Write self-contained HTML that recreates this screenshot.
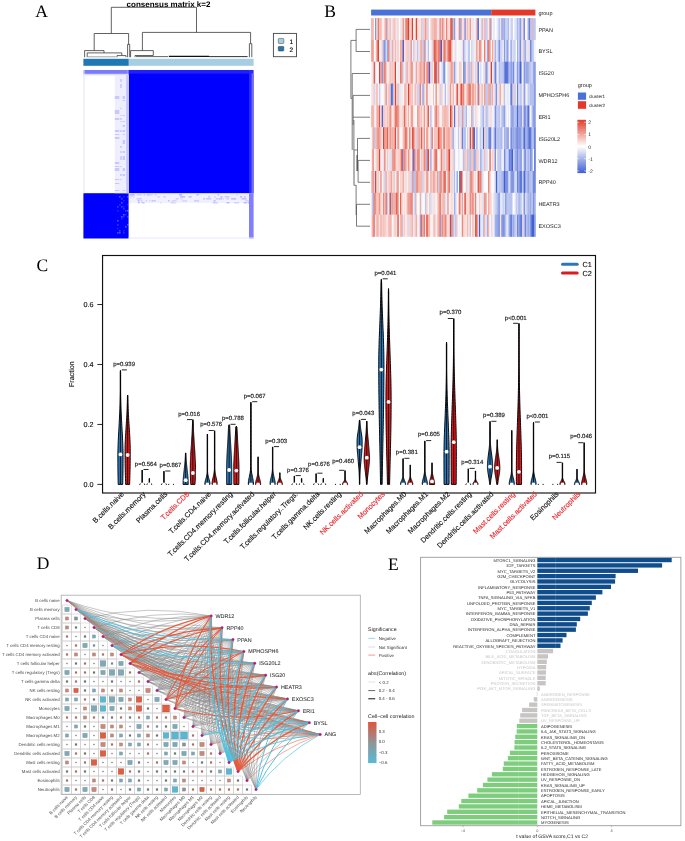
<!DOCTYPE html>
<html><head><meta charset="utf-8"><style>
html,body{margin:0;padding:0;background:#fff;}
svg{display:block;filter:blur(0.3px);}

</style></head><body>
<svg width="685" height="841" viewBox="0 0 685 841" text-rendering="geometricPrecision">
<rect width="685" height="841" fill="#fff"/>
<text x="35.20" y="16.80" font-size="17.5" text-anchor="start" fill="#000" font-family='"Liberation Serif", serif' font-weight="normal" >A</text>
<text x="324.30" y="16.80" font-size="17.5" text-anchor="start" fill="#000" font-family='"Liberation Serif", serif' font-weight="normal" >B</text>
<text x="36.50" y="270.80" font-size="17.5" text-anchor="start" fill="#000" font-family='"Liberation Serif", serif' font-weight="normal" >C</text>
<text x="36.80" y="568.80" font-size="17.5" text-anchor="start" fill="#000" font-family='"Liberation Serif", serif' font-weight="normal" >D</text>
<text x="388.00" y="570.20" font-size="17.5" text-anchor="start" fill="#000" font-family='"Liberation Serif", serif' font-weight="normal" >E</text>
<text x="168.50" y="6.80" font-size="8.0" text-anchor="middle" fill="#000" font-family='"Liberation Sans", sans-serif' font-weight="bold" >consensus matrix k=2</text>
<line x1="111.30" y1="7.30" x2="196.50" y2="7.30" stroke="#3a3a3a" stroke-width="0.8" />
<line x1="111.30" y1="7.30" x2="111.30" y2="33.50" stroke="#3a3a3a" stroke-width="0.8" />
<line x1="196.50" y1="7.30" x2="196.50" y2="32.40" stroke="#3a3a3a" stroke-width="0.8" />
<line x1="94.20" y1="33.50" x2="128.60" y2="33.50" stroke="#3a3a3a" stroke-width="0.8" />
<line x1="94.20" y1="33.50" x2="94.20" y2="50.60" stroke="#3a3a3a" stroke-width="0.8" />
<line x1="128.60" y1="33.50" x2="128.60" y2="44.40" stroke="#3a3a3a" stroke-width="0.8" />
<line x1="84.60" y1="50.60" x2="104.00" y2="50.60" stroke="#3a3a3a" stroke-width="0.8" />
<line x1="84.60" y1="50.60" x2="84.60" y2="57.20" stroke="#3a3a3a" stroke-width="0.8" />
<line x1="104.00" y1="50.60" x2="104.00" y2="52.90" stroke="#3a3a3a" stroke-width="0.8" />
<line x1="87.20" y1="52.90" x2="121.80" y2="52.90" stroke="#3a3a3a" stroke-width="0.8" />
<line x1="87.20" y1="52.90" x2="87.20" y2="57.20" stroke="#3a3a3a" stroke-width="0.8" />
<line x1="121.80" y1="52.90" x2="121.80" y2="55.60" stroke="#3a3a3a" stroke-width="0.8" />
<line x1="117.00" y1="55.60" x2="126.00" y2="55.60" stroke="#3a3a3a" stroke-width="0.8" />
<line x1="117.00" y1="55.60" x2="117.00" y2="57.20" stroke="#3a3a3a" stroke-width="0.8" />
<line x1="126.00" y1="55.60" x2="126.00" y2="57.20" stroke="#3a3a3a" stroke-width="0.8" />
<line x1="127.60" y1="44.40" x2="129.70" y2="44.40" stroke="#3a3a3a" stroke-width="0.8" />
<line x1="127.60" y1="44.40" x2="127.60" y2="57.20" stroke="#3a3a3a" stroke-width="0.8" />
<line x1="129.70" y1="44.40" x2="129.70" y2="57.20" stroke="#3a3a3a" stroke-width="0.8" />
<line x1="142.40" y1="32.40" x2="250.60" y2="32.40" stroke="#3a3a3a" stroke-width="0.8" />
<line x1="142.40" y1="32.40" x2="142.40" y2="50.60" stroke="#3a3a3a" stroke-width="0.8" />
<line x1="250.60" y1="32.40" x2="250.60" y2="43.70" stroke="#3a3a3a" stroke-width="0.8" />
<line x1="130.60" y1="50.60" x2="153.30" y2="50.60" stroke="#3a3a3a" stroke-width="0.8" />
<line x1="130.60" y1="50.60" x2="130.60" y2="57.20" stroke="#3a3a3a" stroke-width="0.8" />
<line x1="153.30" y1="50.60" x2="153.30" y2="55.50" stroke="#3a3a3a" stroke-width="0.8" />
<line x1="135.00" y1="55.50" x2="153.30" y2="55.50" stroke="#3a3a3a" stroke-width="0.8" />
<line x1="135.00" y1="55.50" x2="135.00" y2="57.20" stroke="#3a3a3a" stroke-width="0.8" />
<line x1="249.40" y1="43.70" x2="251.80" y2="43.70" stroke="#3a3a3a" stroke-width="0.8" />
<line x1="249.40" y1="43.70" x2="249.40" y2="57.20" stroke="#3a3a3a" stroke-width="0.8" />
<line x1="251.80" y1="43.70" x2="251.80" y2="57.20" stroke="#3a3a3a" stroke-width="0.8" />
<line x1="136.00" y1="56.60" x2="168.00" y2="56.60" stroke="#555" stroke-width="0.9" />
<line x1="168.80" y1="56.40" x2="209.00" y2="56.40" stroke="#111" stroke-width="1.4" />
<line x1="209.00" y1="56.60" x2="247.60" y2="56.60" stroke="#333" stroke-width="1.0" />
<line x1="88.00" y1="56.80" x2="116.00" y2="56.80" stroke="#666" stroke-width="0.6" />
<rect x="83.40" y="58.80" width="45.40" height="7.00" fill="#1f78b4" />
<rect x="128.80" y="58.80" width="124.80" height="7.00" fill="#a6cee3" />
<rect x="83.40" y="70.00" width="170.20" height="168.50" fill="#ffffff" />
<rect x="128.60" y="70.00" width="120.40" height="123.20" fill="#0000ff" />
<rect x="249.00" y="70.00" width="4.60" height="123.20" fill="#2a2aff" />
<rect x="251.60" y="73.50" width="2.00" height="119.70" fill="#7070ff" />
<rect x="83.40" y="193.20" width="45.20" height="45.30" fill="#0000ff" />
<rect x="83.40" y="70.00" width="44.40" height="3.90" fill="#7a7aff" />
<rect x="128.60" y="70.00" width="120.40" height="3.60" fill="#2020ff" />
<rect x="83.40" y="73.90" width="44.40" height="1.40" fill="#d8d8ff" />
<rect x="83.40" y="70.00" width="1.10" height="123.20" fill="#e4e4ff" />
<rect x="114.80" y="75.00" width="13.80" height="118.20" fill="#eeeeff" />
<rect x="126.20" y="75.00" width="2.40" height="118.20" fill="#c4c4ff" />
<rect x="120.20" y="79.00" width="1.60" height="3.00" fill="#c8c8ff" />
<rect x="120.20" y="84.00" width="1.60" height="4.00" fill="#c8c8ff" />
<rect x="114.80" y="96.00" width="4.50" height="3.00" fill="#c8c8ff" />
<rect x="122.60" y="96.00" width="2.40" height="3.00" fill="#c8c8ff" />
<rect x="122.60" y="100.00" width="2.40" height="1.00" fill="#c8c8ff" />
<rect x="120.20" y="108.00" width="1.60" height="1.00" fill="#c8c8ff" />
<rect x="114.80" y="110.00" width="4.50" height="4.00" fill="#c8c8ff" />
<rect x="120.20" y="115.00" width="1.60" height="1.00" fill="#c8c8ff" />
<rect x="122.60" y="115.00" width="2.40" height="1.00" fill="#c8c8ff" />
<rect x="114.80" y="118.00" width="4.50" height="2.00" fill="#c8c8ff" />
<rect x="120.20" y="118.00" width="1.60" height="2.00" fill="#c8c8ff" />
<rect x="120.20" y="121.00" width="1.60" height="1.00" fill="#c8c8ff" />
<rect x="122.60" y="121.00" width="2.40" height="1.00" fill="#c8c8ff" />
<rect x="122.60" y="125.00" width="2.40" height="2.00" fill="#c8c8ff" />
<rect x="114.80" y="130.00" width="4.50" height="2.00" fill="#c8c8ff" />
<rect x="120.20" y="130.00" width="1.60" height="2.00" fill="#c8c8ff" />
<rect x="122.60" y="130.00" width="2.40" height="2.00" fill="#c8c8ff" />
<rect x="114.80" y="134.00" width="4.50" height="1.00" fill="#c8c8ff" />
<rect x="122.60" y="134.00" width="2.40" height="1.00" fill="#c8c8ff" />
<rect x="114.80" y="137.00" width="4.50" height="2.00" fill="#c8c8ff" />
<rect x="122.60" y="140.00" width="2.40" height="4.00" fill="#c8c8ff" />
<rect x="120.20" y="146.00" width="1.60" height="2.00" fill="#c8c8ff" />
<rect x="120.20" y="151.00" width="1.60" height="2.00" fill="#c8c8ff" />
<rect x="122.60" y="151.00" width="2.40" height="2.00" fill="#c8c8ff" />
<rect x="120.20" y="156.00" width="1.60" height="4.00" fill="#c8c8ff" />
<rect x="122.60" y="156.00" width="2.40" height="4.00" fill="#c8c8ff" />
<rect x="114.80" y="162.00" width="4.50" height="2.00" fill="#c8c8ff" />
<rect x="114.80" y="166.00" width="4.50" height="1.00" fill="#c8c8ff" />
<rect x="120.20" y="166.00" width="1.60" height="1.00" fill="#c8c8ff" />
<rect x="114.80" y="168.00" width="4.50" height="3.00" fill="#c8c8ff" />
<rect x="122.60" y="168.00" width="2.40" height="3.00" fill="#c8c8ff" />
<rect x="120.20" y="174.00" width="1.60" height="2.00" fill="#c8c8ff" />
<rect x="122.60" y="174.00" width="2.40" height="2.00" fill="#c8c8ff" />
<rect x="114.80" y="179.00" width="4.50" height="1.00" fill="#c8c8ff" />
<rect x="120.20" y="179.00" width="1.60" height="1.00" fill="#c8c8ff" />
<rect x="114.80" y="183.00" width="4.50" height="1.00" fill="#c8c8ff" />
<rect x="114.80" y="190.00" width="4.50" height="1.00" fill="#c8c8ff" />
<rect x="122.60" y="190.00" width="2.40" height="1.00" fill="#c8c8ff" />
<rect x="129.10" y="194.00" width="119.90" height="9.00" fill="#f0f0ff" />
<rect x="129.60" y="194.00" width="5.00" height="1.60" fill="#0000ff" fill-opacity="0.22"/>
<rect x="136.60" y="194.00" width="5.00" height="1.60" fill="#0000ff" fill-opacity="0.11"/>
<rect x="143.60" y="194.00" width="1.50" height="1.60" fill="#0000ff" fill-opacity="0.16"/>
<rect x="147.10" y="194.00" width="1.50" height="1.60" fill="#0000ff" fill-opacity="0.24"/>
<rect x="149.10" y="194.00" width="1.50" height="1.60" fill="#0000ff" fill-opacity="0.15"/>
<rect x="151.10" y="194.00" width="1.50" height="1.60" fill="#0000ff" fill-opacity="0.13"/>
<rect x="154.60" y="194.00" width="2.00" height="1.60" fill="#0000ff" fill-opacity="0.10"/>
<rect x="179.10" y="194.00" width="3.00" height="1.60" fill="#0000ff" fill-opacity="0.25"/>
<rect x="196.10" y="194.00" width="3.00" height="1.60" fill="#0000ff" fill-opacity="0.16"/>
<rect x="217.60" y="194.00" width="1.50" height="1.60" fill="#0000ff" fill-opacity="0.19"/>
<rect x="236.60" y="194.00" width="1.50" height="1.60" fill="#0000ff" fill-opacity="0.09"/>
<rect x="129.60" y="196.00" width="5.00" height="1.60" fill="#0000ff" fill-opacity="0.08"/>
<rect x="157.10" y="196.00" width="3.00" height="1.60" fill="#0000ff" fill-opacity="0.10"/>
<rect x="163.60" y="196.00" width="2.00" height="1.60" fill="#0000ff" fill-opacity="0.16"/>
<rect x="180.10" y="196.00" width="5.00" height="1.60" fill="#0000ff" fill-opacity="0.22"/>
<rect x="188.60" y="196.00" width="3.00" height="1.60" fill="#0000ff" fill-opacity="0.21"/>
<rect x="208.10" y="196.00" width="2.00" height="1.60" fill="#0000ff" fill-opacity="0.16"/>
<rect x="214.10" y="196.00" width="1.50" height="1.60" fill="#0000ff" fill-opacity="0.13"/>
<rect x="220.60" y="196.00" width="2.00" height="1.60" fill="#0000ff" fill-opacity="0.24"/>
<rect x="224.60" y="196.00" width="5.00" height="1.60" fill="#0000ff" fill-opacity="0.16"/>
<rect x="240.10" y="196.00" width="2.00" height="1.60" fill="#0000ff" fill-opacity="0.23"/>
<rect x="244.10" y="196.00" width="1.50" height="1.60" fill="#0000ff" fill-opacity="0.23"/>
<rect x="136.60" y="198.00" width="5.00" height="1.60" fill="#0000ff" fill-opacity="0.15"/>
<rect x="175.60" y="198.00" width="3.00" height="1.60" fill="#0000ff" fill-opacity="0.14"/>
<rect x="180.60" y="198.00" width="2.00" height="1.60" fill="#0000ff" fill-opacity="0.10"/>
<rect x="203.10" y="198.00" width="2.00" height="1.60" fill="#0000ff" fill-opacity="0.17"/>
<rect x="206.10" y="198.00" width="5.00" height="1.60" fill="#0000ff" fill-opacity="0.16"/>
<rect x="215.60" y="198.00" width="3.00" height="1.60" fill="#0000ff" fill-opacity="0.15"/>
<rect x="219.10" y="198.00" width="3.00" height="1.60" fill="#0000ff" fill-opacity="0.21"/>
<rect x="222.60" y="198.00" width="1.50" height="1.60" fill="#0000ff" fill-opacity="0.12"/>
<rect x="226.10" y="198.00" width="3.00" height="1.60" fill="#0000ff" fill-opacity="0.14"/>
<rect x="231.10" y="198.00" width="5.00" height="1.60" fill="#0000ff" fill-opacity="0.20"/>
<rect x="241.60" y="198.00" width="5.00" height="1.60" fill="#0000ff" fill-opacity="0.19"/>
<rect x="137.60" y="200.00" width="2.00" height="1.60" fill="#0000ff" fill-opacity="0.21"/>
<rect x="140.60" y="200.00" width="2.00" height="1.60" fill="#0000ff" fill-opacity="0.13"/>
<rect x="145.60" y="200.00" width="1.50" height="1.60" fill="#0000ff" fill-opacity="0.12"/>
<rect x="149.10" y="200.00" width="1.50" height="1.60" fill="#0000ff" fill-opacity="0.10"/>
<rect x="151.60" y="200.00" width="2.00" height="1.60" fill="#0000ff" fill-opacity="0.19"/>
<rect x="154.10" y="200.00" width="1.50" height="1.60" fill="#0000ff" fill-opacity="0.20"/>
<rect x="168.10" y="200.00" width="1.50" height="1.60" fill="#0000ff" fill-opacity="0.21"/>
<rect x="171.60" y="200.00" width="5.00" height="1.60" fill="#0000ff" fill-opacity="0.11"/>
<rect x="182.10" y="200.00" width="5.00" height="1.60" fill="#0000ff" fill-opacity="0.10"/>
<rect x="194.10" y="200.00" width="5.00" height="1.60" fill="#0000ff" fill-opacity="0.14"/>
<rect x="213.60" y="200.00" width="2.00" height="1.60" fill="#0000ff" fill-opacity="0.21"/>
<rect x="245.10" y="200.00" width="5.00" height="1.60" fill="#0000ff" fill-opacity="0.11"/>
<rect x="138.10" y="202.00" width="1.50" height="1.60" fill="#0000ff" fill-opacity="0.24"/>
<rect x="141.60" y="202.00" width="3.00" height="1.60" fill="#0000ff" fill-opacity="0.19"/>
<rect x="160.10" y="202.00" width="1.50" height="1.60" fill="#0000ff" fill-opacity="0.10"/>
<rect x="170.60" y="202.00" width="5.00" height="1.60" fill="#0000ff" fill-opacity="0.12"/>
<rect x="212.60" y="202.00" width="5.00" height="1.60" fill="#0000ff" fill-opacity="0.15"/>
<rect x="226.60" y="202.00" width="3.00" height="1.60" fill="#0000ff" fill-opacity="0.21"/>
<rect x="234.10" y="202.00" width="5.00" height="1.60" fill="#0000ff" fill-opacity="0.13"/>
<rect x="243.60" y="202.00" width="3.00" height="1.60" fill="#0000ff" fill-opacity="0.23"/>
<rect x="247.60" y="202.00" width="5.00" height="1.60" fill="#0000ff" fill-opacity="0.21"/>
<rect x="119.00" y="196.00" width="1.60" height="1.60" fill="#ffffff" fill-opacity="0.29"/>
<rect x="123.00" y="196.00" width="1.60" height="1.60" fill="#ffffff" fill-opacity="0.12"/>
<rect x="127.00" y="196.00" width="1.60" height="1.60" fill="#ffffff" fill-opacity="0.23"/>
<rect x="121.00" y="198.00" width="1.60" height="1.60" fill="#ffffff" fill-opacity="0.27"/>
<rect x="123.00" y="200.00" width="1.60" height="1.60" fill="#ffffff" fill-opacity="0.13"/>
<rect x="121.00" y="202.00" width="1.60" height="1.60" fill="#ffffff" fill-opacity="0.31"/>
<rect x="119.00" y="204.00" width="1.60" height="1.60" fill="#ffffff" fill-opacity="0.17"/>
<rect x="127.00" y="204.00" width="1.60" height="1.60" fill="#ffffff" fill-opacity="0.12"/>
<rect x="117.00" y="206.00" width="1.60" height="1.60" fill="#ffffff" fill-opacity="0.23"/>
<rect x="121.00" y="206.00" width="1.60" height="1.60" fill="#ffffff" fill-opacity="0.26"/>
<rect x="123.00" y="206.00" width="1.60" height="1.60" fill="#ffffff" fill-opacity="0.13"/>
<rect x="123.00" y="208.00" width="1.60" height="1.60" fill="#ffffff" fill-opacity="0.20"/>
<rect x="117.00" y="210.00" width="1.60" height="1.60" fill="#ffffff" fill-opacity="0.14"/>
<rect x="125.00" y="210.00" width="1.60" height="1.60" fill="#ffffff" fill-opacity="0.23"/>
<rect x="127.00" y="210.00" width="1.60" height="1.60" fill="#ffffff" fill-opacity="0.34"/>
<rect x="123.00" y="214.00" width="1.60" height="1.60" fill="#ffffff" fill-opacity="0.36"/>
<rect x="125.00" y="214.00" width="1.60" height="1.60" fill="#ffffff" fill-opacity="0.12"/>
<rect x="121.00" y="216.00" width="1.60" height="1.60" fill="#ffffff" fill-opacity="0.33"/>
<rect x="123.00" y="216.00" width="1.60" height="1.60" fill="#ffffff" fill-opacity="0.16"/>
<rect x="127.00" y="216.00" width="1.60" height="1.60" fill="#ffffff" fill-opacity="0.19"/>
<rect x="121.00" y="218.00" width="1.60" height="1.60" fill="#ffffff" fill-opacity="0.14"/>
<rect x="117.00" y="220.00" width="1.60" height="1.60" fill="#ffffff" fill-opacity="0.31"/>
<rect x="117.00" y="224.00" width="1.60" height="1.60" fill="#ffffff" fill-opacity="0.21"/>
<rect x="127.00" y="224.00" width="1.60" height="1.60" fill="#ffffff" fill-opacity="0.27"/>
<rect x="125.00" y="226.00" width="1.60" height="1.60" fill="#ffffff" fill-opacity="0.33"/>
<rect x="117.00" y="228.00" width="1.60" height="1.60" fill="#ffffff" fill-opacity="0.11"/>
<rect x="119.00" y="230.00" width="1.60" height="1.60" fill="#ffffff" fill-opacity="0.26"/>
<rect x="123.00" y="230.00" width="1.60" height="1.60" fill="#ffffff" fill-opacity="0.12"/>
<rect x="117.00" y="232.00" width="1.60" height="1.60" fill="#ffffff" fill-opacity="0.29"/>
<rect x="119.00" y="232.00" width="1.60" height="1.60" fill="#ffffff" fill-opacity="0.32"/>
<rect x="123.00" y="232.00" width="1.60" height="1.60" fill="#ffffff" fill-opacity="0.17"/>
<rect x="249.00" y="193.20" width="4.60" height="45.30" fill="#8080ff" />
<rect x="128.60" y="237.50" width="125.00" height="1.00" fill="#e8e8ff" />
<rect x="273.40" y="33.40" width="23.10" height="23.30" fill="#fff" stroke="#444" stroke-width="0.9"/>
<rect x="278.30" y="38.40" width="5.50" height="5.10" fill="#a6cee3" stroke="#555" stroke-width="0.6" rx="0.8"/>
<rect x="278.30" y="46.40" width="5.50" height="4.60" fill="#1f78b4" stroke="#444" stroke-width="0.6" rx="0.8"/>
<text x="289.60" y="43.90" font-size="6.5" text-anchor="start" fill="#000" stroke="#000" stroke-width="0.14" font-family='"Liberation Sans", sans-serif' font-weight="normal" >1</text>
<text x="289.60" y="51.50" font-size="6.5" text-anchor="start" fill="#000" stroke="#000" stroke-width="0.14" font-family='"Liberation Sans", sans-serif' font-weight="normal" >2</text>
<rect x="371.10" y="18.10" width="1.66" height="22.14" fill="#f2b3ac" />
<rect x="372.41" y="18.10" width="1.66" height="22.14" fill="#f2b1a9" />
<rect x="373.73" y="18.10" width="1.66" height="22.14" fill="#fcfcfe" />
<rect x="375.04" y="18.10" width="1.66" height="22.14" fill="#7f93e1" />
<rect x="376.36" y="18.10" width="1.66" height="22.14" fill="#f9deda" />
<rect x="377.67" y="18.10" width="1.66" height="22.14" fill="#ea7c6f" />
<rect x="378.99" y="18.10" width="1.66" height="22.14" fill="#f4bfb9" />
<rect x="380.30" y="18.10" width="1.66" height="22.14" fill="#f2b0a8" />
<rect x="381.62" y="18.10" width="1.66" height="22.14" fill="#fcf1ef" />
<rect x="382.93" y="18.10" width="1.66" height="22.14" fill="#fcf1ef" />
<rect x="384.24" y="18.10" width="1.66" height="22.14" fill="#f5c2bc" />
<rect x="385.56" y="18.10" width="1.66" height="22.14" fill="#ec8d81" />
<rect x="386.87" y="18.10" width="1.66" height="22.14" fill="#bdc8f0" />
<rect x="388.19" y="18.10" width="1.66" height="22.14" fill="#f8d6d2" />
<rect x="389.50" y="18.10" width="1.66" height="22.14" fill="#f4bbb4" />
<rect x="390.82" y="18.10" width="1.66" height="22.14" fill="#e6eaf9" />
<rect x="392.13" y="18.10" width="1.66" height="22.14" fill="#f8d7d3" />
<rect x="393.44" y="18.10" width="1.66" height="22.14" fill="#f4bcb5" />
<rect x="394.76" y="18.10" width="1.66" height="22.14" fill="#f8d3cf" />
<rect x="396.07" y="18.10" width="1.66" height="22.14" fill="#e3e8f8" />
<rect x="397.39" y="18.10" width="1.66" height="22.14" fill="#f7cec9" />
<rect x="398.70" y="18.10" width="1.66" height="22.14" fill="#fefefe" />
<rect x="400.02" y="18.10" width="1.66" height="22.14" fill="#e7ebf9" />
<rect x="401.33" y="18.10" width="1.66" height="22.14" fill="#f8d8d4" />
<rect x="402.65" y="18.10" width="1.66" height="22.14" fill="#ee988e" />
<rect x="403.96" y="18.10" width="1.66" height="22.14" fill="#fbe6e3" />
<rect x="405.27" y="18.10" width="1.66" height="22.14" fill="#e97a6c" />
<rect x="406.59" y="18.10" width="1.66" height="22.14" fill="#eb8376" />
<rect x="407.90" y="18.10" width="1.66" height="22.14" fill="#e03e2a" />
<rect x="409.22" y="18.10" width="1.66" height="22.14" fill="#f7d0cb" />
<rect x="410.53" y="18.10" width="1.66" height="22.14" fill="#f6c9c4" />
<rect x="411.85" y="18.10" width="1.66" height="22.14" fill="#e03e2a" />
<rect x="413.16" y="18.10" width="1.66" height="22.14" fill="#fdf8f7" />
<rect x="414.48" y="18.10" width="1.66" height="22.14" fill="#fae6e3" />
<rect x="415.79" y="18.10" width="1.66" height="22.14" fill="#e14532" />
<rect x="417.10" y="18.10" width="1.66" height="22.14" fill="#f7d1cc" />
<rect x="418.42" y="18.10" width="1.66" height="22.14" fill="#fae3e0" />
<rect x="419.73" y="18.10" width="1.66" height="22.14" fill="#e6eaf9" />
<rect x="421.05" y="18.10" width="1.66" height="22.14" fill="#f4beb7" />
<rect x="422.36" y="18.10" width="1.66" height="22.14" fill="#cfd6f4" />
<rect x="423.68" y="18.10" width="1.66" height="22.14" fill="#f6c9c4" />
<rect x="424.99" y="18.10" width="1.66" height="22.14" fill="#ee978c" />
<rect x="426.30" y="18.10" width="1.66" height="22.14" fill="#f5c5bf" />
<rect x="427.62" y="18.10" width="1.66" height="22.14" fill="#d4dbf5" />
<rect x="428.93" y="18.10" width="1.66" height="22.14" fill="#fdf8f7" />
<rect x="430.25" y="18.10" width="1.66" height="22.14" fill="#f8d6d2" />
<rect x="431.56" y="18.10" width="1.66" height="22.14" fill="#f4c0ba" />
<rect x="432.88" y="18.10" width="1.66" height="22.14" fill="#f4c0ba" />
<rect x="434.19" y="18.10" width="1.66" height="22.14" fill="#f0a49b" />
<rect x="435.51" y="18.10" width="1.66" height="22.14" fill="#f2b3ac" />
<rect x="436.82" y="18.10" width="1.66" height="22.14" fill="#f9deda" />
<rect x="438.13" y="18.10" width="1.66" height="22.14" fill="#e2e6f8" />
<rect x="439.45" y="18.10" width="1.66" height="22.14" fill="#ec8a7e" />
<rect x="440.76" y="18.10" width="1.66" height="22.14" fill="#f5c4be" />
<rect x="442.08" y="18.10" width="1.66" height="22.14" fill="#eb8477" />
<rect x="443.39" y="18.10" width="1.66" height="22.14" fill="#f5c1ba" />
<rect x="444.71" y="18.10" width="1.66" height="22.14" fill="#fcedec" />
<rect x="446.02" y="18.10" width="1.66" height="22.14" fill="#ea8174" />
<rect x="447.34" y="18.10" width="1.66" height="22.14" fill="#f8d4cf" />
<rect x="448.65" y="18.10" width="1.66" height="22.14" fill="#fbe9e7" />
<rect x="449.96" y="18.10" width="1.66" height="22.14" fill="#e9796b" />
<rect x="451.28" y="18.10" width="1.66" height="22.14" fill="#e03e2a" />
<rect x="452.59" y="18.10" width="1.66" height="22.14" fill="#c0caf0" />
<rect x="453.91" y="18.10" width="1.66" height="22.14" fill="#8a9ce4" />
<rect x="455.22" y="18.10" width="1.66" height="22.14" fill="#fadfdc" />
<rect x="456.54" y="18.10" width="1.66" height="22.14" fill="#fafbfe" />
<rect x="457.85" y="18.10" width="1.66" height="22.14" fill="#d0d8f4" />
<rect x="459.16" y="18.10" width="1.66" height="22.14" fill="#e87567" />
<rect x="460.48" y="18.10" width="1.66" height="22.14" fill="#a1b0e9" />
<rect x="461.79" y="18.10" width="1.66" height="22.14" fill="#fae1de" />
<rect x="463.11" y="18.10" width="1.66" height="22.14" fill="#f8d8d4" />
<rect x="464.42" y="18.10" width="1.66" height="22.14" fill="#778ce0" />
<rect x="465.74" y="18.10" width="1.66" height="22.14" fill="#f8d6d2" />
<rect x="467.05" y="18.10" width="1.66" height="22.14" fill="#f3b9b2" />
<rect x="468.37" y="18.10" width="1.66" height="22.14" fill="#f9dfdc" />
<rect x="469.68" y="18.10" width="1.66" height="22.14" fill="#ee998e" />
<rect x="470.99" y="18.10" width="1.66" height="22.14" fill="#eceffa" />
<rect x="472.31" y="18.10" width="1.66" height="22.14" fill="#f9dcd8" />
<rect x="473.62" y="18.10" width="1.66" height="22.14" fill="#f2f4fc" />
<rect x="474.94" y="18.10" width="1.66" height="22.14" fill="#e7ebf9" />
<rect x="476.25" y="18.10" width="1.66" height="22.14" fill="#f0a59c" />
<rect x="477.57" y="18.10" width="1.66" height="22.14" fill="#4260d4" />
<rect x="478.88" y="18.10" width="1.66" height="22.14" fill="#f4f6fc" />
<rect x="480.20" y="18.10" width="1.66" height="22.14" fill="#e8ecf9" />
<rect x="481.51" y="18.10" width="1.66" height="22.14" fill="#f1aaa2" />
<rect x="482.82" y="18.10" width="1.66" height="22.14" fill="#dde3f7" />
<rect x="484.14" y="18.10" width="1.66" height="22.14" fill="#f2b3ab" />
<rect x="485.45" y="18.10" width="1.66" height="22.14" fill="#c0caf0" />
<rect x="486.77" y="18.10" width="1.66" height="22.14" fill="#d2d9f4" />
<rect x="488.08" y="18.10" width="1.66" height="22.14" fill="#fceceb" />
<rect x="489.40" y="18.10" width="1.66" height="22.14" fill="#ea8174" />
<rect x="490.71" y="18.10" width="1.66" height="22.14" fill="#bbc5ef" />
<rect x="492.02" y="18.10" width="1.66" height="22.14" fill="#fdf6f6" />
<rect x="493.34" y="18.10" width="1.66" height="22.14" fill="#dde2f7" />
<rect x="494.65" y="18.10" width="1.66" height="22.14" fill="#fefefe" />
<rect x="495.97" y="18.10" width="1.66" height="22.14" fill="#f3f5fc" />
<rect x="497.28" y="18.10" width="1.66" height="22.14" fill="#dfe4f7" />
<rect x="498.60" y="18.10" width="1.66" height="22.14" fill="#b6c1ee" />
<rect x="499.91" y="18.10" width="1.66" height="22.14" fill="#fae2df" />
<rect x="501.23" y="18.10" width="1.66" height="22.14" fill="#92a3e6" />
<rect x="502.54" y="18.10" width="1.66" height="22.14" fill="#acb9ec" />
<rect x="503.85" y="18.10" width="1.66" height="22.14" fill="#9babe8" />
<rect x="505.17" y="18.10" width="1.66" height="22.14" fill="#c3cdf1" />
<rect x="506.48" y="18.10" width="1.66" height="22.14" fill="#cbd3f3" />
<rect x="507.80" y="18.10" width="1.66" height="22.14" fill="#afbbec" />
<rect x="509.11" y="18.10" width="1.66" height="22.14" fill="#fcf1f0" />
<rect x="510.43" y="18.10" width="1.66" height="22.14" fill="#c9d1f2" />
<rect x="511.74" y="18.10" width="1.66" height="22.14" fill="#cdd5f3" />
<rect x="513.06" y="18.10" width="1.66" height="22.14" fill="#fefefe" />
<rect x="514.37" y="18.10" width="1.66" height="22.14" fill="#e0e5f8" />
<rect x="515.68" y="18.10" width="1.66" height="22.14" fill="#d7ddf6" />
<rect x="517.00" y="18.10" width="1.66" height="22.14" fill="#aab8eb" />
<rect x="518.31" y="18.10" width="1.66" height="22.14" fill="#c6cff2" />
<rect x="519.63" y="18.10" width="1.66" height="22.14" fill="#8699e3" />
<rect x="520.94" y="18.10" width="1.66" height="22.14" fill="#ced5f3" />
<rect x="522.26" y="18.10" width="1.66" height="22.14" fill="#f8d9d5" />
<rect x="523.57" y="18.10" width="1.66" height="22.14" fill="#627bdb" />
<rect x="524.88" y="18.10" width="1.66" height="22.14" fill="#fef9f8" />
<rect x="526.20" y="18.10" width="1.66" height="22.14" fill="#fdf5f4" />
<rect x="527.51" y="18.10" width="1.66" height="22.14" fill="#a9b7eb" />
<rect x="528.83" y="18.10" width="1.66" height="22.14" fill="#677fdc" />
<rect x="530.14" y="18.10" width="1.66" height="22.14" fill="#b4c0ee" />
<rect x="531.46" y="18.10" width="1.66" height="22.14" fill="#f2b1a9" />
<rect x="532.77" y="18.10" width="1.66" height="22.14" fill="#bac5ef" />
<rect x="534.09" y="18.10" width="1.66" height="22.14" fill="#bac5ef" />
<rect x="371.10" y="39.94" width="1.66" height="22.14" fill="#f0a298" />
<rect x="372.41" y="39.94" width="1.66" height="22.14" fill="#ed9084" />
<rect x="373.73" y="39.94" width="1.66" height="22.14" fill="#fefdfd" />
<rect x="375.04" y="39.94" width="1.66" height="22.14" fill="#fbebe9" />
<rect x="376.36" y="39.94" width="1.66" height="22.14" fill="#ed9085" />
<rect x="377.67" y="39.94" width="1.66" height="22.14" fill="#e04330" />
<rect x="378.99" y="39.94" width="1.66" height="22.14" fill="#fcf0ef" />
<rect x="380.30" y="39.94" width="1.66" height="22.14" fill="#eceffa" />
<rect x="381.62" y="39.94" width="1.66" height="22.14" fill="#f6cac5" />
<rect x="382.93" y="39.94" width="1.66" height="22.14" fill="#a8b5eb" />
<rect x="384.24" y="39.94" width="1.66" height="22.14" fill="#6d84dd" />
<rect x="385.56" y="39.94" width="1.66" height="22.14" fill="#dbe1f7" />
<rect x="386.87" y="39.94" width="1.66" height="22.14" fill="#97a7e7" />
<rect x="388.19" y="39.94" width="1.66" height="22.14" fill="#e9796c" />
<rect x="389.50" y="39.94" width="1.66" height="22.14" fill="#f8d6d2" />
<rect x="390.82" y="39.94" width="1.66" height="22.14" fill="#d7ddf6" />
<rect x="392.13" y="39.94" width="1.66" height="22.14" fill="#f0a39a" />
<rect x="393.44" y="39.94" width="1.66" height="22.14" fill="#e7eaf9" />
<rect x="394.76" y="39.94" width="1.66" height="22.14" fill="#f3bab3" />
<rect x="396.07" y="39.94" width="1.66" height="22.14" fill="#fae0dc" />
<rect x="397.39" y="39.94" width="1.66" height="22.14" fill="#f5c5bf" />
<rect x="398.70" y="39.94" width="1.66" height="22.14" fill="#fdf8f7" />
<rect x="400.02" y="39.94" width="1.66" height="22.14" fill="#f1aca3" />
<rect x="401.33" y="39.94" width="1.66" height="22.14" fill="#f0a69d" />
<rect x="402.65" y="39.94" width="1.66" height="22.14" fill="#4260d4" />
<rect x="403.96" y="39.94" width="1.66" height="22.14" fill="#fae4e1" />
<rect x="405.27" y="39.94" width="1.66" height="22.14" fill="#f8d5d1" />
<rect x="406.59" y="39.94" width="1.66" height="22.14" fill="#f6c9c3" />
<rect x="407.90" y="39.94" width="1.66" height="22.14" fill="#f6c8c2" />
<rect x="409.22" y="39.94" width="1.66" height="22.14" fill="#d5dcf5" />
<rect x="410.53" y="39.94" width="1.66" height="22.14" fill="#ec8e82" />
<rect x="411.85" y="39.94" width="1.66" height="22.14" fill="#fceeec" />
<rect x="413.16" y="39.94" width="1.66" height="22.14" fill="#c1cbf1" />
<rect x="414.48" y="39.94" width="1.66" height="22.14" fill="#fae1dd" />
<rect x="415.79" y="39.94" width="1.66" height="22.14" fill="#fae2df" />
<rect x="417.10" y="39.94" width="1.66" height="22.14" fill="#b6c2ee" />
<rect x="418.42" y="39.94" width="1.66" height="22.14" fill="#ebeefa" />
<rect x="419.73" y="39.94" width="1.66" height="22.14" fill="#f3b8b1" />
<rect x="421.05" y="39.94" width="1.66" height="22.14" fill="#f0a79e" />
<rect x="422.36" y="39.94" width="1.66" height="22.14" fill="#c7d0f2" />
<rect x="423.68" y="39.94" width="1.66" height="22.14" fill="#ed9185" />
<rect x="424.99" y="39.94" width="1.66" height="22.14" fill="#aebbec" />
<rect x="426.30" y="39.94" width="1.66" height="22.14" fill="#fefdfd" />
<rect x="427.62" y="39.94" width="1.66" height="22.14" fill="#b3bfed" />
<rect x="428.93" y="39.94" width="1.66" height="22.14" fill="#fdf8f7" />
<rect x="430.25" y="39.94" width="1.66" height="22.14" fill="#fdf5f4" />
<rect x="431.56" y="39.94" width="1.66" height="22.14" fill="#d6ddf5" />
<rect x="432.88" y="39.94" width="1.66" height="22.14" fill="#f0a59c" />
<rect x="434.19" y="39.94" width="1.66" height="22.14" fill="#e03e2a" />
<rect x="435.51" y="39.94" width="1.66" height="22.14" fill="#ec8a7e" />
<rect x="436.82" y="39.94" width="1.66" height="22.14" fill="#f0a79d" />
<rect x="438.13" y="39.94" width="1.66" height="22.14" fill="#e87364" />
<rect x="439.45" y="39.94" width="1.66" height="22.14" fill="#e76e5f" />
<rect x="440.76" y="39.94" width="1.66" height="22.14" fill="#4260d4" />
<rect x="442.08" y="39.94" width="1.66" height="22.14" fill="#f9ddd9" />
<rect x="443.39" y="39.94" width="1.66" height="22.14" fill="#e87163" />
<rect x="444.71" y="39.94" width="1.66" height="22.14" fill="#ee998f" />
<rect x="446.02" y="39.94" width="1.66" height="22.14" fill="#f6c8c2" />
<rect x="447.34" y="39.94" width="1.66" height="22.14" fill="#ea7f71" />
<rect x="448.65" y="39.94" width="1.66" height="22.14" fill="#e45b4a" />
<rect x="449.96" y="39.94" width="1.66" height="22.14" fill="#e35645" />
<rect x="451.28" y="39.94" width="1.66" height="22.14" fill="#f3b8b1" />
<rect x="452.59" y="39.94" width="1.66" height="22.14" fill="#f8f9fd" />
<rect x="453.91" y="39.94" width="1.66" height="22.14" fill="#fbe6e3" />
<rect x="455.22" y="39.94" width="1.66" height="22.14" fill="#d8dff6" />
<rect x="456.54" y="39.94" width="1.66" height="22.14" fill="#fefdfd" />
<rect x="457.85" y="39.94" width="1.66" height="22.14" fill="#f5f7fc" />
<rect x="459.16" y="39.94" width="1.66" height="22.14" fill="#fcf0ef" />
<rect x="460.48" y="39.94" width="1.66" height="22.14" fill="#f1f3fb" />
<rect x="461.79" y="39.94" width="1.66" height="22.14" fill="#f9dcd9" />
<rect x="463.11" y="39.94" width="1.66" height="22.14" fill="#90a2e5" />
<rect x="464.42" y="39.94" width="1.66" height="22.14" fill="#d7ddf5" />
<rect x="465.74" y="39.94" width="1.66" height="22.14" fill="#eaedfa" />
<rect x="467.05" y="39.94" width="1.66" height="22.14" fill="#e6eaf9" />
<rect x="468.37" y="39.94" width="1.66" height="22.14" fill="#a5b3ea" />
<rect x="469.68" y="39.94" width="1.66" height="22.14" fill="#fbfcfe" />
<rect x="470.99" y="39.94" width="1.66" height="22.14" fill="#d1d8f4" />
<rect x="472.31" y="39.94" width="1.66" height="22.14" fill="#dbe0f6" />
<rect x="473.62" y="39.94" width="1.66" height="22.14" fill="#eceffa" />
<rect x="474.94" y="39.94" width="1.66" height="22.14" fill="#fae5e2" />
<rect x="476.25" y="39.94" width="1.66" height="22.14" fill="#ed9084" />
<rect x="477.57" y="39.94" width="1.66" height="22.14" fill="#fbe8e6" />
<rect x="478.88" y="39.94" width="1.66" height="22.14" fill="#ec8e83" />
<rect x="480.20" y="39.94" width="1.66" height="22.14" fill="#ed9085" />
<rect x="481.51" y="39.94" width="1.66" height="22.14" fill="#fcefed" />
<rect x="482.82" y="39.94" width="1.66" height="22.14" fill="#fdfdfe" />
<rect x="484.14" y="39.94" width="1.66" height="22.14" fill="#e7695a" />
<rect x="485.45" y="39.94" width="1.66" height="22.14" fill="#fefcfc" />
<rect x="486.77" y="39.94" width="1.66" height="22.14" fill="#98a8e7" />
<rect x="488.08" y="39.94" width="1.66" height="22.14" fill="#e87163" />
<rect x="489.40" y="39.94" width="1.66" height="22.14" fill="#ef9e94" />
<rect x="490.71" y="39.94" width="1.66" height="22.14" fill="#fefaf9" />
<rect x="492.02" y="39.94" width="1.66" height="22.14" fill="#f0a59b" />
<rect x="493.34" y="39.94" width="1.66" height="22.14" fill="#fae2df" />
<rect x="494.65" y="39.94" width="1.66" height="22.14" fill="#a8b6eb" />
<rect x="495.97" y="39.94" width="1.66" height="22.14" fill="#dfe4f7" />
<rect x="497.28" y="39.94" width="1.66" height="22.14" fill="#cbd3f3" />
<rect x="498.60" y="39.94" width="1.66" height="22.14" fill="#778ce0" />
<rect x="499.91" y="39.94" width="1.66" height="22.14" fill="#ccd4f3" />
<rect x="501.23" y="39.94" width="1.66" height="22.14" fill="#c9d2f2" />
<rect x="502.54" y="39.94" width="1.66" height="22.14" fill="#fcf1ef" />
<rect x="503.85" y="39.94" width="1.66" height="22.14" fill="#879ae3" />
<rect x="505.17" y="39.94" width="1.66" height="22.14" fill="#d1d8f4" />
<rect x="506.48" y="39.94" width="1.66" height="22.14" fill="#899be4" />
<rect x="507.80" y="39.94" width="1.66" height="22.14" fill="#bbc6ef" />
<rect x="509.11" y="39.94" width="1.66" height="22.14" fill="#f5f6fc" />
<rect x="510.43" y="39.94" width="1.66" height="22.14" fill="#8ea0e5" />
<rect x="511.74" y="39.94" width="1.66" height="22.14" fill="#dce1f7" />
<rect x="513.06" y="39.94" width="1.66" height="22.14" fill="#ced6f3" />
<rect x="514.37" y="39.94" width="1.66" height="22.14" fill="#c4cef1" />
<rect x="515.68" y="39.94" width="1.66" height="22.14" fill="#fefefd" />
<rect x="517.00" y="39.94" width="1.66" height="22.14" fill="#9faee9" />
<rect x="518.31" y="39.94" width="1.66" height="22.14" fill="#cfd7f4" />
<rect x="519.63" y="39.94" width="1.66" height="22.14" fill="#7087de" />
<rect x="520.94" y="39.94" width="1.66" height="22.14" fill="#d9dff6" />
<rect x="522.26" y="39.94" width="1.66" height="22.14" fill="#f8d6d2" />
<rect x="523.57" y="39.94" width="1.66" height="22.14" fill="#b1bded" />
<rect x="524.88" y="39.94" width="1.66" height="22.14" fill="#9faee9" />
<rect x="526.20" y="39.94" width="1.66" height="22.14" fill="#e5e9f9" />
<rect x="527.51" y="39.94" width="1.66" height="22.14" fill="#f9dad7" />
<rect x="528.83" y="39.94" width="1.66" height="22.14" fill="#d9dff6" />
<rect x="530.14" y="39.94" width="1.66" height="22.14" fill="#6079da" />
<rect x="531.46" y="39.94" width="1.66" height="22.14" fill="#b9c4ef" />
<rect x="532.77" y="39.94" width="1.66" height="22.14" fill="#c8d0f2" />
<rect x="534.09" y="39.94" width="1.66" height="22.14" fill="#f1f3fb" />
<rect x="371.10" y="61.78" width="1.66" height="22.14" fill="#fcefee" />
<rect x="372.41" y="61.78" width="1.66" height="22.14" fill="#f8d4d0" />
<rect x="373.73" y="61.78" width="1.66" height="22.14" fill="#e55f4f" />
<rect x="375.04" y="61.78" width="1.66" height="22.14" fill="#d8def6" />
<rect x="376.36" y="61.78" width="1.66" height="22.14" fill="#f6f8fd" />
<rect x="377.67" y="61.78" width="1.66" height="22.14" fill="#f6f8fd" />
<rect x="378.99" y="61.78" width="1.66" height="22.14" fill="#e03e2a" />
<rect x="380.30" y="61.78" width="1.66" height="22.14" fill="#f1ada4" />
<rect x="381.62" y="61.78" width="1.66" height="22.14" fill="#8195e2" />
<rect x="382.93" y="61.78" width="1.66" height="22.14" fill="#f2aea6" />
<rect x="384.24" y="61.78" width="1.66" height="22.14" fill="#e66657" />
<rect x="385.56" y="61.78" width="1.66" height="22.14" fill="#f5c2bb" />
<rect x="386.87" y="61.78" width="1.66" height="22.14" fill="#edf0fb" />
<rect x="388.19" y="61.78" width="1.66" height="22.14" fill="#fbe6e4" />
<rect x="389.50" y="61.78" width="1.66" height="22.14" fill="#f4bdb7" />
<rect x="390.82" y="61.78" width="1.66" height="22.14" fill="#f7d0cb" />
<rect x="392.13" y="61.78" width="1.66" height="22.14" fill="#f5c1bb" />
<rect x="393.44" y="61.78" width="1.66" height="22.14" fill="#f8d4d0" />
<rect x="394.76" y="61.78" width="1.66" height="22.14" fill="#e03e2a" />
<rect x="396.07" y="61.78" width="1.66" height="22.14" fill="#f8f9fd" />
<rect x="397.39" y="61.78" width="1.66" height="22.14" fill="#e6eaf9" />
<rect x="398.70" y="61.78" width="1.66" height="22.14" fill="#fceeed" />
<rect x="400.02" y="61.78" width="1.66" height="22.14" fill="#e9796b" />
<rect x="401.33" y="61.78" width="1.66" height="22.14" fill="#ee968b" />
<rect x="402.65" y="61.78" width="1.66" height="22.14" fill="#d9dff6" />
<rect x="403.96" y="61.78" width="1.66" height="22.14" fill="#fbeae7" />
<rect x="405.27" y="61.78" width="1.66" height="22.14" fill="#cdd5f3" />
<rect x="406.59" y="61.78" width="1.66" height="22.14" fill="#f2afa7" />
<rect x="407.90" y="61.78" width="1.66" height="22.14" fill="#f9dcd8" />
<rect x="409.22" y="61.78" width="1.66" height="22.14" fill="#f7cec9" />
<rect x="410.53" y="61.78" width="1.66" height="22.14" fill="#ee958a" />
<rect x="411.85" y="61.78" width="1.66" height="22.14" fill="#efa096" />
<rect x="413.16" y="61.78" width="1.66" height="22.14" fill="#fbebe9" />
<rect x="414.48" y="61.78" width="1.66" height="22.14" fill="#e6eaf9" />
<rect x="415.79" y="61.78" width="1.66" height="22.14" fill="#f0a59c" />
<rect x="417.10" y="61.78" width="1.66" height="22.14" fill="#f9dbd7" />
<rect x="418.42" y="61.78" width="1.66" height="22.14" fill="#f6c7c1" />
<rect x="419.73" y="61.78" width="1.66" height="22.14" fill="#f0a59c" />
<rect x="421.05" y="61.78" width="1.66" height="22.14" fill="#f1ada5" />
<rect x="422.36" y="61.78" width="1.66" height="22.14" fill="#f4bab3" />
<rect x="423.68" y="61.78" width="1.66" height="22.14" fill="#ea7f72" />
<rect x="424.99" y="61.78" width="1.66" height="22.14" fill="#fae2df" />
<rect x="426.30" y="61.78" width="1.66" height="22.14" fill="#eb867a" />
<rect x="427.62" y="61.78" width="1.66" height="22.14" fill="#eb887b" />
<rect x="428.93" y="61.78" width="1.66" height="22.14" fill="#4260d4" />
<rect x="430.25" y="61.78" width="1.66" height="22.14" fill="#e2e6f8" />
<rect x="431.56" y="61.78" width="1.66" height="22.14" fill="#f6c9c3" />
<rect x="432.88" y="61.78" width="1.66" height="22.14" fill="#fdf5f4" />
<rect x="434.19" y="61.78" width="1.66" height="22.14" fill="#e03e2a" />
<rect x="435.51" y="61.78" width="1.66" height="22.14" fill="#e2503e" />
<rect x="436.82" y="61.78" width="1.66" height="22.14" fill="#bec8f0" />
<rect x="438.13" y="61.78" width="1.66" height="22.14" fill="#e87567" />
<rect x="439.45" y="61.78" width="1.66" height="22.14" fill="#fefdfd" />
<rect x="440.76" y="61.78" width="1.66" height="22.14" fill="#e0e5f8" />
<rect x="442.08" y="61.78" width="1.66" height="22.14" fill="#d5dbf5" />
<rect x="443.39" y="61.78" width="1.66" height="22.14" fill="#6079da" />
<rect x="444.71" y="61.78" width="1.66" height="22.14" fill="#d2d9f4" />
<rect x="446.02" y="61.78" width="1.66" height="22.14" fill="#fcfdfe" />
<rect x="447.34" y="61.78" width="1.66" height="22.14" fill="#dbe0f6" />
<rect x="448.65" y="61.78" width="1.66" height="22.14" fill="#f8d4d0" />
<rect x="449.96" y="61.78" width="1.66" height="22.14" fill="#f3b8b0" />
<rect x="451.28" y="61.78" width="1.66" height="22.14" fill="#ec8b7f" />
<rect x="452.59" y="61.78" width="1.66" height="22.14" fill="#f6cbc5" />
<rect x="453.91" y="61.78" width="1.66" height="22.14" fill="#8ea0e5" />
<rect x="455.22" y="61.78" width="1.66" height="22.14" fill="#d2d9f4" />
<rect x="456.54" y="61.78" width="1.66" height="22.14" fill="#f7f8fd" />
<rect x="457.85" y="61.78" width="1.66" height="22.14" fill="#fcf1f0" />
<rect x="459.16" y="61.78" width="1.66" height="22.14" fill="#f5c4be" />
<rect x="460.48" y="61.78" width="1.66" height="22.14" fill="#f8d4cf" />
<rect x="461.79" y="61.78" width="1.66" height="22.14" fill="#fdf4f3" />
<rect x="463.11" y="61.78" width="1.66" height="22.14" fill="#6d84dd" />
<rect x="464.42" y="61.78" width="1.66" height="22.14" fill="#8b9ee4" />
<rect x="465.74" y="61.78" width="1.66" height="22.14" fill="#fae4e1" />
<rect x="467.05" y="61.78" width="1.66" height="22.14" fill="#f7cec9" />
<rect x="468.37" y="61.78" width="1.66" height="22.14" fill="#adbaec" />
<rect x="469.68" y="61.78" width="1.66" height="22.14" fill="#f5c2bb" />
<rect x="470.99" y="61.78" width="1.66" height="22.14" fill="#b6c1ee" />
<rect x="472.31" y="61.78" width="1.66" height="22.14" fill="#f7d1cd" />
<rect x="473.62" y="61.78" width="1.66" height="22.14" fill="#fbe7e5" />
<rect x="474.94" y="61.78" width="1.66" height="22.14" fill="#d0d7f4" />
<rect x="476.25" y="61.78" width="1.66" height="22.14" fill="#f8d5d0" />
<rect x="477.57" y="61.78" width="1.66" height="22.14" fill="#556fd8" />
<rect x="478.88" y="61.78" width="1.66" height="22.14" fill="#f4f6fc" />
<rect x="480.20" y="61.78" width="1.66" height="22.14" fill="#d0d7f4" />
<rect x="481.51" y="61.78" width="1.66" height="22.14" fill="#fefcfc" />
<rect x="482.82" y="61.78" width="1.66" height="22.14" fill="#e2e7f8" />
<rect x="484.14" y="61.78" width="1.66" height="22.14" fill="#f7d3ce" />
<rect x="485.45" y="61.78" width="1.66" height="22.14" fill="#798ee0" />
<rect x="486.77" y="61.78" width="1.66" height="22.14" fill="#afbcec" />
<rect x="488.08" y="61.78" width="1.66" height="22.14" fill="#e4e8f8" />
<rect x="489.40" y="61.78" width="1.66" height="22.14" fill="#e3e8f8" />
<rect x="490.71" y="61.78" width="1.66" height="22.14" fill="#e03e2a" />
<rect x="492.02" y="61.78" width="1.66" height="22.14" fill="#fbe8e6" />
<rect x="493.34" y="61.78" width="1.66" height="22.14" fill="#ced6f4" />
<rect x="494.65" y="61.78" width="1.66" height="22.14" fill="#677fdc" />
<rect x="495.97" y="61.78" width="1.66" height="22.14" fill="#c0caf0" />
<rect x="497.28" y="61.78" width="1.66" height="22.14" fill="#fdf2f1" />
<rect x="498.60" y="61.78" width="1.66" height="22.14" fill="#aebbec" />
<rect x="499.91" y="61.78" width="1.66" height="22.14" fill="#c5cef1" />
<rect x="501.23" y="61.78" width="1.66" height="22.14" fill="#bcc7ef" />
<rect x="502.54" y="61.78" width="1.66" height="22.14" fill="#bfc9f0" />
<rect x="503.85" y="61.78" width="1.66" height="22.14" fill="#7a8fe0" />
<rect x="505.17" y="61.78" width="1.66" height="22.14" fill="#4260d4" />
<rect x="506.48" y="61.78" width="1.66" height="22.14" fill="#526dd7" />
<rect x="507.80" y="61.78" width="1.66" height="22.14" fill="#90a2e5" />
<rect x="509.11" y="61.78" width="1.66" height="22.14" fill="#adbaec" />
<rect x="510.43" y="61.78" width="1.66" height="22.14" fill="#8699e3" />
<rect x="511.74" y="61.78" width="1.66" height="22.14" fill="#a6b4ea" />
<rect x="513.06" y="61.78" width="1.66" height="22.14" fill="#7086de" />
<rect x="514.37" y="61.78" width="1.66" height="22.14" fill="#e8ebf9" />
<rect x="515.68" y="61.78" width="1.66" height="22.14" fill="#d0d7f4" />
<rect x="517.00" y="61.78" width="1.66" height="22.14" fill="#899ce4" />
<rect x="518.31" y="61.78" width="1.66" height="22.14" fill="#b6c1ee" />
<rect x="519.63" y="61.78" width="1.66" height="22.14" fill="#4260d4" />
<rect x="520.94" y="61.78" width="1.66" height="22.14" fill="#98a8e7" />
<rect x="522.26" y="61.78" width="1.66" height="22.14" fill="#fefcfc" />
<rect x="523.57" y="61.78" width="1.66" height="22.14" fill="#8195e2" />
<rect x="524.88" y="61.78" width="1.66" height="22.14" fill="#a9b7eb" />
<rect x="526.20" y="61.78" width="1.66" height="22.14" fill="#8b9de4" />
<rect x="527.51" y="61.78" width="1.66" height="22.14" fill="#9faee9" />
<rect x="528.83" y="61.78" width="1.66" height="22.14" fill="#b8c3ee" />
<rect x="530.14" y="61.78" width="1.66" height="22.14" fill="#b6c2ee" />
<rect x="531.46" y="61.78" width="1.66" height="22.14" fill="#d4dbf5" />
<rect x="532.77" y="61.78" width="1.66" height="22.14" fill="#96a6e7" />
<rect x="534.09" y="61.78" width="1.66" height="22.14" fill="#8699e3" />
<rect x="371.10" y="83.62" width="1.66" height="22.14" fill="#fae4e1" />
<rect x="372.41" y="83.62" width="1.66" height="22.14" fill="#f9dad6" />
<rect x="373.73" y="83.62" width="1.66" height="22.14" fill="#d0d7f4" />
<rect x="375.04" y="83.62" width="1.66" height="22.14" fill="#fae0dc" />
<rect x="376.36" y="83.62" width="1.66" height="22.14" fill="#f2b0a8" />
<rect x="377.67" y="83.62" width="1.66" height="22.14" fill="#fceeed" />
<rect x="378.99" y="83.62" width="1.66" height="22.14" fill="#c3ccf1" />
<rect x="380.30" y="83.62" width="1.66" height="22.14" fill="#f1f3fb" />
<rect x="381.62" y="83.62" width="1.66" height="22.14" fill="#fcfdfe" />
<rect x="382.93" y="83.62" width="1.66" height="22.14" fill="#fdf2f1" />
<rect x="384.24" y="83.62" width="1.66" height="22.14" fill="#f7d0cb" />
<rect x="385.56" y="83.62" width="1.66" height="22.14" fill="#ed9388" />
<rect x="386.87" y="83.62" width="1.66" height="22.14" fill="#e5e9f9" />
<rect x="388.19" y="83.62" width="1.66" height="22.14" fill="#f4bfb8" />
<rect x="389.50" y="83.62" width="1.66" height="22.14" fill="#f5c2bc" />
<rect x="390.82" y="83.62" width="1.66" height="22.14" fill="#546fd8" />
<rect x="392.13" y="83.62" width="1.66" height="22.14" fill="#5f78da" />
<rect x="393.44" y="83.62" width="1.66" height="22.14" fill="#eef1fb" />
<rect x="394.76" y="83.62" width="1.66" height="22.14" fill="#e03e2a" />
<rect x="396.07" y="83.62" width="1.66" height="22.14" fill="#f7d0cb" />
<rect x="397.39" y="83.62" width="1.66" height="22.14" fill="#f3b7af" />
<rect x="398.70" y="83.62" width="1.66" height="22.14" fill="#e0e5f8" />
<rect x="400.02" y="83.62" width="1.66" height="22.14" fill="#e7ebf9" />
<rect x="401.33" y="83.62" width="1.66" height="22.14" fill="#fbe6e4" />
<rect x="402.65" y="83.62" width="1.66" height="22.14" fill="#fef8f8" />
<rect x="403.96" y="83.62" width="1.66" height="22.14" fill="#f4bdb6" />
<rect x="405.27" y="83.62" width="1.66" height="22.14" fill="#f1aba2" />
<rect x="406.59" y="83.62" width="1.66" height="22.14" fill="#fcedeb" />
<rect x="407.90" y="83.62" width="1.66" height="22.14" fill="#e03e2a" />
<rect x="409.22" y="83.62" width="1.66" height="22.14" fill="#f2b3ab" />
<rect x="410.53" y="83.62" width="1.66" height="22.14" fill="#f6c7c1" />
<rect x="411.85" y="83.62" width="1.66" height="22.14" fill="#f5c5bf" />
<rect x="413.16" y="83.62" width="1.66" height="22.14" fill="#f2f4fc" />
<rect x="414.48" y="83.62" width="1.66" height="22.14" fill="#f3b6af" />
<rect x="415.79" y="83.62" width="1.66" height="22.14" fill="#dbe0f6" />
<rect x="417.10" y="83.62" width="1.66" height="22.14" fill="#f5c4be" />
<rect x="418.42" y="83.62" width="1.66" height="22.14" fill="#c1cbf1" />
<rect x="419.73" y="83.62" width="1.66" height="22.14" fill="#ea8073" />
<rect x="421.05" y="83.62" width="1.66" height="22.14" fill="#e6eaf9" />
<rect x="422.36" y="83.62" width="1.66" height="22.14" fill="#8ea0e5" />
<rect x="423.68" y="83.62" width="1.66" height="22.14" fill="#f7cec8" />
<rect x="424.99" y="83.62" width="1.66" height="22.14" fill="#ebeefa" />
<rect x="426.30" y="83.62" width="1.66" height="22.14" fill="#e9786a" />
<rect x="427.62" y="83.62" width="1.66" height="22.14" fill="#fdf4f3" />
<rect x="428.93" y="83.62" width="1.66" height="22.14" fill="#fbecea" />
<rect x="430.25" y="83.62" width="1.66" height="22.14" fill="#fcedec" />
<rect x="431.56" y="83.62" width="1.66" height="22.14" fill="#fefbfb" />
<rect x="432.88" y="83.62" width="1.66" height="22.14" fill="#f5c2bc" />
<rect x="434.19" y="83.62" width="1.66" height="22.14" fill="#fcfcfe" />
<rect x="435.51" y="83.62" width="1.66" height="22.14" fill="#eb877a" />
<rect x="436.82" y="83.62" width="1.66" height="22.14" fill="#fdf2f1" />
<rect x="438.13" y="83.62" width="1.66" height="22.14" fill="#fbe8e5" />
<rect x="439.45" y="83.62" width="1.66" height="22.14" fill="#f5c5bf" />
<rect x="440.76" y="83.62" width="1.66" height="22.14" fill="#d3daf5" />
<rect x="442.08" y="83.62" width="1.66" height="22.14" fill="#f9dcd8" />
<rect x="443.39" y="83.62" width="1.66" height="22.14" fill="#fdf7f6" />
<rect x="444.71" y="83.62" width="1.66" height="22.14" fill="#b1beed" />
<rect x="446.02" y="83.62" width="1.66" height="22.14" fill="#fdf2f1" />
<rect x="447.34" y="83.62" width="1.66" height="22.14" fill="#dee3f7" />
<rect x="448.65" y="83.62" width="1.66" height="22.14" fill="#f8d5d1" />
<rect x="449.96" y="83.62" width="1.66" height="22.14" fill="#ee978c" />
<rect x="451.28" y="83.62" width="1.66" height="22.14" fill="#fbe6e3" />
<rect x="452.59" y="83.62" width="1.66" height="22.14" fill="#f2b3ab" />
<rect x="453.91" y="83.62" width="1.66" height="22.14" fill="#fcf0ee" />
<rect x="455.22" y="83.62" width="1.66" height="22.14" fill="#e3e7f8" />
<rect x="456.54" y="83.62" width="1.66" height="22.14" fill="#e03e2a" />
<rect x="457.85" y="83.62" width="1.66" height="22.14" fill="#f8d7d3" />
<rect x="459.16" y="83.62" width="1.66" height="22.14" fill="#f9ddda" />
<rect x="460.48" y="83.62" width="1.66" height="22.14" fill="#e03e2a" />
<rect x="461.79" y="83.62" width="1.66" height="22.14" fill="#ee988e" />
<rect x="463.11" y="83.62" width="1.66" height="22.14" fill="#e97b6e" />
<rect x="464.42" y="83.62" width="1.66" height="22.14" fill="#fcefed" />
<rect x="465.74" y="83.62" width="1.66" height="22.14" fill="#f6cac5" />
<rect x="467.05" y="83.62" width="1.66" height="22.14" fill="#f2afa7" />
<rect x="468.37" y="83.62" width="1.66" height="22.14" fill="#e87566" />
<rect x="469.68" y="83.62" width="1.66" height="22.14" fill="#ea8275" />
<rect x="470.99" y="83.62" width="1.66" height="22.14" fill="#f6cbc5" />
<rect x="472.31" y="83.62" width="1.66" height="22.14" fill="#eb877a" />
<rect x="473.62" y="83.62" width="1.66" height="22.14" fill="#f6cbc5" />
<rect x="474.94" y="83.62" width="1.66" height="22.14" fill="#f3b7b0" />
<rect x="476.25" y="83.62" width="1.66" height="22.14" fill="#eaeefa" />
<rect x="477.57" y="83.62" width="1.66" height="22.14" fill="#e66353" />
<rect x="478.88" y="83.62" width="1.66" height="22.14" fill="#c5cef1" />
<rect x="480.20" y="83.62" width="1.66" height="22.14" fill="#fae1de" />
<rect x="481.51" y="83.62" width="1.66" height="22.14" fill="#f3b6ae" />
<rect x="482.82" y="83.62" width="1.66" height="22.14" fill="#fcedeb" />
<rect x="484.14" y="83.62" width="1.66" height="22.14" fill="#ed9388" />
<rect x="485.45" y="83.62" width="1.66" height="22.14" fill="#c1cbf0" />
<rect x="486.77" y="83.62" width="1.66" height="22.14" fill="#c1cbf0" />
<rect x="488.08" y="83.62" width="1.66" height="22.14" fill="#f1a89f" />
<rect x="489.40" y="83.62" width="1.66" height="22.14" fill="#ef9b91" />
<rect x="490.71" y="83.62" width="1.66" height="22.14" fill="#c9d1f2" />
<rect x="492.02" y="83.62" width="1.66" height="22.14" fill="#f2aea6" />
<rect x="493.34" y="83.62" width="1.66" height="22.14" fill="#fcf1ef" />
<rect x="494.65" y="83.62" width="1.66" height="22.14" fill="#bdc7f0" />
<rect x="495.97" y="83.62" width="1.66" height="22.14" fill="#7d91e1" />
<rect x="497.28" y="83.62" width="1.66" height="22.14" fill="#f1f3fb" />
<rect x="498.60" y="83.62" width="1.66" height="22.14" fill="#f6cac5" />
<rect x="499.91" y="83.62" width="1.66" height="22.14" fill="#f1aaa1" />
<rect x="501.23" y="83.62" width="1.66" height="22.14" fill="#f5f6fc" />
<rect x="502.54" y="83.62" width="1.66" height="22.14" fill="#fae2df" />
<rect x="503.85" y="83.62" width="1.66" height="22.14" fill="#bbc6ef" />
<rect x="505.17" y="83.62" width="1.66" height="22.14" fill="#f3f5fc" />
<rect x="506.48" y="83.62" width="1.66" height="22.14" fill="#e7ebf9" />
<rect x="507.80" y="83.62" width="1.66" height="22.14" fill="#e8ebf9" />
<rect x="509.11" y="83.62" width="1.66" height="22.14" fill="#f5f7fc" />
<rect x="510.43" y="83.62" width="1.66" height="22.14" fill="#4865d5" />
<rect x="511.74" y="83.62" width="1.66" height="22.14" fill="#b2beed" />
<rect x="513.06" y="83.62" width="1.66" height="22.14" fill="#f6c9c4" />
<rect x="514.37" y="83.62" width="1.66" height="22.14" fill="#bec8f0" />
<rect x="515.68" y="83.62" width="1.66" height="22.14" fill="#edeffa" />
<rect x="517.00" y="83.62" width="1.66" height="22.14" fill="#637bdb" />
<rect x="518.31" y="83.62" width="1.66" height="22.14" fill="#e2e6f8" />
<rect x="519.63" y="83.62" width="1.66" height="22.14" fill="#bcc7ef" />
<rect x="520.94" y="83.62" width="1.66" height="22.14" fill="#c8d1f2" />
<rect x="522.26" y="83.62" width="1.66" height="22.14" fill="#fceeec" />
<rect x="523.57" y="83.62" width="1.66" height="22.14" fill="#8699e3" />
<rect x="524.88" y="83.62" width="1.66" height="22.14" fill="#d0d8f4" />
<rect x="526.20" y="83.62" width="1.66" height="22.14" fill="#f7f8fd" />
<rect x="527.51" y="83.62" width="1.66" height="22.14" fill="#c2cbf1" />
<rect x="528.83" y="83.62" width="1.66" height="22.14" fill="#cad3f3" />
<rect x="530.14" y="83.62" width="1.66" height="22.14" fill="#a6b4ea" />
<rect x="531.46" y="83.62" width="1.66" height="22.14" fill="#b4c0ee" />
<rect x="532.77" y="83.62" width="1.66" height="22.14" fill="#afbcec" />
<rect x="534.09" y="83.62" width="1.66" height="22.14" fill="#7f93e2" />
<rect x="371.10" y="105.46" width="1.66" height="22.14" fill="#f3b8b1" />
<rect x="372.41" y="105.46" width="1.66" height="22.14" fill="#f0a69d" />
<rect x="373.73" y="105.46" width="1.66" height="22.14" fill="#fae4e2" />
<rect x="375.04" y="105.46" width="1.66" height="22.14" fill="#f2f4fc" />
<rect x="376.36" y="105.46" width="1.66" height="22.14" fill="#f1aca3" />
<rect x="377.67" y="105.46" width="1.66" height="22.14" fill="#f1aba3" />
<rect x="378.99" y="105.46" width="1.66" height="22.14" fill="#e35443" />
<rect x="380.30" y="105.46" width="1.66" height="22.14" fill="#fcf0ef" />
<rect x="381.62" y="105.46" width="1.66" height="22.14" fill="#4260d4" />
<rect x="382.93" y="105.46" width="1.66" height="22.14" fill="#f6c8c3" />
<rect x="384.24" y="105.46" width="1.66" height="22.14" fill="#f6c9c3" />
<rect x="385.56" y="105.46" width="1.66" height="22.14" fill="#f9dfdc" />
<rect x="386.87" y="105.46" width="1.66" height="22.14" fill="#f5c1ba" />
<rect x="388.19" y="105.46" width="1.66" height="22.14" fill="#f7d0cb" />
<rect x="389.50" y="105.46" width="1.66" height="22.14" fill="#eb8377" />
<rect x="390.82" y="105.46" width="1.66" height="22.14" fill="#f5c5bf" />
<rect x="392.13" y="105.46" width="1.66" height="22.14" fill="#fbe9e7" />
<rect x="393.44" y="105.46" width="1.66" height="22.14" fill="#f7cec9" />
<rect x="394.76" y="105.46" width="1.66" height="22.14" fill="#e97668" />
<rect x="396.07" y="105.46" width="1.66" height="22.14" fill="#e87466" />
<rect x="397.39" y="105.46" width="1.66" height="22.14" fill="#eb8478" />
<rect x="398.70" y="105.46" width="1.66" height="22.14" fill="#f7cec9" />
<rect x="400.02" y="105.46" width="1.66" height="22.14" fill="#fae5e3" />
<rect x="401.33" y="105.46" width="1.66" height="22.14" fill="#f9dcd8" />
<rect x="402.65" y="105.46" width="1.66" height="22.14" fill="#f6cbc6" />
<rect x="403.96" y="105.46" width="1.66" height="22.14" fill="#e7695a" />
<rect x="405.27" y="105.46" width="1.66" height="22.14" fill="#f3b8b0" />
<rect x="406.59" y="105.46" width="1.66" height="22.14" fill="#fbe9e7" />
<rect x="407.90" y="105.46" width="1.66" height="22.14" fill="#f3b4ad" />
<rect x="409.22" y="105.46" width="1.66" height="22.14" fill="#fefaf9" />
<rect x="410.53" y="105.46" width="1.66" height="22.14" fill="#efa197" />
<rect x="411.85" y="105.46" width="1.66" height="22.14" fill="#f0a298" />
<rect x="413.16" y="105.46" width="1.66" height="22.14" fill="#fbe9e6" />
<rect x="414.48" y="105.46" width="1.66" height="22.14" fill="#f8f9fd" />
<rect x="415.79" y="105.46" width="1.66" height="22.14" fill="#fefbfb" />
<rect x="417.10" y="105.46" width="1.66" height="22.14" fill="#ee958a" />
<rect x="418.42" y="105.46" width="1.66" height="22.14" fill="#f2afa7" />
<rect x="419.73" y="105.46" width="1.66" height="22.14" fill="#f7d0cb" />
<rect x="421.05" y="105.46" width="1.66" height="22.14" fill="#f4bfb8" />
<rect x="422.36" y="105.46" width="1.66" height="22.14" fill="#fbecea" />
<rect x="423.68" y="105.46" width="1.66" height="22.14" fill="#ee998f" />
<rect x="424.99" y="105.46" width="1.66" height="22.14" fill="#fbeae8" />
<rect x="426.30" y="105.46" width="1.66" height="22.14" fill="#f6c8c2" />
<rect x="427.62" y="105.46" width="1.66" height="22.14" fill="#e45645" />
<rect x="428.93" y="105.46" width="1.66" height="22.14" fill="#fcedeb" />
<rect x="430.25" y="105.46" width="1.66" height="22.14" fill="#aebaec" />
<rect x="431.56" y="105.46" width="1.66" height="22.14" fill="#f1f3fc" />
<rect x="432.88" y="105.46" width="1.66" height="22.14" fill="#fefcfc" />
<rect x="434.19" y="105.46" width="1.66" height="22.14" fill="#f3b9b2" />
<rect x="435.51" y="105.46" width="1.66" height="22.14" fill="#e76f60" />
<rect x="436.82" y="105.46" width="1.66" height="22.14" fill="#f4bcb5" />
<rect x="438.13" y="105.46" width="1.66" height="22.14" fill="#f3b7b0" />
<rect x="439.45" y="105.46" width="1.66" height="22.14" fill="#f7f8fd" />
<rect x="440.76" y="105.46" width="1.66" height="22.14" fill="#fbeae8" />
<rect x="442.08" y="105.46" width="1.66" height="22.14" fill="#f5c5bf" />
<rect x="443.39" y="105.46" width="1.66" height="22.14" fill="#f4bbb5" />
<rect x="444.71" y="105.46" width="1.66" height="22.14" fill="#f3b6af" />
<rect x="446.02" y="105.46" width="1.66" height="22.14" fill="#f4bcb5" />
<rect x="447.34" y="105.46" width="1.66" height="22.14" fill="#f3bab3" />
<rect x="448.65" y="105.46" width="1.66" height="22.14" fill="#fdfdfe" />
<rect x="449.96" y="105.46" width="1.66" height="22.14" fill="#e03e2a" />
<rect x="451.28" y="105.46" width="1.66" height="22.14" fill="#eb887c" />
<rect x="452.59" y="105.46" width="1.66" height="22.14" fill="#fdf3f2" />
<rect x="453.91" y="105.46" width="1.66" height="22.14" fill="#5671d8" />
<rect x="455.22" y="105.46" width="1.66" height="22.14" fill="#f9dad6" />
<rect x="456.54" y="105.46" width="1.66" height="22.14" fill="#f6f7fd" />
<rect x="457.85" y="105.46" width="1.66" height="22.14" fill="#f3b6ae" />
<rect x="459.16" y="105.46" width="1.66" height="22.14" fill="#ced5f3" />
<rect x="460.48" y="105.46" width="1.66" height="22.14" fill="#d8dff6" />
<rect x="461.79" y="105.46" width="1.66" height="22.14" fill="#ee988e" />
<rect x="463.11" y="105.46" width="1.66" height="22.14" fill="#bbc5ef" />
<rect x="464.42" y="105.46" width="1.66" height="22.14" fill="#dae0f6" />
<rect x="465.74" y="105.46" width="1.66" height="22.14" fill="#abb8ec" />
<rect x="467.05" y="105.46" width="1.66" height="22.14" fill="#fafbfe" />
<rect x="468.37" y="105.46" width="1.66" height="22.14" fill="#eceffa" />
<rect x="469.68" y="105.46" width="1.66" height="22.14" fill="#fafbfd" />
<rect x="470.99" y="105.46" width="1.66" height="22.14" fill="#f1a89f" />
<rect x="472.31" y="105.46" width="1.66" height="22.14" fill="#b5c1ee" />
<rect x="473.62" y="105.46" width="1.66" height="22.14" fill="#fcedeb" />
<rect x="474.94" y="105.46" width="1.66" height="22.14" fill="#dae0f6" />
<rect x="476.25" y="105.46" width="1.66" height="22.14" fill="#fae1de" />
<rect x="477.57" y="105.46" width="1.66" height="22.14" fill="#fdf4f2" />
<rect x="478.88" y="105.46" width="1.66" height="22.14" fill="#f9fafd" />
<rect x="480.20" y="105.46" width="1.66" height="22.14" fill="#d7ddf5" />
<rect x="481.51" y="105.46" width="1.66" height="22.14" fill="#c6cff2" />
<rect x="482.82" y="105.46" width="1.66" height="22.14" fill="#a8b5eb" />
<rect x="484.14" y="105.46" width="1.66" height="22.14" fill="#fae1de" />
<rect x="485.45" y="105.46" width="1.66" height="22.14" fill="#b8c3ee" />
<rect x="486.77" y="105.46" width="1.66" height="22.14" fill="#c1caf0" />
<rect x="488.08" y="105.46" width="1.66" height="22.14" fill="#dae0f6" />
<rect x="489.40" y="105.46" width="1.66" height="22.14" fill="#fae0dd" />
<rect x="490.71" y="105.46" width="1.66" height="22.14" fill="#f9dcd8" />
<rect x="492.02" y="105.46" width="1.66" height="22.14" fill="#eff2fb" />
<rect x="493.34" y="105.46" width="1.66" height="22.14" fill="#f0f2fb" />
<rect x="494.65" y="105.46" width="1.66" height="22.14" fill="#7c91e1" />
<rect x="495.97" y="105.46" width="1.66" height="22.14" fill="#bac5ef" />
<rect x="497.28" y="105.46" width="1.66" height="22.14" fill="#c2cbf1" />
<rect x="498.60" y="105.46" width="1.66" height="22.14" fill="#b6c2ee" />
<rect x="499.91" y="105.46" width="1.66" height="22.14" fill="#e3e7f8" />
<rect x="501.23" y="105.46" width="1.66" height="22.14" fill="#b9c4ef" />
<rect x="502.54" y="105.46" width="1.66" height="22.14" fill="#adbaec" />
<rect x="503.85" y="105.46" width="1.66" height="22.14" fill="#8d9fe5" />
<rect x="505.17" y="105.46" width="1.66" height="22.14" fill="#d4daf5" />
<rect x="506.48" y="105.46" width="1.66" height="22.14" fill="#fcfcfe" />
<rect x="507.80" y="105.46" width="1.66" height="22.14" fill="#e4e8f8" />
<rect x="509.11" y="105.46" width="1.66" height="22.14" fill="#fcfcfe" />
<rect x="510.43" y="105.46" width="1.66" height="22.14" fill="#97a7e7" />
<rect x="511.74" y="105.46" width="1.66" height="22.14" fill="#92a4e6" />
<rect x="513.06" y="105.46" width="1.66" height="22.14" fill="#9aaae8" />
<rect x="514.37" y="105.46" width="1.66" height="22.14" fill="#b9c4ef" />
<rect x="515.68" y="105.46" width="1.66" height="22.14" fill="#aab7eb" />
<rect x="517.00" y="105.46" width="1.66" height="22.14" fill="#4b68d6" />
<rect x="518.31" y="105.46" width="1.66" height="22.14" fill="#a8b6eb" />
<rect x="519.63" y="105.46" width="1.66" height="22.14" fill="#97a7e7" />
<rect x="520.94" y="105.46" width="1.66" height="22.14" fill="#91a2e6" />
<rect x="522.26" y="105.46" width="1.66" height="22.14" fill="#fbe7e5" />
<rect x="523.57" y="105.46" width="1.66" height="22.14" fill="#748adf" />
<rect x="524.88" y="105.46" width="1.66" height="22.14" fill="#8498e3" />
<rect x="526.20" y="105.46" width="1.66" height="22.14" fill="#b0bced" />
<rect x="527.51" y="105.46" width="1.66" height="22.14" fill="#4260d4" />
<rect x="528.83" y="105.46" width="1.66" height="22.14" fill="#b2beed" />
<rect x="530.14" y="105.46" width="1.66" height="22.14" fill="#f6f8fd" />
<rect x="531.46" y="105.46" width="1.66" height="22.14" fill="#bbc6ef" />
<rect x="532.77" y="105.46" width="1.66" height="22.14" fill="#8c9ee4" />
<rect x="534.09" y="105.46" width="1.66" height="22.14" fill="#8498e3" />
<rect x="371.10" y="127.30" width="1.66" height="22.14" fill="#fcf1f0" />
<rect x="372.41" y="127.30" width="1.66" height="22.14" fill="#f1a89f" />
<rect x="373.73" y="127.30" width="1.66" height="22.14" fill="#bac5ef" />
<rect x="375.04" y="127.30" width="1.66" height="22.14" fill="#f4beb8" />
<rect x="376.36" y="127.30" width="1.66" height="22.14" fill="#f0a59c" />
<rect x="377.67" y="127.30" width="1.66" height="22.14" fill="#ed9186" />
<rect x="378.99" y="127.30" width="1.66" height="22.14" fill="#efa197" />
<rect x="380.30" y="127.30" width="1.66" height="22.14" fill="#f3b8b1" />
<rect x="381.62" y="127.30" width="1.66" height="22.14" fill="#fafbfd" />
<rect x="382.93" y="127.30" width="1.66" height="22.14" fill="#e03f2b" />
<rect x="384.24" y="127.30" width="1.66" height="22.14" fill="#ed958a" />
<rect x="385.56" y="127.30" width="1.66" height="22.14" fill="#f0a69d" />
<rect x="386.87" y="127.30" width="1.66" height="22.14" fill="#e56251" />
<rect x="388.19" y="127.30" width="1.66" height="22.14" fill="#f6cbc5" />
<rect x="389.50" y="127.30" width="1.66" height="22.14" fill="#ed9186" />
<rect x="390.82" y="127.30" width="1.66" height="22.14" fill="#f4bab3" />
<rect x="392.13" y="127.30" width="1.66" height="22.14" fill="#f1a9a0" />
<rect x="393.44" y="127.30" width="1.66" height="22.14" fill="#f3b8b1" />
<rect x="394.76" y="127.30" width="1.66" height="22.14" fill="#e24c3a" />
<rect x="396.07" y="127.30" width="1.66" height="22.14" fill="#fcecea" />
<rect x="397.39" y="127.30" width="1.66" height="22.14" fill="#eb8679" />
<rect x="398.70" y="127.30" width="1.66" height="22.14" fill="#f9dcd9" />
<rect x="400.02" y="127.30" width="1.66" height="22.14" fill="#fef9f9" />
<rect x="401.33" y="127.30" width="1.66" height="22.14" fill="#fdf7f7" />
<rect x="402.65" y="127.30" width="1.66" height="22.14" fill="#f4bdb6" />
<rect x="403.96" y="127.30" width="1.66" height="22.14" fill="#f0a69d" />
<rect x="405.27" y="127.30" width="1.66" height="22.14" fill="#e3513f" />
<rect x="406.59" y="127.30" width="1.66" height="22.14" fill="#f3b8b1" />
<rect x="407.90" y="127.30" width="1.66" height="22.14" fill="#fcedeb" />
<rect x="409.22" y="127.30" width="1.66" height="22.14" fill="#e87263" />
<rect x="410.53" y="127.30" width="1.66" height="22.14" fill="#fdf7f6" />
<rect x="411.85" y="127.30" width="1.66" height="22.14" fill="#e35240" />
<rect x="413.16" y="127.30" width="1.66" height="22.14" fill="#e66556" />
<rect x="414.48" y="127.30" width="1.66" height="22.14" fill="#f7d3ce" />
<rect x="415.79" y="127.30" width="1.66" height="22.14" fill="#ccd4f3" />
<rect x="417.10" y="127.30" width="1.66" height="22.14" fill="#f3b8b1" />
<rect x="418.42" y="127.30" width="1.66" height="22.14" fill="#ef9d93" />
<rect x="419.73" y="127.30" width="1.66" height="22.14" fill="#f5c5bf" />
<rect x="421.05" y="127.30" width="1.66" height="22.14" fill="#e45948" />
<rect x="422.36" y="127.30" width="1.66" height="22.14" fill="#f8d8d4" />
<rect x="423.68" y="127.30" width="1.66" height="22.14" fill="#ed9287" />
<rect x="424.99" y="127.30" width="1.66" height="22.14" fill="#f8f9fd" />
<rect x="426.30" y="127.30" width="1.66" height="22.14" fill="#eb8376" />
<rect x="427.62" y="127.30" width="1.66" height="22.14" fill="#f8d5d1" />
<rect x="428.93" y="127.30" width="1.66" height="22.14" fill="#fbecea" />
<rect x="430.25" y="127.30" width="1.66" height="22.14" fill="#c2ccf1" />
<rect x="431.56" y="127.30" width="1.66" height="22.14" fill="#e9786a" />
<rect x="432.88" y="127.30" width="1.66" height="22.14" fill="#fdf5f4" />
<rect x="434.19" y="127.30" width="1.66" height="22.14" fill="#f3b7b0" />
<rect x="435.51" y="127.30" width="1.66" height="22.14" fill="#f6c9c4" />
<rect x="436.82" y="127.30" width="1.66" height="22.14" fill="#f3b9b1" />
<rect x="438.13" y="127.30" width="1.66" height="22.14" fill="#e03e2a" />
<rect x="439.45" y="127.30" width="1.66" height="22.14" fill="#ee998f" />
<rect x="440.76" y="127.30" width="1.66" height="22.14" fill="#f0a49a" />
<rect x="442.08" y="127.30" width="1.66" height="22.14" fill="#fae1de" />
<rect x="443.39" y="127.30" width="1.66" height="22.14" fill="#e45c4b" />
<rect x="444.71" y="127.30" width="1.66" height="22.14" fill="#f7d1cc" />
<rect x="446.02" y="127.30" width="1.66" height="22.14" fill="#f3b7b0" />
<rect x="447.34" y="127.30" width="1.66" height="22.14" fill="#f0a69c" />
<rect x="448.65" y="127.30" width="1.66" height="22.14" fill="#f1aba2" />
<rect x="449.96" y="127.30" width="1.66" height="22.14" fill="#f6cbc6" />
<rect x="451.28" y="127.30" width="1.66" height="22.14" fill="#f3bab3" />
<rect x="452.59" y="127.30" width="1.66" height="22.14" fill="#a0afe9" />
<rect x="453.91" y="127.30" width="1.66" height="22.14" fill="#e7ebf9" />
<rect x="455.22" y="127.30" width="1.66" height="22.14" fill="#f1f3fb" />
<rect x="456.54" y="127.30" width="1.66" height="22.14" fill="#fefefe" />
<rect x="457.85" y="127.30" width="1.66" height="22.14" fill="#bfc9f0" />
<rect x="459.16" y="127.30" width="1.66" height="22.14" fill="#fcefed" />
<rect x="460.48" y="127.30" width="1.66" height="22.14" fill="#f8d5d1" />
<rect x="461.79" y="127.30" width="1.66" height="22.14" fill="#6b83dd" />
<rect x="463.11" y="127.30" width="1.66" height="22.14" fill="#c1cbf0" />
<rect x="464.42" y="127.30" width="1.66" height="22.14" fill="#a3b2ea" />
<rect x="465.74" y="127.30" width="1.66" height="22.14" fill="#f8f9fd" />
<rect x="467.05" y="127.30" width="1.66" height="22.14" fill="#c8d1f2" />
<rect x="468.37" y="127.30" width="1.66" height="22.14" fill="#fbebe9" />
<rect x="469.68" y="127.30" width="1.66" height="22.14" fill="#e14936" />
<rect x="470.99" y="127.30" width="1.66" height="22.14" fill="#d3daf5" />
<rect x="472.31" y="127.30" width="1.66" height="22.14" fill="#e35543" />
<rect x="473.62" y="127.30" width="1.66" height="22.14" fill="#4260d4" />
<rect x="474.94" y="127.30" width="1.66" height="22.14" fill="#f1f3fb" />
<rect x="476.25" y="127.30" width="1.66" height="22.14" fill="#96a7e7" />
<rect x="477.57" y="127.30" width="1.66" height="22.14" fill="#f6f7fd" />
<rect x="478.88" y="127.30" width="1.66" height="22.14" fill="#e5e9f9" />
<rect x="480.20" y="127.30" width="1.66" height="22.14" fill="#b5c1ee" />
<rect x="481.51" y="127.30" width="1.66" height="22.14" fill="#fdf4f3" />
<rect x="482.82" y="127.30" width="1.66" height="22.14" fill="#4260d4" />
<rect x="484.14" y="127.30" width="1.66" height="22.14" fill="#f7cfca" />
<rect x="485.45" y="127.30" width="1.66" height="22.14" fill="#c0caf0" />
<rect x="486.77" y="127.30" width="1.66" height="22.14" fill="#cfd6f4" />
<rect x="488.08" y="127.30" width="1.66" height="22.14" fill="#91a3e6" />
<rect x="489.40" y="127.30" width="1.66" height="22.14" fill="#4260d4" />
<rect x="490.71" y="127.30" width="1.66" height="22.14" fill="#c8d0f2" />
<rect x="492.02" y="127.30" width="1.66" height="22.14" fill="#e1e6f8" />
<rect x="493.34" y="127.30" width="1.66" height="22.14" fill="#c0caf0" />
<rect x="494.65" y="127.30" width="1.66" height="22.14" fill="#5b75d9" />
<rect x="495.97" y="127.30" width="1.66" height="22.14" fill="#b8c3ee" />
<rect x="497.28" y="127.30" width="1.66" height="22.14" fill="#afbcec" />
<rect x="498.60" y="127.30" width="1.66" height="22.14" fill="#b9c4ef" />
<rect x="499.91" y="127.30" width="1.66" height="22.14" fill="#b7c2ee" />
<rect x="501.23" y="127.30" width="1.66" height="22.14" fill="#a2b1e9" />
<rect x="502.54" y="127.30" width="1.66" height="22.14" fill="#fef9f8" />
<rect x="503.85" y="127.30" width="1.66" height="22.14" fill="#a6b4ea" />
<rect x="505.17" y="127.30" width="1.66" height="22.14" fill="#a9b7eb" />
<rect x="506.48" y="127.30" width="1.66" height="22.14" fill="#97a7e7" />
<rect x="507.80" y="127.30" width="1.66" height="22.14" fill="#9dace8" />
<rect x="509.11" y="127.30" width="1.66" height="22.14" fill="#fefafa" />
<rect x="510.43" y="127.30" width="1.66" height="22.14" fill="#6c83dd" />
<rect x="511.74" y="127.30" width="1.66" height="22.14" fill="#9eade8" />
<rect x="513.06" y="127.30" width="1.66" height="22.14" fill="#93a4e6" />
<rect x="514.37" y="127.30" width="1.66" height="22.14" fill="#9faee9" />
<rect x="515.68" y="127.30" width="1.66" height="22.14" fill="#8598e3" />
<rect x="517.00" y="127.30" width="1.66" height="22.14" fill="#758bdf" />
<rect x="518.31" y="127.30" width="1.66" height="22.14" fill="#8296e2" />
<rect x="519.63" y="127.30" width="1.66" height="22.14" fill="#8699e3" />
<rect x="520.94" y="127.30" width="1.66" height="22.14" fill="#a8b6eb" />
<rect x="522.26" y="127.30" width="1.66" height="22.14" fill="#b5c1ee" />
<rect x="523.57" y="127.30" width="1.66" height="22.14" fill="#4260d4" />
<rect x="524.88" y="127.30" width="1.66" height="22.14" fill="#9babe8" />
<rect x="526.20" y="127.30" width="1.66" height="22.14" fill="#9aaae8" />
<rect x="527.51" y="127.30" width="1.66" height="22.14" fill="#798ee0" />
<rect x="528.83" y="127.30" width="1.66" height="22.14" fill="#5671d8" />
<rect x="530.14" y="127.30" width="1.66" height="22.14" fill="#546fd8" />
<rect x="531.46" y="127.30" width="1.66" height="22.14" fill="#b5c1ee" />
<rect x="532.77" y="127.30" width="1.66" height="22.14" fill="#acb9ec" />
<rect x="534.09" y="127.30" width="1.66" height="22.14" fill="#5f78da" />
<rect x="371.10" y="149.14" width="1.66" height="22.14" fill="#fcecea" />
<rect x="372.41" y="149.14" width="1.66" height="22.14" fill="#ea7c6f" />
<rect x="373.73" y="149.14" width="1.66" height="22.14" fill="#f3f5fc" />
<rect x="375.04" y="149.14" width="1.66" height="22.14" fill="#fbe6e4" />
<rect x="376.36" y="149.14" width="1.66" height="22.14" fill="#f5c4be" />
<rect x="377.67" y="149.14" width="1.66" height="22.14" fill="#f4bbb4" />
<rect x="378.99" y="149.14" width="1.66" height="22.14" fill="#e14431" />
<rect x="380.30" y="149.14" width="1.66" height="22.14" fill="#ebeffa" />
<rect x="381.62" y="149.14" width="1.66" height="22.14" fill="#ebeefa" />
<rect x="382.93" y="149.14" width="1.66" height="22.14" fill="#f9ddd9" />
<rect x="384.24" y="149.14" width="1.66" height="22.14" fill="#e9786a" />
<rect x="385.56" y="149.14" width="1.66" height="22.14" fill="#fdf3f2" />
<rect x="386.87" y="149.14" width="1.66" height="22.14" fill="#f6c7c1" />
<rect x="388.19" y="149.14" width="1.66" height="22.14" fill="#e5e9f9" />
<rect x="389.50" y="149.14" width="1.66" height="22.14" fill="#f9dad6" />
<rect x="390.82" y="149.14" width="1.66" height="22.14" fill="#d6ddf5" />
<rect x="392.13" y="149.14" width="1.66" height="22.14" fill="#ed9489" />
<rect x="393.44" y="149.14" width="1.66" height="22.14" fill="#eb8477" />
<rect x="394.76" y="149.14" width="1.66" height="22.14" fill="#f2aea6" />
<rect x="396.07" y="149.14" width="1.66" height="22.14" fill="#f8d9d5" />
<rect x="397.39" y="149.14" width="1.66" height="22.14" fill="#f8d4d0" />
<rect x="398.70" y="149.14" width="1.66" height="22.14" fill="#f7cec9" />
<rect x="400.02" y="149.14" width="1.66" height="22.14" fill="#f2afa7" />
<rect x="401.33" y="149.14" width="1.66" height="22.14" fill="#e03e2a" />
<rect x="402.65" y="149.14" width="1.66" height="22.14" fill="#9cace8" />
<rect x="403.96" y="149.14" width="1.66" height="22.14" fill="#ec8a7e" />
<rect x="405.27" y="149.14" width="1.66" height="22.14" fill="#ef9e94" />
<rect x="406.59" y="149.14" width="1.66" height="22.14" fill="#fbe7e4" />
<rect x="407.90" y="149.14" width="1.66" height="22.14" fill="#ee968b" />
<rect x="409.22" y="149.14" width="1.66" height="22.14" fill="#f5c5bf" />
<rect x="410.53" y="149.14" width="1.66" height="22.14" fill="#f8f9fd" />
<rect x="411.85" y="149.14" width="1.66" height="22.14" fill="#ec8b7f" />
<rect x="413.16" y="149.14" width="1.66" height="22.14" fill="#4260d4" />
<rect x="414.48" y="149.14" width="1.66" height="22.14" fill="#f0a399" />
<rect x="415.79" y="149.14" width="1.66" height="22.14" fill="#f5c5bf" />
<rect x="417.10" y="149.14" width="1.66" height="22.14" fill="#eb877b" />
<rect x="418.42" y="149.14" width="1.66" height="22.14" fill="#ea7d70" />
<rect x="419.73" y="149.14" width="1.66" height="22.14" fill="#eaedfa" />
<rect x="421.05" y="149.14" width="1.66" height="22.14" fill="#f5c4be" />
<rect x="422.36" y="149.14" width="1.66" height="22.14" fill="#f7d3ce" />
<rect x="423.68" y="149.14" width="1.66" height="22.14" fill="#eb867a" />
<rect x="424.99" y="149.14" width="1.66" height="22.14" fill="#f0a69d" />
<rect x="426.30" y="149.14" width="1.66" height="22.14" fill="#96a7e7" />
<rect x="427.62" y="149.14" width="1.66" height="22.14" fill="#e03e2a" />
<rect x="428.93" y="149.14" width="1.66" height="22.14" fill="#fbe8e5" />
<rect x="430.25" y="149.14" width="1.66" height="22.14" fill="#91a2e5" />
<rect x="431.56" y="149.14" width="1.66" height="22.14" fill="#fbecea" />
<rect x="432.88" y="149.14" width="1.66" height="22.14" fill="#f8d8d4" />
<rect x="434.19" y="149.14" width="1.66" height="22.14" fill="#ec8a7e" />
<rect x="435.51" y="149.14" width="1.66" height="22.14" fill="#e45847" />
<rect x="436.82" y="149.14" width="1.66" height="22.14" fill="#f7d0cb" />
<rect x="438.13" y="149.14" width="1.66" height="22.14" fill="#fefdfd" />
<rect x="439.45" y="149.14" width="1.66" height="22.14" fill="#fae3e0" />
<rect x="440.76" y="149.14" width="1.66" height="22.14" fill="#eb8477" />
<rect x="442.08" y="149.14" width="1.66" height="22.14" fill="#f4beb8" />
<rect x="443.39" y="149.14" width="1.66" height="22.14" fill="#f4beb7" />
<rect x="444.71" y="149.14" width="1.66" height="22.14" fill="#dce1f7" />
<rect x="446.02" y="149.14" width="1.66" height="22.14" fill="#f3b8b1" />
<rect x="447.34" y="149.14" width="1.66" height="22.14" fill="#ef9e94" />
<rect x="448.65" y="149.14" width="1.66" height="22.14" fill="#e03e2a" />
<rect x="449.96" y="149.14" width="1.66" height="22.14" fill="#f8d6d2" />
<rect x="451.28" y="149.14" width="1.66" height="22.14" fill="#e2e7f8" />
<rect x="452.59" y="149.14" width="1.66" height="22.14" fill="#f7cec9" />
<rect x="453.91" y="149.14" width="1.66" height="22.14" fill="#c2ccf1" />
<rect x="455.22" y="149.14" width="1.66" height="22.14" fill="#fdf8f7" />
<rect x="456.54" y="149.14" width="1.66" height="22.14" fill="#fefefe" />
<rect x="457.85" y="149.14" width="1.66" height="22.14" fill="#e5e9f9" />
<rect x="459.16" y="149.14" width="1.66" height="22.14" fill="#eef0fb" />
<rect x="460.48" y="149.14" width="1.66" height="22.14" fill="#fefefe" />
<rect x="461.79" y="149.14" width="1.66" height="22.14" fill="#fae4e1" />
<rect x="463.11" y="149.14" width="1.66" height="22.14" fill="#aebbec" />
<rect x="464.42" y="149.14" width="1.66" height="22.14" fill="#f5c6c0" />
<rect x="465.74" y="149.14" width="1.66" height="22.14" fill="#d7ddf5" />
<rect x="467.05" y="149.14" width="1.66" height="22.14" fill="#f2b4ac" />
<rect x="468.37" y="149.14" width="1.66" height="22.14" fill="#c1cbf0" />
<rect x="469.68" y="149.14" width="1.66" height="22.14" fill="#b2beed" />
<rect x="470.99" y="149.14" width="1.66" height="22.14" fill="#f5c1bb" />
<rect x="472.31" y="149.14" width="1.66" height="22.14" fill="#f4beb7" />
<rect x="473.62" y="149.14" width="1.66" height="22.14" fill="#9cace8" />
<rect x="474.94" y="149.14" width="1.66" height="22.14" fill="#a9b7eb" />
<rect x="476.25" y="149.14" width="1.66" height="22.14" fill="#f6c9c3" />
<rect x="477.57" y="149.14" width="1.66" height="22.14" fill="#f7d2ce" />
<rect x="478.88" y="149.14" width="1.66" height="22.14" fill="#ebeefa" />
<rect x="480.20" y="149.14" width="1.66" height="22.14" fill="#94a5e6" />
<rect x="481.51" y="149.14" width="1.66" height="22.14" fill="#d5dcf5" />
<rect x="482.82" y="149.14" width="1.66" height="22.14" fill="#dbe1f6" />
<rect x="484.14" y="149.14" width="1.66" height="22.14" fill="#f3b5ad" />
<rect x="485.45" y="149.14" width="1.66" height="22.14" fill="#dbe0f6" />
<rect x="486.77" y="149.14" width="1.66" height="22.14" fill="#dfe4f7" />
<rect x="488.08" y="149.14" width="1.66" height="22.14" fill="#fcfcfe" />
<rect x="489.40" y="149.14" width="1.66" height="22.14" fill="#e56050" />
<rect x="490.71" y="149.14" width="1.66" height="22.14" fill="#fdf6f6" />
<rect x="492.02" y="149.14" width="1.66" height="22.14" fill="#f7d0cb" />
<rect x="493.34" y="149.14" width="1.66" height="22.14" fill="#f9dcd8" />
<rect x="494.65" y="149.14" width="1.66" height="22.14" fill="#788ee0" />
<rect x="495.97" y="149.14" width="1.66" height="22.14" fill="#f4f6fc" />
<rect x="497.28" y="149.14" width="1.66" height="22.14" fill="#bdc7f0" />
<rect x="498.60" y="149.14" width="1.66" height="22.14" fill="#c5cef1" />
<rect x="499.91" y="149.14" width="1.66" height="22.14" fill="#b8c3ee" />
<rect x="501.23" y="149.14" width="1.66" height="22.14" fill="#dae0f6" />
<rect x="502.54" y="149.14" width="1.66" height="22.14" fill="#fefdfd" />
<rect x="503.85" y="149.14" width="1.66" height="22.14" fill="#748adf" />
<rect x="505.17" y="149.14" width="1.66" height="22.14" fill="#afbcec" />
<rect x="506.48" y="149.14" width="1.66" height="22.14" fill="#d5dbf5" />
<rect x="507.80" y="149.14" width="1.66" height="22.14" fill="#b0bced" />
<rect x="509.11" y="149.14" width="1.66" height="22.14" fill="#5671d8" />
<rect x="510.43" y="149.14" width="1.66" height="22.14" fill="#758bdf" />
<rect x="511.74" y="149.14" width="1.66" height="22.14" fill="#4260d4" />
<rect x="513.06" y="149.14" width="1.66" height="22.14" fill="#cbd3f3" />
<rect x="514.37" y="149.14" width="1.66" height="22.14" fill="#a5b3ea" />
<rect x="515.68" y="149.14" width="1.66" height="22.14" fill="#97a8e7" />
<rect x="517.00" y="149.14" width="1.66" height="22.14" fill="#758bdf" />
<rect x="518.31" y="149.14" width="1.66" height="22.14" fill="#a9b7eb" />
<rect x="519.63" y="149.14" width="1.66" height="22.14" fill="#91a2e5" />
<rect x="520.94" y="149.14" width="1.66" height="22.14" fill="#94a5e6" />
<rect x="522.26" y="149.14" width="1.66" height="22.14" fill="#fdfefe" />
<rect x="523.57" y="149.14" width="1.66" height="22.14" fill="#8d9fe5" />
<rect x="524.88" y="149.14" width="1.66" height="22.14" fill="#7e93e1" />
<rect x="526.20" y="149.14" width="1.66" height="22.14" fill="#c7d0f2" />
<rect x="527.51" y="149.14" width="1.66" height="22.14" fill="#a2b1e9" />
<rect x="528.83" y="149.14" width="1.66" height="22.14" fill="#bec8f0" />
<rect x="530.14" y="149.14" width="1.66" height="22.14" fill="#6981dc" />
<rect x="531.46" y="149.14" width="1.66" height="22.14" fill="#a1b0e9" />
<rect x="532.77" y="149.14" width="1.66" height="22.14" fill="#fafbfd" />
<rect x="534.09" y="149.14" width="1.66" height="22.14" fill="#5b75d9" />
<rect x="371.10" y="170.98" width="1.66" height="22.14" fill="#f5c1bb" />
<rect x="372.41" y="170.98" width="1.66" height="22.14" fill="#eb887c" />
<rect x="373.73" y="170.98" width="1.66" height="22.14" fill="#d2d9f4" />
<rect x="375.04" y="170.98" width="1.66" height="22.14" fill="#e03e2a" />
<rect x="376.36" y="170.98" width="1.66" height="22.14" fill="#f9ddd9" />
<rect x="377.67" y="170.98" width="1.66" height="22.14" fill="#f6ccc7" />
<rect x="378.99" y="170.98" width="1.66" height="22.14" fill="#f0f3fb" />
<rect x="380.30" y="170.98" width="1.66" height="22.14" fill="#eb877a" />
<rect x="381.62" y="170.98" width="1.66" height="22.14" fill="#fdf8f7" />
<rect x="382.93" y="170.98" width="1.66" height="22.14" fill="#f9dcd9" />
<rect x="384.24" y="170.98" width="1.66" height="22.14" fill="#c6cff2" />
<rect x="385.56" y="170.98" width="1.66" height="22.14" fill="#f2aea5" />
<rect x="386.87" y="170.98" width="1.66" height="22.14" fill="#fae1dd" />
<rect x="388.19" y="170.98" width="1.66" height="22.14" fill="#f6ccc7" />
<rect x="389.50" y="170.98" width="1.66" height="22.14" fill="#f5c6c0" />
<rect x="390.82" y="170.98" width="1.66" height="22.14" fill="#f0a59c" />
<rect x="392.13" y="170.98" width="1.66" height="22.14" fill="#f9ddd9" />
<rect x="393.44" y="170.98" width="1.66" height="22.14" fill="#f4c0b9" />
<rect x="394.76" y="170.98" width="1.66" height="22.14" fill="#edf0fb" />
<rect x="396.07" y="170.98" width="1.66" height="22.14" fill="#f4bfb8" />
<rect x="397.39" y="170.98" width="1.66" height="22.14" fill="#eb8679" />
<rect x="398.70" y="170.98" width="1.66" height="22.14" fill="#fbfbfe" />
<rect x="400.02" y="170.98" width="1.66" height="22.14" fill="#f7d2cd" />
<rect x="401.33" y="170.98" width="1.66" height="22.14" fill="#f8d3ce" />
<rect x="402.65" y="170.98" width="1.66" height="22.14" fill="#f1aca3" />
<rect x="403.96" y="170.98" width="1.66" height="22.14" fill="#fae5e2" />
<rect x="405.27" y="170.98" width="1.66" height="22.14" fill="#f8d3cf" />
<rect x="406.59" y="170.98" width="1.66" height="22.14" fill="#f0f2fb" />
<rect x="407.90" y="170.98" width="1.66" height="22.14" fill="#f8d5d0" />
<rect x="409.22" y="170.98" width="1.66" height="22.14" fill="#f7cdc8" />
<rect x="410.53" y="170.98" width="1.66" height="22.14" fill="#d2d9f4" />
<rect x="411.85" y="170.98" width="1.66" height="22.14" fill="#ee9a8f" />
<rect x="413.16" y="170.98" width="1.66" height="22.14" fill="#a2b0e9" />
<rect x="414.48" y="170.98" width="1.66" height="22.14" fill="#bcc6ef" />
<rect x="415.79" y="170.98" width="1.66" height="22.14" fill="#ee958a" />
<rect x="417.10" y="170.98" width="1.66" height="22.14" fill="#ec887c" />
<rect x="418.42" y="170.98" width="1.66" height="22.14" fill="#f4bbb4" />
<rect x="419.73" y="170.98" width="1.66" height="22.14" fill="#f3b9b2" />
<rect x="421.05" y="170.98" width="1.66" height="22.14" fill="#f3b7b0" />
<rect x="422.36" y="170.98" width="1.66" height="22.14" fill="#cad2f3" />
<rect x="423.68" y="170.98" width="1.66" height="22.14" fill="#f9d9d6" />
<rect x="424.99" y="170.98" width="1.66" height="22.14" fill="#fae3e0" />
<rect x="426.30" y="170.98" width="1.66" height="22.14" fill="#eb8679" />
<rect x="427.62" y="170.98" width="1.66" height="22.14" fill="#f6c7c2" />
<rect x="428.93" y="170.98" width="1.66" height="22.14" fill="#f4f6fc" />
<rect x="430.25" y="170.98" width="1.66" height="22.14" fill="#f0a69d" />
<rect x="431.56" y="170.98" width="1.66" height="22.14" fill="#f7cfca" />
<rect x="432.88" y="170.98" width="1.66" height="22.14" fill="#f1aaa2" />
<rect x="434.19" y="170.98" width="1.66" height="22.14" fill="#f0a69c" />
<rect x="435.51" y="170.98" width="1.66" height="22.14" fill="#fae6e3" />
<rect x="436.82" y="170.98" width="1.66" height="22.14" fill="#ef9d93" />
<rect x="438.13" y="170.98" width="1.66" height="22.14" fill="#c2ccf1" />
<rect x="439.45" y="170.98" width="1.66" height="22.14" fill="#ec8e82" />
<rect x="440.76" y="170.98" width="1.66" height="22.14" fill="#ee978c" />
<rect x="442.08" y="170.98" width="1.66" height="22.14" fill="#f6c9c4" />
<rect x="443.39" y="170.98" width="1.66" height="22.14" fill="#e66556" />
<rect x="444.71" y="170.98" width="1.66" height="22.14" fill="#e9796b" />
<rect x="446.02" y="170.98" width="1.66" height="22.14" fill="#fbe7e4" />
<rect x="447.34" y="170.98" width="1.66" height="22.14" fill="#f0a59c" />
<rect x="448.65" y="170.98" width="1.66" height="22.14" fill="#e97769" />
<rect x="449.96" y="170.98" width="1.66" height="22.14" fill="#f9ddda" />
<rect x="451.28" y="170.98" width="1.66" height="22.14" fill="#f7cdc8" />
<rect x="452.59" y="170.98" width="1.66" height="22.14" fill="#e4e8f8" />
<rect x="453.91" y="170.98" width="1.66" height="22.14" fill="#b1bded" />
<rect x="455.22" y="170.98" width="1.66" height="22.14" fill="#f7f8fd" />
<rect x="456.54" y="170.98" width="1.66" height="22.14" fill="#8d9fe5" />
<rect x="457.85" y="170.98" width="1.66" height="22.14" fill="#fefaf9" />
<rect x="459.16" y="170.98" width="1.66" height="22.14" fill="#4260d4" />
<rect x="460.48" y="170.98" width="1.66" height="22.14" fill="#e03e2a" />
<rect x="461.79" y="170.98" width="1.66" height="22.14" fill="#f0a49b" />
<rect x="463.11" y="170.98" width="1.66" height="22.14" fill="#fafbfe" />
<rect x="464.42" y="170.98" width="1.66" height="22.14" fill="#f7f8fd" />
<rect x="465.74" y="170.98" width="1.66" height="22.14" fill="#f7d0cb" />
<rect x="467.05" y="170.98" width="1.66" height="22.14" fill="#dae0f6" />
<rect x="468.37" y="170.98" width="1.66" height="22.14" fill="#e3e8f8" />
<rect x="469.68" y="170.98" width="1.66" height="22.14" fill="#ed8f83" />
<rect x="470.99" y="170.98" width="1.66" height="22.14" fill="#ec8c80" />
<rect x="472.31" y="170.98" width="1.66" height="22.14" fill="#f1a8a0" />
<rect x="473.62" y="170.98" width="1.66" height="22.14" fill="#fbeae8" />
<rect x="474.94" y="170.98" width="1.66" height="22.14" fill="#f9dbd8" />
<rect x="476.25" y="170.98" width="1.66" height="22.14" fill="#fdfdfe" />
<rect x="477.57" y="170.98" width="1.66" height="22.14" fill="#e35240" />
<rect x="478.88" y="170.98" width="1.66" height="22.14" fill="#ed8f84" />
<rect x="480.20" y="170.98" width="1.66" height="22.14" fill="#e76d5e" />
<rect x="481.51" y="170.98" width="1.66" height="22.14" fill="#d5dcf5" />
<rect x="482.82" y="170.98" width="1.66" height="22.14" fill="#e8ecf9" />
<rect x="484.14" y="170.98" width="1.66" height="22.14" fill="#fefafa" />
<rect x="485.45" y="170.98" width="1.66" height="22.14" fill="#fefcfc" />
<rect x="486.77" y="170.98" width="1.66" height="22.14" fill="#fefefe" />
<rect x="488.08" y="170.98" width="1.66" height="22.14" fill="#ea7e71" />
<rect x="489.40" y="170.98" width="1.66" height="22.14" fill="#f6c7c2" />
<rect x="490.71" y="170.98" width="1.66" height="22.14" fill="#fef9f9" />
<rect x="492.02" y="170.98" width="1.66" height="22.14" fill="#fbfbfe" />
<rect x="493.34" y="170.98" width="1.66" height="22.14" fill="#fdf5f4" />
<rect x="494.65" y="170.98" width="1.66" height="22.14" fill="#c8d1f2" />
<rect x="495.97" y="170.98" width="1.66" height="22.14" fill="#4260d4" />
<rect x="497.28" y="170.98" width="1.66" height="22.14" fill="#c8d1f2" />
<rect x="498.60" y="170.98" width="1.66" height="22.14" fill="#bcc7ef" />
<rect x="499.91" y="170.98" width="1.66" height="22.14" fill="#bfc9f0" />
<rect x="501.23" y="170.98" width="1.66" height="22.14" fill="#a6b4ea" />
<rect x="502.54" y="170.98" width="1.66" height="22.14" fill="#a3b1ea" />
<rect x="503.85" y="170.98" width="1.66" height="22.14" fill="#4260d4" />
<rect x="505.17" y="170.98" width="1.66" height="22.14" fill="#7389df" />
<rect x="506.48" y="170.98" width="1.66" height="22.14" fill="#758bdf" />
<rect x="507.80" y="170.98" width="1.66" height="22.14" fill="#c2ccf1" />
<rect x="509.11" y="170.98" width="1.66" height="22.14" fill="#d7ddf5" />
<rect x="510.43" y="170.98" width="1.66" height="22.14" fill="#8598e3" />
<rect x="511.74" y="170.98" width="1.66" height="22.14" fill="#8195e2" />
<rect x="513.06" y="170.98" width="1.66" height="22.14" fill="#8397e2" />
<rect x="514.37" y="170.98" width="1.66" height="22.14" fill="#d3daf5" />
<rect x="515.68" y="170.98" width="1.66" height="22.14" fill="#d1d8f4" />
<rect x="517.00" y="170.98" width="1.66" height="22.14" fill="#6d84dd" />
<rect x="518.31" y="170.98" width="1.66" height="22.14" fill="#90a2e5" />
<rect x="519.63" y="170.98" width="1.66" height="22.14" fill="#5c76da" />
<rect x="520.94" y="170.98" width="1.66" height="22.14" fill="#6079da" />
<rect x="522.26" y="170.98" width="1.66" height="22.14" fill="#cdd5f3" />
<rect x="523.57" y="170.98" width="1.66" height="22.14" fill="#4260d4" />
<rect x="524.88" y="170.98" width="1.66" height="22.14" fill="#94a5e6" />
<rect x="526.20" y="170.98" width="1.66" height="22.14" fill="#b1bded" />
<rect x="527.51" y="170.98" width="1.66" height="22.14" fill="#8c9fe5" />
<rect x="528.83" y="170.98" width="1.66" height="22.14" fill="#b0bced" />
<rect x="530.14" y="170.98" width="1.66" height="22.14" fill="#afbcec" />
<rect x="531.46" y="170.98" width="1.66" height="22.14" fill="#b9c4ef" />
<rect x="532.77" y="170.98" width="1.66" height="22.14" fill="#7188de" />
<rect x="534.09" y="170.98" width="1.66" height="22.14" fill="#6981dd" />
<rect x="371.10" y="192.82" width="1.66" height="22.14" fill="#fae4e1" />
<rect x="372.41" y="192.82" width="1.66" height="22.14" fill="#9eade8" />
<rect x="373.73" y="192.82" width="1.66" height="22.14" fill="#ec8a7d" />
<rect x="375.04" y="192.82" width="1.66" height="22.14" fill="#ed8f83" />
<rect x="376.36" y="192.82" width="1.66" height="22.14" fill="#f6cac4" />
<rect x="377.67" y="192.82" width="1.66" height="22.14" fill="#f4bfb8" />
<rect x="378.99" y="192.82" width="1.66" height="22.14" fill="#ee968b" />
<rect x="380.30" y="192.82" width="1.66" height="22.14" fill="#f7cec9" />
<rect x="381.62" y="192.82" width="1.66" height="22.14" fill="#fceeec" />
<rect x="382.93" y="192.82" width="1.66" height="22.14" fill="#ec887c" />
<rect x="384.24" y="192.82" width="1.66" height="22.14" fill="#f4bab3" />
<rect x="385.56" y="192.82" width="1.66" height="22.14" fill="#e87465" />
<rect x="386.87" y="192.82" width="1.66" height="22.14" fill="#c5cef1" />
<rect x="388.19" y="192.82" width="1.66" height="22.14" fill="#fcf1ef" />
<rect x="389.50" y="192.82" width="1.66" height="22.14" fill="#e03e2a" />
<rect x="390.82" y="192.82" width="1.66" height="22.14" fill="#afbcec" />
<rect x="392.13" y="192.82" width="1.66" height="22.14" fill="#ee9a90" />
<rect x="393.44" y="192.82" width="1.66" height="22.14" fill="#f2b3ab" />
<rect x="394.76" y="192.82" width="1.66" height="22.14" fill="#f0a79d" />
<rect x="396.07" y="192.82" width="1.66" height="22.14" fill="#e45948" />
<rect x="397.39" y="192.82" width="1.66" height="22.14" fill="#ec8a7d" />
<rect x="398.70" y="192.82" width="1.66" height="22.14" fill="#fefcfc" />
<rect x="400.02" y="192.82" width="1.66" height="22.14" fill="#e56252" />
<rect x="401.33" y="192.82" width="1.66" height="22.14" fill="#f7cec8" />
<rect x="402.65" y="192.82" width="1.66" height="22.14" fill="#fceeec" />
<rect x="403.96" y="192.82" width="1.66" height="22.14" fill="#fae0dc" />
<rect x="405.27" y="192.82" width="1.66" height="22.14" fill="#fcf0ef" />
<rect x="406.59" y="192.82" width="1.66" height="22.14" fill="#f3b6af" />
<rect x="407.90" y="192.82" width="1.66" height="22.14" fill="#ef9e94" />
<rect x="409.22" y="192.82" width="1.66" height="22.14" fill="#ed9287" />
<rect x="410.53" y="192.82" width="1.66" height="22.14" fill="#eb8578" />
<rect x="411.85" y="192.82" width="1.66" height="22.14" fill="#ee988e" />
<rect x="413.16" y="192.82" width="1.66" height="22.14" fill="#f2f4fc" />
<rect x="414.48" y="192.82" width="1.66" height="22.14" fill="#b0bced" />
<rect x="415.79" y="192.82" width="1.66" height="22.14" fill="#f8d4cf" />
<rect x="417.10" y="192.82" width="1.66" height="22.14" fill="#fcfdfe" />
<rect x="418.42" y="192.82" width="1.66" height="22.14" fill="#fbfcfe" />
<rect x="419.73" y="192.82" width="1.66" height="22.14" fill="#f1aba2" />
<rect x="421.05" y="192.82" width="1.66" height="22.14" fill="#e2e7f8" />
<rect x="422.36" y="192.82" width="1.66" height="22.14" fill="#fef9f8" />
<rect x="423.68" y="192.82" width="1.66" height="22.14" fill="#f4f6fc" />
<rect x="424.99" y="192.82" width="1.66" height="22.14" fill="#bcc7ef" />
<rect x="426.30" y="192.82" width="1.66" height="22.14" fill="#f7cfca" />
<rect x="427.62" y="192.82" width="1.66" height="22.14" fill="#fdf7f6" />
<rect x="428.93" y="192.82" width="1.66" height="22.14" fill="#f6cbc6" />
<rect x="430.25" y="192.82" width="1.66" height="22.14" fill="#d0d7f4" />
<rect x="431.56" y="192.82" width="1.66" height="22.14" fill="#e7ebf9" />
<rect x="432.88" y="192.82" width="1.66" height="22.14" fill="#fae4e1" />
<rect x="434.19" y="192.82" width="1.66" height="22.14" fill="#f9dad7" />
<rect x="435.51" y="192.82" width="1.66" height="22.14" fill="#f6f8fd" />
<rect x="436.82" y="192.82" width="1.66" height="22.14" fill="#f7d2cd" />
<rect x="438.13" y="192.82" width="1.66" height="22.14" fill="#f2b1a9" />
<rect x="439.45" y="192.82" width="1.66" height="22.14" fill="#e76a5b" />
<rect x="440.76" y="192.82" width="1.66" height="22.14" fill="#f7d2cd" />
<rect x="442.08" y="192.82" width="1.66" height="22.14" fill="#f4beb7" />
<rect x="443.39" y="192.82" width="1.66" height="22.14" fill="#f1aca4" />
<rect x="444.71" y="192.82" width="1.66" height="22.14" fill="#dde2f7" />
<rect x="446.02" y="192.82" width="1.66" height="22.14" fill="#eaedfa" />
<rect x="447.34" y="192.82" width="1.66" height="22.14" fill="#ed9287" />
<rect x="448.65" y="192.82" width="1.66" height="22.14" fill="#fcf2f1" />
<rect x="449.96" y="192.82" width="1.66" height="22.14" fill="#fbebe9" />
<rect x="451.28" y="192.82" width="1.66" height="22.14" fill="#f7d1cc" />
<rect x="452.59" y="192.82" width="1.66" height="22.14" fill="#fcf2f0" />
<rect x="453.91" y="192.82" width="1.66" height="22.14" fill="#9eaee9" />
<rect x="455.22" y="192.82" width="1.66" height="22.14" fill="#ccd4f3" />
<rect x="456.54" y="192.82" width="1.66" height="22.14" fill="#fcfdfe" />
<rect x="457.85" y="192.82" width="1.66" height="22.14" fill="#f7d2cd" />
<rect x="459.16" y="192.82" width="1.66" height="22.14" fill="#e66555" />
<rect x="460.48" y="192.82" width="1.66" height="22.14" fill="#fae0dd" />
<rect x="461.79" y="192.82" width="1.66" height="22.14" fill="#f0a59c" />
<rect x="463.11" y="192.82" width="1.66" height="22.14" fill="#f1f3fb" />
<rect x="464.42" y="192.82" width="1.66" height="22.14" fill="#e03e2a" />
<rect x="465.74" y="192.82" width="1.66" height="22.14" fill="#f8d8d4" />
<rect x="467.05" y="192.82" width="1.66" height="22.14" fill="#f8d8d4" />
<rect x="468.37" y="192.82" width="1.66" height="22.14" fill="#f8d5d0" />
<rect x="469.68" y="192.82" width="1.66" height="22.14" fill="#ec8e83" />
<rect x="470.99" y="192.82" width="1.66" height="22.14" fill="#f2b0a8" />
<rect x="472.31" y="192.82" width="1.66" height="22.14" fill="#e9786a" />
<rect x="473.62" y="192.82" width="1.66" height="22.14" fill="#f9dcd9" />
<rect x="474.94" y="192.82" width="1.66" height="22.14" fill="#eb8376" />
<rect x="476.25" y="192.82" width="1.66" height="22.14" fill="#e8ecf9" />
<rect x="477.57" y="192.82" width="1.66" height="22.14" fill="#f9fafd" />
<rect x="478.88" y="192.82" width="1.66" height="22.14" fill="#f7cfca" />
<rect x="480.20" y="192.82" width="1.66" height="22.14" fill="#fbe9e7" />
<rect x="481.51" y="192.82" width="1.66" height="22.14" fill="#f9dfdb" />
<rect x="482.82" y="192.82" width="1.66" height="22.14" fill="#d7ddf6" />
<rect x="484.14" y="192.82" width="1.66" height="22.14" fill="#eb867a" />
<rect x="485.45" y="192.82" width="1.66" height="22.14" fill="#f0a59b" />
<rect x="486.77" y="192.82" width="1.66" height="22.14" fill="#fef9f8" />
<rect x="488.08" y="192.82" width="1.66" height="22.14" fill="#f0a79d" />
<rect x="489.40" y="192.82" width="1.66" height="22.14" fill="#f7cdc8" />
<rect x="490.71" y="192.82" width="1.66" height="22.14" fill="#f9dfdb" />
<rect x="492.02" y="192.82" width="1.66" height="22.14" fill="#fdf5f4" />
<rect x="493.34" y="192.82" width="1.66" height="22.14" fill="#dee3f7" />
<rect x="494.65" y="192.82" width="1.66" height="22.14" fill="#ced5f3" />
<rect x="495.97" y="192.82" width="1.66" height="22.14" fill="#c0caf0" />
<rect x="497.28" y="192.82" width="1.66" height="22.14" fill="#9faee9" />
<rect x="498.60" y="192.82" width="1.66" height="22.14" fill="#879ae3" />
<rect x="499.91" y="192.82" width="1.66" height="22.14" fill="#e0e5f8" />
<rect x="501.23" y="192.82" width="1.66" height="22.14" fill="#e1e6f8" />
<rect x="502.54" y="192.82" width="1.66" height="22.14" fill="#c7d0f2" />
<rect x="503.85" y="192.82" width="1.66" height="22.14" fill="#d9dff6" />
<rect x="505.17" y="192.82" width="1.66" height="22.14" fill="#7c91e1" />
<rect x="506.48" y="192.82" width="1.66" height="22.14" fill="#bac5ef" />
<rect x="507.80" y="192.82" width="1.66" height="22.14" fill="#bac5ef" />
<rect x="509.11" y="192.82" width="1.66" height="22.14" fill="#b7c3ee" />
<rect x="510.43" y="192.82" width="1.66" height="22.14" fill="#abb8ec" />
<rect x="511.74" y="192.82" width="1.66" height="22.14" fill="#dae0f6" />
<rect x="513.06" y="192.82" width="1.66" height="22.14" fill="#fefefe" />
<rect x="514.37" y="192.82" width="1.66" height="22.14" fill="#eaedfa" />
<rect x="515.68" y="192.82" width="1.66" height="22.14" fill="#c3ccf1" />
<rect x="517.00" y="192.82" width="1.66" height="22.14" fill="#cfd7f4" />
<rect x="518.31" y="192.82" width="1.66" height="22.14" fill="#a2b0e9" />
<rect x="519.63" y="192.82" width="1.66" height="22.14" fill="#bcc7ef" />
<rect x="520.94" y="192.82" width="1.66" height="22.14" fill="#cad3f3" />
<rect x="522.26" y="192.82" width="1.66" height="22.14" fill="#eef1fb" />
<rect x="523.57" y="192.82" width="1.66" height="22.14" fill="#768cdf" />
<rect x="524.88" y="192.82" width="1.66" height="22.14" fill="#d7ddf6" />
<rect x="526.20" y="192.82" width="1.66" height="22.14" fill="#c4cdf1" />
<rect x="527.51" y="192.82" width="1.66" height="22.14" fill="#a7b5eb" />
<rect x="528.83" y="192.82" width="1.66" height="22.14" fill="#b0bded" />
<rect x="530.14" y="192.82" width="1.66" height="22.14" fill="#90a1e5" />
<rect x="531.46" y="192.82" width="1.66" height="22.14" fill="#c8d0f2" />
<rect x="532.77" y="192.82" width="1.66" height="22.14" fill="#7f93e1" />
<rect x="534.09" y="192.82" width="1.66" height="22.14" fill="#9eade8" />
<rect x="371.10" y="214.66" width="1.66" height="22.14" fill="#f9dedb" />
<rect x="372.41" y="214.66" width="1.66" height="22.14" fill="#ed8f83" />
<rect x="373.73" y="214.66" width="1.66" height="22.14" fill="#eb877b" />
<rect x="375.04" y="214.66" width="1.66" height="22.14" fill="#e2e7f8" />
<rect x="376.36" y="214.66" width="1.66" height="22.14" fill="#f2afa7" />
<rect x="377.67" y="214.66" width="1.66" height="22.14" fill="#f5c1bb" />
<rect x="378.99" y="214.66" width="1.66" height="22.14" fill="#fae2df" />
<rect x="380.30" y="214.66" width="1.66" height="22.14" fill="#f1aca3" />
<rect x="381.62" y="214.66" width="1.66" height="22.14" fill="#f7d1cc" />
<rect x="382.93" y="214.66" width="1.66" height="22.14" fill="#f5c3bd" />
<rect x="384.24" y="214.66" width="1.66" height="22.14" fill="#f5c3bd" />
<rect x="385.56" y="214.66" width="1.66" height="22.14" fill="#f9dbd7" />
<rect x="386.87" y="214.66" width="1.66" height="22.14" fill="#fae3e0" />
<rect x="388.19" y="214.66" width="1.66" height="22.14" fill="#f4bab3" />
<rect x="389.50" y="214.66" width="1.66" height="22.14" fill="#f2b1a9" />
<rect x="390.82" y="214.66" width="1.66" height="22.14" fill="#f6c9c4" />
<rect x="392.13" y="214.66" width="1.66" height="22.14" fill="#f9fafd" />
<rect x="393.44" y="214.66" width="1.66" height="22.14" fill="#f8d6d2" />
<rect x="394.76" y="214.66" width="1.66" height="22.14" fill="#f7cfca" />
<rect x="396.07" y="214.66" width="1.66" height="22.14" fill="#f9dcd9" />
<rect x="397.39" y="214.66" width="1.66" height="22.14" fill="#e24b38" />
<rect x="398.70" y="214.66" width="1.66" height="22.14" fill="#f3f5fc" />
<rect x="400.02" y="214.66" width="1.66" height="22.14" fill="#f3b6ae" />
<rect x="401.33" y="214.66" width="1.66" height="22.14" fill="#ef9e94" />
<rect x="402.65" y="214.66" width="1.66" height="22.14" fill="#e2e6f8" />
<rect x="403.96" y="214.66" width="1.66" height="22.14" fill="#f7cdc8" />
<rect x="405.27" y="214.66" width="1.66" height="22.14" fill="#fdf3f2" />
<rect x="406.59" y="214.66" width="1.66" height="22.14" fill="#f8d6d2" />
<rect x="407.90" y="214.66" width="1.66" height="22.14" fill="#d6dcf5" />
<rect x="409.22" y="214.66" width="1.66" height="22.14" fill="#f7ceca" />
<rect x="410.53" y="214.66" width="1.66" height="22.14" fill="#f6c7c1" />
<rect x="411.85" y="214.66" width="1.66" height="22.14" fill="#f3b5ae" />
<rect x="413.16" y="214.66" width="1.66" height="22.14" fill="#e9ecfa" />
<rect x="414.48" y="214.66" width="1.66" height="22.14" fill="#f7cfca" />
<rect x="415.79" y="214.66" width="1.66" height="22.14" fill="#f2aea5" />
<rect x="417.10" y="214.66" width="1.66" height="22.14" fill="#fcedeb" />
<rect x="418.42" y="214.66" width="1.66" height="22.14" fill="#fcf1f0" />
<rect x="419.73" y="214.66" width="1.66" height="22.14" fill="#90a1e5" />
<rect x="421.05" y="214.66" width="1.66" height="22.14" fill="#e66353" />
<rect x="422.36" y="214.66" width="1.66" height="22.14" fill="#f3b4ac" />
<rect x="423.68" y="214.66" width="1.66" height="22.14" fill="#ea7c6e" />
<rect x="424.99" y="214.66" width="1.66" height="22.14" fill="#ebeefa" />
<rect x="426.30" y="214.66" width="1.66" height="22.14" fill="#e03e2a" />
<rect x="427.62" y="214.66" width="1.66" height="22.14" fill="#f3b6ae" />
<rect x="428.93" y="214.66" width="1.66" height="22.14" fill="#f4bcb5" />
<rect x="430.25" y="214.66" width="1.66" height="22.14" fill="#fdf2f1" />
<rect x="431.56" y="214.66" width="1.66" height="22.14" fill="#fdf4f3" />
<rect x="432.88" y="214.66" width="1.66" height="22.14" fill="#f6cbc5" />
<rect x="434.19" y="214.66" width="1.66" height="22.14" fill="#f3b4ac" />
<rect x="435.51" y="214.66" width="1.66" height="22.14" fill="#f3f5fc" />
<rect x="436.82" y="214.66" width="1.66" height="22.14" fill="#f6c7c1" />
<rect x="438.13" y="214.66" width="1.66" height="22.14" fill="#f1aaa2" />
<rect x="439.45" y="214.66" width="1.66" height="22.14" fill="#e87162" />
<rect x="440.76" y="214.66" width="1.66" height="22.14" fill="#b4c0ee" />
<rect x="442.08" y="214.66" width="1.66" height="22.14" fill="#eb8578" />
<rect x="443.39" y="214.66" width="1.66" height="22.14" fill="#f3b7af" />
<rect x="444.71" y="214.66" width="1.66" height="22.14" fill="#eb877a" />
<rect x="446.02" y="214.66" width="1.66" height="22.14" fill="#f2b3ab" />
<rect x="447.34" y="214.66" width="1.66" height="22.14" fill="#fae2df" />
<rect x="448.65" y="214.66" width="1.66" height="22.14" fill="#f6cac4" />
<rect x="449.96" y="214.66" width="1.66" height="22.14" fill="#e0422e" />
<rect x="451.28" y="214.66" width="1.66" height="22.14" fill="#95a5e6" />
<rect x="452.59" y="214.66" width="1.66" height="22.14" fill="#f2b0a8" />
<rect x="453.91" y="214.66" width="1.66" height="22.14" fill="#d7def6" />
<rect x="455.22" y="214.66" width="1.66" height="22.14" fill="#b1beed" />
<rect x="456.54" y="214.66" width="1.66" height="22.14" fill="#f8d6d2" />
<rect x="457.85" y="214.66" width="1.66" height="22.14" fill="#fdf5f4" />
<rect x="459.16" y="214.66" width="1.66" height="22.14" fill="#fceeec" />
<rect x="460.48" y="214.66" width="1.66" height="22.14" fill="#f3f5fc" />
<rect x="461.79" y="214.66" width="1.66" height="22.14" fill="#ec897d" />
<rect x="463.11" y="214.66" width="1.66" height="22.14" fill="#f7cfca" />
<rect x="464.42" y="214.66" width="1.66" height="22.14" fill="#f9ddd9" />
<rect x="465.74" y="214.66" width="1.66" height="22.14" fill="#fae2df" />
<rect x="467.05" y="214.66" width="1.66" height="22.14" fill="#f3bab3" />
<rect x="468.37" y="214.66" width="1.66" height="22.14" fill="#e6eaf9" />
<rect x="469.68" y="214.66" width="1.66" height="22.14" fill="#f4bbb4" />
<rect x="470.99" y="214.66" width="1.66" height="22.14" fill="#f8f9fd" />
<rect x="472.31" y="214.66" width="1.66" height="22.14" fill="#f2aea6" />
<rect x="473.62" y="214.66" width="1.66" height="22.14" fill="#fdf7f7" />
<rect x="474.94" y="214.66" width="1.66" height="22.14" fill="#e35644" />
<rect x="476.25" y="214.66" width="1.66" height="22.14" fill="#e45745" />
<rect x="477.57" y="214.66" width="1.66" height="22.14" fill="#fbebe9" />
<rect x="478.88" y="214.66" width="1.66" height="22.14" fill="#4260d4" />
<rect x="480.20" y="214.66" width="1.66" height="22.14" fill="#d8def6" />
<rect x="481.51" y="214.66" width="1.66" height="22.14" fill="#eff2fb" />
<rect x="482.82" y="214.66" width="1.66" height="22.14" fill="#b2beed" />
<rect x="484.14" y="214.66" width="1.66" height="22.14" fill="#f2aea6" />
<rect x="485.45" y="214.66" width="1.66" height="22.14" fill="#fcecea" />
<rect x="486.77" y="214.66" width="1.66" height="22.14" fill="#a3b1ea" />
<rect x="488.08" y="214.66" width="1.66" height="22.14" fill="#f2b0a8" />
<rect x="489.40" y="214.66" width="1.66" height="22.14" fill="#fefdfc" />
<rect x="490.71" y="214.66" width="1.66" height="22.14" fill="#dbe0f6" />
<rect x="492.02" y="214.66" width="1.66" height="22.14" fill="#fae3e0" />
<rect x="493.34" y="214.66" width="1.66" height="22.14" fill="#eff2fb" />
<rect x="494.65" y="214.66" width="1.66" height="22.14" fill="#a2b1e9" />
<rect x="495.97" y="214.66" width="1.66" height="22.14" fill="#9aaae8" />
<rect x="497.28" y="214.66" width="1.66" height="22.14" fill="#879ae3" />
<rect x="498.60" y="214.66" width="1.66" height="22.14" fill="#7f93e1" />
<rect x="499.91" y="214.66" width="1.66" height="22.14" fill="#fae5e3" />
<rect x="501.23" y="214.66" width="1.66" height="22.14" fill="#8396e2" />
<rect x="502.54" y="214.66" width="1.66" height="22.14" fill="#7c90e1" />
<rect x="503.85" y="214.66" width="1.66" height="22.14" fill="#8ea0e5" />
<rect x="505.17" y="214.66" width="1.66" height="22.14" fill="#b3bfed" />
<rect x="506.48" y="214.66" width="1.66" height="22.14" fill="#f2f4fc" />
<rect x="507.80" y="214.66" width="1.66" height="22.14" fill="#bec8f0" />
<rect x="509.11" y="214.66" width="1.66" height="22.14" fill="#8c9ee4" />
<rect x="510.43" y="214.66" width="1.66" height="22.14" fill="#516dd7" />
<rect x="511.74" y="214.66" width="1.66" height="22.14" fill="#aab8eb" />
<rect x="513.06" y="214.66" width="1.66" height="22.14" fill="#96a7e7" />
<rect x="514.37" y="214.66" width="1.66" height="22.14" fill="#bac5ef" />
<rect x="515.68" y="214.66" width="1.66" height="22.14" fill="#d2d9f4" />
<rect x="517.00" y="214.66" width="1.66" height="22.14" fill="#6f85de" />
<rect x="518.31" y="214.66" width="1.66" height="22.14" fill="#91a2e6" />
<rect x="519.63" y="214.66" width="1.66" height="22.14" fill="#6b82dd" />
<rect x="520.94" y="214.66" width="1.66" height="22.14" fill="#607adb" />
<rect x="522.26" y="214.66" width="1.66" height="22.14" fill="#f9dad7" />
<rect x="523.57" y="214.66" width="1.66" height="22.14" fill="#b2beed" />
<rect x="524.88" y="214.66" width="1.66" height="22.14" fill="#7087de" />
<rect x="526.20" y="214.66" width="1.66" height="22.14" fill="#b4c0ee" />
<rect x="527.51" y="214.66" width="1.66" height="22.14" fill="#97a7e7" />
<rect x="528.83" y="214.66" width="1.66" height="22.14" fill="#b0bced" />
<rect x="530.14" y="214.66" width="1.66" height="22.14" fill="#7188de" />
<rect x="531.46" y="214.66" width="1.66" height="22.14" fill="#4260d4" />
<rect x="532.77" y="214.66" width="1.66" height="22.14" fill="#4260d4" />
<rect x="534.09" y="214.66" width="1.66" height="22.14" fill="#879ae3" />
<rect x="371.10" y="9.60" width="120.10" height="5.90" fill="#4a72d6" />
<rect x="491.20" y="9.60" width="44.20" height="5.90" fill="#e4392a" />
<text x="538.40" y="14.90" font-size="5.5" text-anchor="start" fill="#222" font-family='"Liberation Sans", sans-serif' font-weight="normal" >group</text>
<text x="538.40" y="31.52" font-size="5.5" text-anchor="start" fill="#222" font-family='"Liberation Sans", sans-serif' font-weight="normal" >PPAN</text>
<text x="538.40" y="53.36" font-size="5.5" text-anchor="start" fill="#222" font-family='"Liberation Sans", sans-serif' font-weight="normal" >BYSL</text>
<text x="538.40" y="75.20" font-size="5.5" text-anchor="start" fill="#222" font-family='"Liberation Sans", sans-serif' font-weight="normal" >ISG20</text>
<text x="538.40" y="97.04" font-size="5.5" text-anchor="start" fill="#222" font-family='"Liberation Sans", sans-serif' font-weight="normal" >MPHOSPH6</text>
<text x="538.40" y="118.88" font-size="5.5" text-anchor="start" fill="#222" font-family='"Liberation Sans", sans-serif' font-weight="normal" >ERI1</text>
<text x="538.40" y="140.72" font-size="5.5" text-anchor="start" fill="#222" font-family='"Liberation Sans", sans-serif' font-weight="normal" >ISG20L2</text>
<text x="538.40" y="162.56" font-size="5.5" text-anchor="start" fill="#222" font-family='"Liberation Sans", sans-serif' font-weight="normal" >WDR12</text>
<text x="538.40" y="184.40" font-size="5.5" text-anchor="start" fill="#222" font-family='"Liberation Sans", sans-serif' font-weight="normal" >RPP40</text>
<text x="538.40" y="206.24" font-size="5.5" text-anchor="start" fill="#222" font-family='"Liberation Sans", sans-serif' font-weight="normal" >HEATR3</text>
<text x="538.40" y="228.08" font-size="5.5" text-anchor="start" fill="#222" font-family='"Liberation Sans", sans-serif' font-weight="normal" >EXOSC3</text>
<line x1="356.10" y1="29.40" x2="370.00" y2="29.40" stroke="#505050" stroke-width="0.75" />
<line x1="356.10" y1="51.50" x2="370.00" y2="51.50" stroke="#505050" stroke-width="0.75" />
<line x1="356.10" y1="29.40" x2="356.10" y2="51.50" stroke="#505050" stroke-width="0.75" />
<line x1="350.90" y1="40.40" x2="356.10" y2="40.40" stroke="#505050" stroke-width="0.75" />
<line x1="350.90" y1="40.40" x2="350.90" y2="98.40" stroke="#505050" stroke-width="0.75" />
<line x1="352.20" y1="73.50" x2="370.00" y2="73.50" stroke="#505050" stroke-width="0.75" />
<line x1="352.20" y1="73.50" x2="352.20" y2="150.00" stroke="#505050" stroke-width="0.75" />
<line x1="350.90" y1="98.40" x2="352.20" y2="98.40" stroke="#505050" stroke-width="0.75" />
<line x1="353.10" y1="95.40" x2="370.00" y2="95.40" stroke="#505050" stroke-width="0.75" />
<line x1="353.10" y1="117.20" x2="370.00" y2="117.20" stroke="#505050" stroke-width="0.75" />
<line x1="353.10" y1="95.40" x2="353.10" y2="125.00" stroke="#505050" stroke-width="0.75" />
<line x1="357.50" y1="138.40" x2="370.00" y2="138.40" stroke="#505050" stroke-width="0.75" />
<line x1="357.50" y1="138.40" x2="357.50" y2="171.00" stroke="#505050" stroke-width="0.75" />
<line x1="358.10" y1="160.40" x2="370.00" y2="160.40" stroke="#505050" stroke-width="0.75" />
<line x1="358.10" y1="182.30" x2="370.00" y2="182.30" stroke="#505050" stroke-width="0.75" />
<line x1="358.10" y1="160.40" x2="358.10" y2="182.30" stroke="#505050" stroke-width="0.75" />
<line x1="356.50" y1="204.30" x2="370.00" y2="204.30" stroke="#505050" stroke-width="0.75" />
<line x1="356.50" y1="226.20" x2="370.00" y2="226.20" stroke="#505050" stroke-width="0.75" />
<line x1="356.50" y1="204.30" x2="356.50" y2="226.20" stroke="#505050" stroke-width="0.75" />
<line x1="356.10" y1="185.00" x2="356.10" y2="215.00" stroke="#505050" stroke-width="0.75" />
<line x1="353.90" y1="185.30" x2="356.10" y2="185.30" stroke="#505050" stroke-width="0.75" />
<line x1="353.90" y1="150.00" x2="357.50" y2="150.00" stroke="#505050" stroke-width="0.75" />
<line x1="353.90" y1="120.00" x2="353.90" y2="151.00" stroke="#555" stroke-width="0.8" />
<line x1="354.00" y1="151.00" x2="354.00" y2="185.30" stroke="#9a9a9a" stroke-width="1.5" />
<line x1="357.00" y1="155.00" x2="357.00" y2="171.00" stroke="#444" stroke-width="1.0" />
<text x="577.80" y="87.00" font-size="5.5" text-anchor="start" fill="#222" font-family='"Liberation Sans", sans-serif' font-weight="normal" >group</text>
<rect x="577.90" y="92.50" width="8.20" height="7.30" fill="#4a72d6" />
<rect x="577.90" y="101.20" width="8.20" height="7.60" fill="#e4392a" />
<text x="589.00" y="98.40" font-size="4.6" text-anchor="start" fill="#222" font-family='"Liberation Sans", sans-serif' font-weight="normal" >cluster1</text>
<text x="589.00" y="106.80" font-size="4.6" text-anchor="start" fill="#222" font-family='"Liberation Sans", sans-serif' font-weight="normal" >cluster2</text>
<defs><linearGradient id="gB" x1="0" y1="0" x2="0" y2="1"><stop offset="0" stop-color="#df3d2a"/><stop offset="0.5" stop-color="#ffffff"/><stop offset="1" stop-color="#3f5fd2"/></linearGradient></defs>
<rect x="577.40" y="119.80" width="8.60" height="53.30" fill="url(#gB)" />
<line x1="577.40" y1="122.30" x2="579.20" y2="122.30" stroke="#fff" stroke-width="0.6" />
<line x1="584.20" y1="122.30" x2="586.00" y2="122.30" stroke="#fff" stroke-width="0.6" />
<text x="588.30" y="124.20" font-size="5.0" text-anchor="start" fill="#222" font-family='"Liberation Sans", sans-serif' font-weight="normal" >2</text>
<line x1="577.40" y1="134.50" x2="579.20" y2="134.50" stroke="#fff" stroke-width="0.6" />
<line x1="584.20" y1="134.50" x2="586.00" y2="134.50" stroke="#fff" stroke-width="0.6" />
<text x="588.30" y="136.40" font-size="5.0" text-anchor="start" fill="#222" font-family='"Liberation Sans", sans-serif' font-weight="normal" >1</text>
<line x1="577.40" y1="146.60" x2="579.20" y2="146.60" stroke="#fff" stroke-width="0.6" />
<line x1="584.20" y1="146.60" x2="586.00" y2="146.60" stroke="#fff" stroke-width="0.6" />
<text x="588.30" y="148.50" font-size="5.0" text-anchor="start" fill="#222" font-family='"Liberation Sans", sans-serif' font-weight="normal" >0</text>
<line x1="577.40" y1="158.70" x2="579.20" y2="158.70" stroke="#fff" stroke-width="0.6" />
<line x1="584.20" y1="158.70" x2="586.00" y2="158.70" stroke="#fff" stroke-width="0.6" />
<text x="588.30" y="160.60" font-size="5.0" text-anchor="start" fill="#222" font-family='"Liberation Sans", sans-serif' font-weight="normal" >-1</text>
<line x1="577.40" y1="170.90" x2="579.20" y2="170.90" stroke="#fff" stroke-width="0.6" />
<line x1="584.20" y1="170.90" x2="586.00" y2="170.90" stroke="#fff" stroke-width="0.6" />
<text x="588.30" y="172.80" font-size="5.0" text-anchor="start" fill="#222" font-family='"Liberation Sans", sans-serif' font-weight="normal" >-2</text>
<path d="M120.45,484.40 L122.71,484.40 L122.75,482.50 L122.79,480.60 L122.83,478.70 L122.87,476.81 L122.90,474.91 L122.93,473.01 L122.96,471.11 L122.98,469.21 L123.00,467.31 L123.02,465.41 L123.03,463.51 L123.04,461.62 L123.05,459.72 L123.05,457.82 L123.05,455.92 L123.03,454.02 L123.01,452.12 L122.97,450.22 L122.92,448.32 L122.86,446.43 L122.80,444.53 L122.72,442.63 L122.64,440.73 L122.55,438.83 L122.46,436.93 L122.36,435.03 L122.26,433.13 L122.15,431.24 L122.05,429.34 L121.94,427.44 L121.84,425.54 L121.74,423.64 L121.64,421.74 L121.54,419.84 L121.45,417.94 L121.36,416.05 L121.27,414.15 L121.19,412.25 L121.11,410.35 L121.04,408.45 L120.98,406.55 L120.92,404.65 L120.86,402.75 L120.81,400.86 L120.77,398.96 L120.73,397.06 L120.69,395.16 L120.66,393.26 L120.63,391.36 L120.63,389.46 L120.63,387.56 L120.63,385.67 L120.63,383.77 L120.63,381.87 L120.63,379.97 L120.63,378.07 L120.63,376.17 L120.63,374.27 L120.63,372.37 L120.45,370.48 L120.45,370.48 L120.27,372.37 L120.27,374.27 L120.27,376.17 L120.27,378.07 L120.27,379.97 L120.27,381.87 L120.27,383.77 L120.27,385.67 L120.27,387.56 L120.27,389.46 L120.27,391.36 L120.24,393.26 L120.21,395.16 L120.17,397.06 L120.13,398.96 L120.09,400.86 L120.04,402.75 L119.98,404.65 L119.92,406.55 L119.86,408.45 L119.79,410.35 L119.71,412.25 L119.63,414.15 L119.54,416.05 L119.45,417.94 L119.36,419.84 L119.26,421.74 L119.16,423.64 L119.06,425.54 L118.96,427.44 L118.85,429.34 L118.75,431.24 L118.64,433.13 L118.54,435.03 L118.44,436.93 L118.35,438.83 L118.26,440.73 L118.18,442.63 L118.10,444.53 L118.04,446.43 L117.98,448.32 L117.93,450.22 L117.89,452.12 L117.87,454.02 L117.85,455.92 L117.85,457.82 L117.85,459.72 L117.86,461.62 L117.87,463.51 L117.88,465.41 L117.90,467.31 L117.92,469.21 L117.94,471.11 L117.97,473.01 L118.00,474.91 L118.03,476.81 L118.07,478.70 L118.11,480.60 L118.15,482.50 L118.19,484.40 Z" fill="#2b78b9" stroke="#000" stroke-width="0.95" stroke-linejoin="round"/>
<line x1="120.45" y1="484.40" x2="120.45" y2="370.48" stroke="#000" stroke-width="0.8" />
<circle cx="120.45" cy="454.42" r="1.9" fill="#fff"/>
<path d="M127.65,484.40 L129.64,484.40 L129.68,482.91 L129.73,481.42 L129.78,479.93 L129.82,478.44 L129.86,476.95 L129.90,475.47 L129.94,473.98 L129.98,472.49 L130.01,471.00 L130.05,469.51 L130.08,468.02 L130.11,466.53 L130.13,465.04 L130.16,463.55 L130.18,462.06 L130.20,460.58 L130.21,459.09 L130.23,457.60 L130.24,456.11 L130.24,454.62 L130.25,453.13 L130.25,451.64 L130.25,450.15 L130.23,448.66 L130.21,447.17 L130.18,445.69 L130.13,444.20 L130.08,442.71 L130.03,441.22 L129.96,439.73 L129.89,438.24 L129.81,436.75 L129.72,435.26 L129.63,433.77 L129.54,432.28 L129.45,430.80 L129.35,429.31 L129.25,427.82 L129.15,426.33 L129.06,424.84 L128.96,423.35 L128.87,421.86 L128.77,420.37 L128.69,418.88 L128.60,417.39 L128.52,415.91 L128.44,414.42 L128.37,412.93 L128.30,411.44 L128.23,409.95 L128.17,408.46 L128.12,406.97 L128.07,405.48 L128.02,403.99 L127.97,402.50 L127.94,401.02 L127.90,399.53 L127.87,398.04 L127.84,396.55 L127.65,395.06 L127.65,395.06 L127.46,396.55 L127.43,398.04 L127.40,399.53 L127.36,401.02 L127.33,402.50 L127.28,403.99 L127.23,405.48 L127.18,406.97 L127.13,408.46 L127.07,409.95 L127.00,411.44 L126.93,412.93 L126.86,414.42 L126.78,415.91 L126.70,417.39 L126.61,418.88 L126.53,420.37 L126.43,421.86 L126.34,423.35 L126.24,424.84 L126.15,426.33 L126.05,427.82 L125.95,429.31 L125.85,430.80 L125.76,432.28 L125.67,433.77 L125.58,435.26 L125.49,436.75 L125.41,438.24 L125.34,439.73 L125.27,441.22 L125.22,442.71 L125.17,444.20 L125.12,445.69 L125.09,447.17 L125.07,448.66 L125.05,450.15 L125.05,451.64 L125.05,453.13 L125.06,454.62 L125.06,456.11 L125.07,457.60 L125.09,459.09 L125.10,460.58 L125.12,462.06 L125.14,463.55 L125.17,465.04 L125.19,466.53 L125.22,468.02 L125.25,469.51 L125.29,471.00 L125.32,472.49 L125.36,473.98 L125.40,475.47 L125.44,476.95 L125.48,478.44 L125.52,479.93 L125.57,481.42 L125.62,482.91 L125.66,484.40 Z" fill="#dc1a1f" stroke="#000" stroke-width="0.95" stroke-linejoin="round"/>
<line x1="127.65" y1="484.40" x2="127.65" y2="395.06" stroke="#000" stroke-width="0.8" />
<circle cx="127.65" cy="455.02" r="1.9" fill="#fff"/>
<line x1="121.75" y1="369.90" x2="126.85" y2="369.90" stroke="#111" stroke-width="0.9" />
<text x="124.10" y="365.85" font-size="6.0" text-anchor="middle" fill="#111" stroke="#111" stroke-width="0.14" font-family='"Liberation Sans", sans-serif' font-weight="normal" >p=0.939</text>
<path d="M142.19,484.40 L144.79,484.40 L144.59,484.16 L144.08,483.92 L143.46,483.68 L142.91,483.44 L142.54,483.20 L142.37,482.96 L142.37,482.72 L142.37,482.48 L142.37,482.24 L142.37,482.00 L142.37,481.76 L142.37,481.52 L142.37,481.28 L142.37,481.04 L142.37,480.80 L142.37,480.56 L142.37,480.32 L142.37,480.08 L142.37,479.84 L142.37,479.60 L142.37,479.36 L142.37,479.12 L142.37,478.88 L142.37,478.64 L142.37,478.40 L142.37,478.16 L142.37,477.92 L142.37,477.68 L142.37,477.44 L142.37,477.20 L142.37,476.96 L142.37,476.73 L142.37,476.49 L142.37,476.25 L142.37,476.01 L142.37,475.77 L142.37,475.53 L142.37,475.29 L142.37,475.05 L142.37,474.81 L142.37,474.57 L142.37,474.33 L142.37,474.09 L142.37,473.85 L142.37,473.61 L142.37,473.37 L142.37,473.13 L142.37,472.89 L142.37,472.65 L142.37,472.41 L142.37,472.17 L142.37,471.93 L142.37,471.69 L142.37,471.45 L142.37,471.21 L142.37,470.97 L142.37,470.73 L142.37,470.49 L142.37,470.25 L142.19,470.01 L142.19,470.01 L142.01,470.25 L142.01,470.49 L142.01,470.73 L142.01,470.97 L142.01,471.21 L142.01,471.45 L142.01,471.69 L142.01,471.93 L142.01,472.17 L142.01,472.41 L142.01,472.65 L142.01,472.89 L142.01,473.13 L142.01,473.37 L142.01,473.61 L142.01,473.85 L142.01,474.09 L142.01,474.33 L142.01,474.57 L142.01,474.81 L142.01,475.05 L142.01,475.29 L142.01,475.53 L142.01,475.77 L142.01,476.01 L142.01,476.25 L142.01,476.49 L142.01,476.73 L142.01,476.96 L142.01,477.20 L142.01,477.44 L142.01,477.68 L142.01,477.92 L142.01,478.16 L142.01,478.40 L142.01,478.64 L142.01,478.88 L142.01,479.12 L142.01,479.36 L142.01,479.60 L142.01,479.84 L142.01,480.08 L142.01,480.32 L142.01,480.56 L142.01,480.80 L142.01,481.04 L142.01,481.28 L142.01,481.52 L142.01,481.76 L142.01,482.00 L142.01,482.24 L142.01,482.48 L142.01,482.72 L142.01,482.96 L141.84,483.20 L141.47,483.44 L140.92,483.68 L140.30,483.92 L139.79,484.16 L139.59,484.40 Z" fill="#2b78b9" stroke="#000" stroke-width="0.95" stroke-linejoin="round"/>
<line x1="142.19" y1="484.40" x2="142.19" y2="470.01" stroke="#000" stroke-width="0.8" />
<circle cx="142.19" cy="484.40" r="1.9" fill="#fff"/>
<path d="M149.39,484.40 L151.99,484.40 L151.95,484.30 L151.85,484.20 L151.68,484.10 L151.47,484.00 L151.23,483.90 L150.97,483.80 L150.71,483.70 L150.46,483.60 L150.23,483.50 L150.04,483.40 L149.87,483.30 L149.74,483.20 L149.64,483.10 L149.57,483.00 L149.57,482.90 L149.57,482.80 L149.57,482.70 L149.57,482.60 L149.57,482.50 L149.57,482.40 L149.57,482.30 L149.57,482.20 L149.57,482.10 L149.57,482.00 L149.57,481.90 L149.57,481.80 L149.57,481.70 L149.57,481.60 L149.57,481.50 L149.57,481.40 L149.57,481.30 L149.57,481.20 L149.57,481.10 L149.57,481.00 L149.57,480.90 L149.57,480.80 L149.57,480.70 L149.57,480.60 L149.57,480.50 L149.57,480.40 L149.57,480.30 L149.57,480.20 L149.57,480.10 L149.57,480.00 L149.57,479.90 L149.57,479.80 L149.57,479.70 L149.57,479.60 L149.57,479.50 L149.57,479.40 L149.57,479.30 L149.57,479.20 L149.57,479.10 L149.57,479.00 L149.57,478.90 L149.57,478.80 L149.57,478.70 L149.57,478.60 L149.57,478.50 L149.39,478.40 L149.39,478.40 L149.21,478.50 L149.21,478.60 L149.21,478.70 L149.21,478.80 L149.21,478.90 L149.21,479.00 L149.21,479.10 L149.21,479.20 L149.21,479.30 L149.21,479.40 L149.21,479.50 L149.21,479.60 L149.21,479.70 L149.21,479.80 L149.21,479.90 L149.21,480.00 L149.21,480.10 L149.21,480.20 L149.21,480.30 L149.21,480.40 L149.21,480.50 L149.21,480.60 L149.21,480.70 L149.21,480.80 L149.21,480.90 L149.21,481.00 L149.21,481.10 L149.21,481.20 L149.21,481.30 L149.21,481.40 L149.21,481.50 L149.21,481.60 L149.21,481.70 L149.21,481.80 L149.21,481.90 L149.21,482.00 L149.21,482.10 L149.21,482.20 L149.21,482.30 L149.21,482.40 L149.21,482.50 L149.21,482.60 L149.21,482.70 L149.21,482.80 L149.21,482.90 L149.21,483.00 L149.14,483.10 L149.04,483.20 L148.91,483.30 L148.74,483.40 L148.55,483.50 L148.32,483.60 L148.07,483.70 L147.81,483.80 L147.55,483.90 L147.31,484.00 L147.10,484.10 L146.93,484.20 L146.83,484.30 L146.79,484.40 Z" fill="#dc1a1f" stroke="#000" stroke-width="0.95" stroke-linejoin="round"/>
<line x1="149.39" y1="484.40" x2="149.39" y2="478.40" stroke="#000" stroke-width="0.8" />
<circle cx="149.39" cy="484.40" r="1.9" fill="#fff"/>
<line x1="143.49" y1="469.50" x2="148.59" y2="469.50" stroke="#111" stroke-width="0.9" />
<text x="145.80" y="465.85" font-size="6.0" text-anchor="middle" fill="#111" stroke="#111" stroke-width="0.14" font-family='"Liberation Sans", sans-serif' font-weight="normal" >p=0.564</text>
<path d="M163.93,484.40 L166.53,484.40 L166.36,484.18 L165.92,483.96 L165.35,483.74 L164.82,483.52 L164.41,483.30 L164.16,483.08 L164.11,482.86 L164.11,482.64 L164.11,482.42 L164.11,482.20 L164.11,481.98 L164.11,481.76 L164.11,481.54 L164.11,481.32 L164.11,481.10 L164.11,480.88 L164.11,480.66 L164.11,480.44 L164.11,480.22 L164.11,480.00 L164.11,479.78 L164.11,479.56 L164.11,479.34 L164.11,479.12 L164.11,478.90 L164.11,478.68 L164.11,478.46 L164.11,478.24 L164.11,478.02 L164.11,477.80 L164.11,477.58 L164.11,477.36 L164.11,477.14 L164.11,476.92 L164.11,476.71 L164.11,476.49 L164.11,476.27 L164.11,476.05 L164.11,475.83 L164.11,475.61 L164.11,475.39 L164.11,475.17 L164.11,474.95 L164.11,474.73 L164.11,474.51 L164.11,474.29 L164.11,474.07 L164.11,473.85 L164.11,473.63 L164.11,473.41 L164.11,473.19 L164.11,472.97 L164.11,472.75 L164.11,472.53 L164.11,472.31 L164.11,472.09 L164.11,471.87 L164.11,471.65 L164.11,471.43 L163.93,471.21 L163.93,471.21 L163.75,471.43 L163.75,471.65 L163.75,471.87 L163.75,472.09 L163.75,472.31 L163.75,472.53 L163.75,472.75 L163.75,472.97 L163.75,473.19 L163.75,473.41 L163.75,473.63 L163.75,473.85 L163.75,474.07 L163.75,474.29 L163.75,474.51 L163.75,474.73 L163.75,474.95 L163.75,475.17 L163.75,475.39 L163.75,475.61 L163.75,475.83 L163.75,476.05 L163.75,476.27 L163.75,476.49 L163.75,476.71 L163.75,476.92 L163.75,477.14 L163.75,477.36 L163.75,477.58 L163.75,477.80 L163.75,478.02 L163.75,478.24 L163.75,478.46 L163.75,478.68 L163.75,478.90 L163.75,479.12 L163.75,479.34 L163.75,479.56 L163.75,479.78 L163.75,480.00 L163.75,480.22 L163.75,480.44 L163.75,480.66 L163.75,480.88 L163.75,481.10 L163.75,481.32 L163.75,481.54 L163.75,481.76 L163.75,481.98 L163.75,482.20 L163.75,482.42 L163.75,482.64 L163.75,482.86 L163.70,483.08 L163.45,483.30 L163.04,483.52 L162.51,483.74 L161.94,483.96 L161.50,484.18 L161.33,484.40 Z" fill="#2b78b9" stroke="#000" stroke-width="0.95" stroke-linejoin="round"/>
<line x1="163.93" y1="484.40" x2="163.93" y2="471.21" stroke="#000" stroke-width="0.8" />
<circle cx="163.93" cy="484.40" r="1.9" fill="#fff"/>
<line x1="168.23" y1="484.40" x2="174.03" y2="484.40" stroke="#000" stroke-width="1.0" />
<circle cx="171.13" cy="484.40" r="1.9" fill="#fff"/>
<line x1="165.23" y1="471.00" x2="170.33" y2="471.00" stroke="#111" stroke-width="0.9" />
<text x="170.50" y="466.85" font-size="6.0" text-anchor="middle" fill="#111" stroke="#111" stroke-width="0.14" font-family='"Liberation Sans", sans-serif' font-weight="normal" >p=0.867</text>
<path d="M185.67,484.40 L188.27,484.40 L188.27,483.88 L188.26,483.35 L188.25,482.83 L188.24,482.30 L188.22,481.78 L188.20,481.25 L188.18,480.73 L188.15,480.20 L188.12,479.68 L188.09,479.15 L188.05,478.63 L188.01,478.10 L187.97,477.58 L187.93,477.05 L187.88,476.53 L187.83,476.01 L187.78,475.48 L187.73,474.96 L187.67,474.43 L187.62,473.91 L187.56,473.38 L187.50,472.86 L187.44,472.33 L187.38,471.81 L187.32,471.28 L187.26,470.76 L187.20,470.23 L187.14,469.71 L187.08,469.19 L187.03,468.66 L186.97,468.14 L186.91,467.61 L186.85,467.09 L186.80,466.56 L186.74,466.04 L186.69,465.51 L186.64,464.99 L186.58,464.46 L186.53,463.94 L186.49,463.41 L186.44,462.89 L186.40,462.36 L186.35,461.84 L186.31,461.32 L186.27,460.79 L186.23,460.27 L186.20,459.74 L186.16,459.22 L186.13,458.69 L186.10,458.17 L186.07,457.64 L186.04,457.12 L186.01,456.59 L185.99,456.07 L185.96,455.54 L185.94,455.02 L185.92,454.49 L185.90,453.97 L185.88,453.45 L185.67,452.92 L185.67,452.92 L185.46,453.45 L185.44,453.97 L185.42,454.49 L185.40,455.02 L185.38,455.54 L185.35,456.07 L185.33,456.59 L185.30,457.12 L185.27,457.64 L185.24,458.17 L185.21,458.69 L185.18,459.22 L185.14,459.74 L185.11,460.27 L185.07,460.79 L185.03,461.32 L184.99,461.84 L184.94,462.36 L184.90,462.89 L184.85,463.41 L184.81,463.94 L184.76,464.46 L184.70,464.99 L184.65,465.51 L184.60,466.04 L184.54,466.56 L184.49,467.09 L184.43,467.61 L184.37,468.14 L184.31,468.66 L184.26,469.19 L184.20,469.71 L184.14,470.23 L184.08,470.76 L184.02,471.28 L183.96,471.81 L183.90,472.33 L183.84,472.86 L183.78,473.38 L183.72,473.91 L183.67,474.43 L183.61,474.96 L183.56,475.48 L183.51,476.01 L183.46,476.53 L183.41,477.05 L183.37,477.58 L183.33,478.10 L183.29,478.63 L183.25,479.15 L183.22,479.68 L183.19,480.20 L183.16,480.73 L183.14,481.25 L183.12,481.78 L183.10,482.30 L183.09,482.83 L183.08,483.35 L183.07,483.88 L183.07,484.40 Z" fill="#2b78b9" stroke="#000" stroke-width="0.95" stroke-linejoin="round"/>
<line x1="185.67" y1="484.40" x2="185.67" y2="452.92" stroke="#000" stroke-width="0.8" />
<circle cx="185.67" cy="480.20" r="1.9" fill="#fff"/>
<path d="M192.87,484.40 L195.01,484.40 L195.07,483.32 L195.12,482.24 L195.18,481.16 L195.22,480.08 L195.27,479.00 L195.31,477.92 L195.35,476.85 L195.38,475.77 L195.41,474.69 L195.43,473.61 L195.45,472.53 L195.46,471.45 L195.47,470.37 L195.47,469.29 L195.47,468.21 L195.46,467.13 L195.44,466.05 L195.42,464.97 L195.40,463.89 L195.37,462.81 L195.33,461.74 L195.29,460.66 L195.24,459.58 L195.20,458.50 L195.14,457.42 L195.08,456.34 L195.02,455.26 L194.96,454.18 L194.90,453.10 L194.83,452.02 L194.76,450.94 L194.69,449.86 L194.61,448.78 L194.54,447.70 L194.47,446.63 L194.39,445.55 L194.32,444.47 L194.25,443.39 L194.18,442.31 L194.10,441.23 L194.03,440.15 L193.97,439.07 L193.90,437.99 L193.84,436.91 L193.77,435.83 L193.71,434.75 L193.65,433.67 L193.60,432.59 L193.55,431.52 L193.50,430.44 L193.45,429.36 L193.40,428.28 L193.36,427.20 L193.32,426.12 L193.28,425.04 L193.24,423.96 L193.21,422.88 L193.18,421.80 L193.15,420.72 L192.87,419.64 L192.87,419.64 L192.59,420.72 L192.56,421.80 L192.53,422.88 L192.50,423.96 L192.46,425.04 L192.42,426.12 L192.38,427.20 L192.34,428.28 L192.29,429.36 L192.24,430.44 L192.19,431.52 L192.14,432.59 L192.09,433.67 L192.03,434.75 L191.97,435.83 L191.90,436.91 L191.84,437.99 L191.77,439.07 L191.71,440.15 L191.64,441.23 L191.56,442.31 L191.49,443.39 L191.42,444.47 L191.35,445.55 L191.27,446.63 L191.20,447.70 L191.13,448.78 L191.05,449.86 L190.98,450.94 L190.91,452.02 L190.84,453.10 L190.78,454.18 L190.72,455.26 L190.66,456.34 L190.60,457.42 L190.54,458.50 L190.50,459.58 L190.45,460.66 L190.41,461.74 L190.37,462.81 L190.34,463.89 L190.32,464.97 L190.30,466.05 L190.28,467.13 L190.27,468.21 L190.27,469.29 L190.27,470.37 L190.28,471.45 L190.29,472.53 L190.31,473.61 L190.33,474.69 L190.36,475.77 L190.39,476.85 L190.43,477.92 L190.47,479.00 L190.52,480.08 L190.56,481.16 L190.62,482.24 L190.67,483.32 L190.73,484.40 Z" fill="#dc1a1f" stroke="#000" stroke-width="0.95" stroke-linejoin="round"/>
<line x1="192.87" y1="484.40" x2="192.87" y2="419.64" stroke="#000" stroke-width="0.8" />
<circle cx="192.87" cy="473.01" r="1.9" fill="#fff"/>
<line x1="186.97" y1="419.60" x2="192.07" y2="419.60" stroke="#111" stroke-width="0.9" />
<text x="189.10" y="415.95" font-size="6.0" text-anchor="middle" fill="#111" stroke="#111" stroke-width="0.14" font-family='"Liberation Sans", sans-serif' font-weight="normal" >p=0.016</text>
<path d="M207.41,484.40 L210.01,484.40 L209.98,483.56 L209.89,482.72 L209.74,481.88 L209.55,481.04 L209.33,480.20 L209.09,479.36 L208.85,478.52 L208.61,477.68 L208.39,476.85 L208.19,476.01 L208.01,475.17 L207.87,474.33 L207.75,473.49 L207.65,472.65 L207.59,471.81 L207.59,470.97 L207.59,470.13 L207.59,469.29 L207.59,468.45 L207.59,467.61 L207.59,466.77 L207.59,465.93 L207.59,465.09 L207.59,464.25 L207.59,463.41 L207.59,462.57 L207.59,461.74 L207.59,460.90 L207.59,460.06 L207.59,459.22 L207.59,458.38 L207.59,457.54 L207.59,456.70 L207.59,455.86 L207.59,455.02 L207.59,454.18 L207.59,453.34 L207.59,452.50 L207.59,451.66 L207.59,450.82 L207.59,449.98 L207.59,449.14 L207.59,448.30 L207.59,447.46 L207.59,446.63 L207.59,445.79 L207.59,444.95 L207.59,444.11 L207.59,443.27 L207.59,442.43 L207.59,441.59 L207.59,440.75 L207.59,439.91 L207.59,439.07 L207.59,438.23 L207.59,437.39 L207.59,436.55 L207.59,435.71 L207.59,434.87 L207.41,434.03 L207.41,434.03 L207.23,434.87 L207.23,435.71 L207.23,436.55 L207.23,437.39 L207.23,438.23 L207.23,439.07 L207.23,439.91 L207.23,440.75 L207.23,441.59 L207.23,442.43 L207.23,443.27 L207.23,444.11 L207.23,444.95 L207.23,445.79 L207.23,446.63 L207.23,447.46 L207.23,448.30 L207.23,449.14 L207.23,449.98 L207.23,450.82 L207.23,451.66 L207.23,452.50 L207.23,453.34 L207.23,454.18 L207.23,455.02 L207.23,455.86 L207.23,456.70 L207.23,457.54 L207.23,458.38 L207.23,459.22 L207.23,460.06 L207.23,460.90 L207.23,461.74 L207.23,462.57 L207.23,463.41 L207.23,464.25 L207.23,465.09 L207.23,465.93 L207.23,466.77 L207.23,467.61 L207.23,468.45 L207.23,469.29 L207.23,470.13 L207.23,470.97 L207.23,471.81 L207.17,472.65 L207.07,473.49 L206.95,474.33 L206.81,475.17 L206.63,476.01 L206.43,476.85 L206.21,477.68 L205.97,478.52 L205.73,479.36 L205.49,480.20 L205.27,481.04 L205.08,481.88 L204.93,482.72 L204.84,483.56 L204.81,484.40 Z" fill="#2b78b9" stroke="#000" stroke-width="0.95" stroke-linejoin="round"/>
<line x1="207.41" y1="484.40" x2="207.41" y2="434.03" stroke="#000" stroke-width="0.8" />
<circle cx="207.41" cy="484.40" r="1.9" fill="#fff"/>
<path d="M214.61,484.40 L217.21,484.40 L217.19,483.51 L217.12,482.61 L217.00,481.72 L216.85,480.82 L216.68,479.93 L216.48,479.03 L216.27,478.14 L216.05,477.24 L215.84,476.35 L215.65,475.46 L215.46,474.56 L215.30,473.67 L215.16,472.77 L215.04,471.88 L214.94,470.98 L214.86,470.09 L214.79,469.20 L214.79,468.30 L214.79,467.41 L214.79,466.51 L214.79,465.62 L214.79,464.72 L214.79,463.83 L214.79,462.93 L214.79,462.04 L214.79,461.15 L214.79,460.25 L214.79,459.36 L214.79,458.46 L214.79,457.57 L214.79,456.67 L214.79,455.78 L214.79,454.88 L214.79,453.99 L214.79,453.10 L214.79,452.20 L214.79,451.31 L214.79,450.41 L214.79,449.52 L214.79,448.62 L214.79,447.73 L214.79,446.84 L214.79,445.94 L214.79,445.05 L214.79,444.15 L214.79,443.26 L214.79,442.36 L214.79,441.47 L214.79,440.57 L214.79,439.68 L214.79,438.79 L214.79,437.89 L214.79,437.00 L214.79,436.10 L214.79,435.21 L214.79,434.31 L214.79,433.42 L214.79,432.52 L214.79,431.63 L214.61,430.74 L214.61,430.74 L214.43,431.63 L214.43,432.52 L214.43,433.42 L214.43,434.31 L214.43,435.21 L214.43,436.10 L214.43,437.00 L214.43,437.89 L214.43,438.79 L214.43,439.68 L214.43,440.57 L214.43,441.47 L214.43,442.36 L214.43,443.26 L214.43,444.15 L214.43,445.05 L214.43,445.94 L214.43,446.84 L214.43,447.73 L214.43,448.62 L214.43,449.52 L214.43,450.41 L214.43,451.31 L214.43,452.20 L214.43,453.10 L214.43,453.99 L214.43,454.88 L214.43,455.78 L214.43,456.67 L214.43,457.57 L214.43,458.46 L214.43,459.36 L214.43,460.25 L214.43,461.15 L214.43,462.04 L214.43,462.93 L214.43,463.83 L214.43,464.72 L214.43,465.62 L214.43,466.51 L214.43,467.41 L214.43,468.30 L214.43,469.20 L214.36,470.09 L214.28,470.98 L214.18,471.88 L214.06,472.77 L213.92,473.67 L213.76,474.56 L213.57,475.46 L213.38,476.35 L213.17,477.24 L212.95,478.14 L212.74,479.03 L212.54,479.93 L212.37,480.82 L212.22,481.72 L212.10,482.61 L212.03,483.51 L212.01,484.40 Z" fill="#dc1a1f" stroke="#000" stroke-width="0.95" stroke-linejoin="round"/>
<line x1="214.61" y1="484.40" x2="214.61" y2="430.74" stroke="#000" stroke-width="0.8" />
<circle cx="214.61" cy="484.40" r="1.9" fill="#fff"/>
<line x1="208.71" y1="430.50" x2="213.81" y2="430.50" stroke="#111" stroke-width="0.9" />
<text x="211.20" y="426.15" font-size="6.0" text-anchor="middle" fill="#111" stroke="#111" stroke-width="0.14" font-family='"Liberation Sans", sans-serif' font-weight="normal" >p=0.576</text>
<path d="M229.15,484.40 L231.70,484.40 L231.71,483.41 L231.71,482.41 L231.72,481.42 L231.73,480.42 L231.73,479.43 L231.74,478.43 L231.74,477.44 L231.74,476.45 L231.75,475.45 L231.75,474.46 L231.75,473.46 L231.75,472.47 L231.75,471.47 L231.74,470.48 L231.73,469.48 L231.72,468.49 L231.71,467.50 L231.69,466.50 L231.67,465.51 L231.64,464.51 L231.61,463.52 L231.58,462.52 L231.55,461.53 L231.51,460.54 L231.47,459.54 L231.43,458.55 L231.38,457.55 L231.34,456.56 L231.29,455.56 L231.24,454.57 L231.19,453.58 L231.13,452.58 L231.08,451.59 L231.03,450.59 L230.97,449.60 L230.91,448.60 L230.85,447.61 L230.80,446.62 L230.74,445.62 L230.68,444.63 L230.62,443.63 L230.56,442.64 L230.51,441.64 L230.45,440.65 L230.39,439.65 L230.34,438.66 L230.28,437.67 L230.23,436.67 L230.18,435.68 L230.13,434.68 L230.08,433.69 L230.03,432.69 L229.98,431.70 L229.94,430.71 L229.89,429.71 L229.85,428.72 L229.81,427.72 L229.77,426.73 L229.73,425.73 L229.15,424.74 L229.15,424.74 L228.57,425.73 L228.53,426.73 L228.49,427.72 L228.45,428.72 L228.41,429.71 L228.36,430.71 L228.32,431.70 L228.27,432.69 L228.22,433.69 L228.17,434.68 L228.12,435.68 L228.07,436.67 L228.02,437.67 L227.96,438.66 L227.91,439.65 L227.85,440.65 L227.79,441.64 L227.74,442.64 L227.68,443.63 L227.62,444.63 L227.56,445.62 L227.50,446.62 L227.45,447.61 L227.39,448.60 L227.33,449.60 L227.27,450.59 L227.22,451.59 L227.17,452.58 L227.11,453.58 L227.06,454.57 L227.01,455.56 L226.96,456.56 L226.92,457.55 L226.87,458.55 L226.83,459.54 L226.79,460.54 L226.75,461.53 L226.72,462.52 L226.69,463.52 L226.66,464.51 L226.63,465.51 L226.61,466.50 L226.59,467.50 L226.58,468.49 L226.57,469.48 L226.56,470.48 L226.55,471.47 L226.55,472.47 L226.55,473.46 L226.55,474.46 L226.55,475.45 L226.56,476.45 L226.56,477.44 L226.56,478.43 L226.57,479.43 L226.57,480.42 L226.58,481.42 L226.59,482.41 L226.59,483.41 L226.60,484.40 Z" fill="#2b78b9" stroke="#000" stroke-width="0.95" stroke-linejoin="round"/>
<line x1="229.15" y1="484.40" x2="229.15" y2="424.74" stroke="#000" stroke-width="0.8" />
<circle cx="229.15" cy="470.01" r="1.9" fill="#fff"/>
<path d="M236.35,484.40 L238.89,484.40 L238.89,483.43 L238.90,482.46 L238.91,481.49 L238.92,480.52 L238.92,479.55 L238.93,478.58 L238.93,477.61 L238.94,476.65 L238.94,475.68 L238.94,474.71 L238.95,473.74 L238.95,472.77 L238.95,471.80 L238.95,470.83 L238.95,469.86 L238.94,468.89 L238.93,467.92 L238.92,466.95 L238.90,465.98 L238.88,465.01 L238.86,464.04 L238.83,463.07 L238.80,462.10 L238.77,461.14 L238.73,460.17 L238.69,459.20 L238.65,458.23 L238.60,457.26 L238.56,456.29 L238.51,455.32 L238.46,454.35 L238.40,453.38 L238.35,452.41 L238.29,451.44 L238.24,450.47 L238.18,449.50 L238.12,448.53 L238.06,447.56 L238.00,446.60 L237.94,445.63 L237.88,444.66 L237.82,443.69 L237.76,442.72 L237.70,441.75 L237.64,440.78 L237.58,439.81 L237.53,438.84 L237.47,437.87 L237.42,436.90 L237.36,435.93 L237.31,434.96 L237.26,433.99 L237.21,433.02 L237.16,432.05 L237.12,431.09 L237.07,430.12 L237.03,429.15 L236.99,428.18 L236.95,427.21 L236.35,426.24 L236.35,426.24 L235.75,427.21 L235.71,428.18 L235.67,429.15 L235.63,430.12 L235.58,431.09 L235.54,432.05 L235.49,433.02 L235.44,433.99 L235.39,434.96 L235.34,435.93 L235.28,436.90 L235.23,437.87 L235.17,438.84 L235.12,439.81 L235.06,440.78 L235.00,441.75 L234.94,442.72 L234.88,443.69 L234.82,444.66 L234.76,445.63 L234.70,446.60 L234.64,447.56 L234.58,448.53 L234.52,449.50 L234.46,450.47 L234.41,451.44 L234.35,452.41 L234.30,453.38 L234.24,454.35 L234.19,455.32 L234.14,456.29 L234.10,457.26 L234.05,458.23 L234.01,459.20 L233.97,460.17 L233.93,461.14 L233.90,462.10 L233.87,463.07 L233.84,464.04 L233.82,465.01 L233.80,465.98 L233.78,466.95 L233.77,467.92 L233.76,468.89 L233.75,469.86 L233.75,470.83 L233.75,471.80 L233.75,472.77 L233.75,473.74 L233.76,474.71 L233.76,475.68 L233.76,476.65 L233.77,477.61 L233.77,478.58 L233.78,479.55 L233.78,480.52 L233.79,481.49 L233.80,482.46 L233.81,483.43 L233.81,484.40 Z" fill="#dc1a1f" stroke="#000" stroke-width="0.95" stroke-linejoin="round"/>
<line x1="236.35" y1="484.40" x2="236.35" y2="426.24" stroke="#000" stroke-width="0.8" />
<circle cx="236.35" cy="470.61" r="1.9" fill="#fff"/>
<line x1="230.45" y1="424.30" x2="235.55" y2="424.30" stroke="#111" stroke-width="0.9" />
<text x="232.90" y="420.25" font-size="6.0" text-anchor="middle" fill="#111" stroke="#111" stroke-width="0.14" font-family='"Liberation Sans", sans-serif' font-weight="normal" >p=0.788</text>
<path d="M250.89,484.40 L253.49,484.40 L253.45,483.03 L253.32,481.66 L253.13,480.29 L252.88,478.92 L252.60,477.55 L252.32,476.19 L252.04,474.82 L251.78,473.45 L251.56,472.08 L251.38,470.71 L251.24,469.34 L251.13,467.97 L251.07,466.60 L251.07,465.23 L251.07,463.86 L251.07,462.49 L251.07,461.13 L251.07,459.76 L251.07,458.39 L251.07,457.02 L251.07,455.65 L251.07,454.28 L251.07,452.91 L251.07,451.54 L251.07,450.17 L251.07,448.80 L251.07,447.43 L251.07,446.07 L251.07,444.70 L251.07,443.33 L251.07,441.96 L251.07,440.59 L251.07,439.22 L251.07,437.85 L251.07,436.48 L251.07,435.11 L251.07,433.74 L251.07,432.37 L251.07,431.01 L251.07,429.64 L251.07,428.27 L251.07,426.90 L251.07,425.53 L251.07,424.16 L251.07,422.79 L251.07,421.42 L251.07,420.05 L251.07,418.68 L251.07,417.31 L251.07,415.95 L251.07,414.58 L251.07,413.21 L251.07,411.84 L251.07,410.47 L251.07,409.10 L251.07,407.73 L251.07,406.36 L251.07,404.99 L251.07,403.62 L250.89,402.25 L250.89,402.25 L250.71,403.62 L250.71,404.99 L250.71,406.36 L250.71,407.73 L250.71,409.10 L250.71,410.47 L250.71,411.84 L250.71,413.21 L250.71,414.58 L250.71,415.95 L250.71,417.31 L250.71,418.68 L250.71,420.05 L250.71,421.42 L250.71,422.79 L250.71,424.16 L250.71,425.53 L250.71,426.90 L250.71,428.27 L250.71,429.64 L250.71,431.01 L250.71,432.37 L250.71,433.74 L250.71,435.11 L250.71,436.48 L250.71,437.85 L250.71,439.22 L250.71,440.59 L250.71,441.96 L250.71,443.33 L250.71,444.70 L250.71,446.07 L250.71,447.43 L250.71,448.80 L250.71,450.17 L250.71,451.54 L250.71,452.91 L250.71,454.28 L250.71,455.65 L250.71,457.02 L250.71,458.39 L250.71,459.76 L250.71,461.13 L250.71,462.49 L250.71,463.86 L250.71,465.23 L250.71,466.60 L250.65,467.97 L250.54,469.34 L250.40,470.71 L250.22,472.08 L250.00,473.45 L249.74,474.82 L249.46,476.19 L249.18,477.55 L248.90,478.92 L248.65,480.29 L248.46,481.66 L248.33,483.03 L248.29,484.40 Z" fill="#2b78b9" stroke="#000" stroke-width="0.95" stroke-linejoin="round"/>
<line x1="250.89" y1="484.40" x2="250.89" y2="402.25" stroke="#000" stroke-width="0.8" />
<circle cx="250.89" cy="484.40" r="1.9" fill="#fff"/>
<path d="M258.09,484.40 L260.69,484.40 L260.68,483.94 L260.65,483.48 L260.61,483.02 L260.54,482.56 L260.46,482.10 L260.37,481.64 L260.27,481.18 L260.15,480.72 L260.03,480.26 L259.90,479.80 L259.77,479.34 L259.63,478.88 L259.50,478.42 L259.37,477.96 L259.24,477.50 L259.12,477.04 L259.00,476.59 L258.89,476.13 L258.79,475.67 L258.70,475.21 L258.61,474.75 L258.54,474.29 L258.47,473.83 L258.41,473.37 L258.36,472.91 L258.31,472.45 L258.27,471.99 L258.27,471.53 L258.27,471.07 L258.27,470.61 L258.27,470.15 L258.27,469.69 L258.27,469.23 L258.27,468.77 L258.27,468.31 L258.27,467.85 L258.27,467.39 L258.27,466.93 L258.27,466.47 L258.27,466.01 L258.27,465.55 L258.27,465.09 L258.27,464.63 L258.27,464.17 L258.27,463.71 L258.27,463.25 L258.27,462.79 L258.27,462.33 L258.27,461.88 L258.27,461.42 L258.27,460.96 L258.27,460.50 L258.27,460.04 L258.27,459.58 L258.27,459.12 L258.27,458.66 L258.27,458.20 L258.27,457.74 L258.27,457.28 L258.09,456.82 L258.09,456.82 L257.91,457.28 L257.91,457.74 L257.91,458.20 L257.91,458.66 L257.91,459.12 L257.91,459.58 L257.91,460.04 L257.91,460.50 L257.91,460.96 L257.91,461.42 L257.91,461.88 L257.91,462.33 L257.91,462.79 L257.91,463.25 L257.91,463.71 L257.91,464.17 L257.91,464.63 L257.91,465.09 L257.91,465.55 L257.91,466.01 L257.91,466.47 L257.91,466.93 L257.91,467.39 L257.91,467.85 L257.91,468.31 L257.91,468.77 L257.91,469.23 L257.91,469.69 L257.91,470.15 L257.91,470.61 L257.91,471.07 L257.91,471.53 L257.91,471.99 L257.87,472.45 L257.82,472.91 L257.77,473.37 L257.71,473.83 L257.64,474.29 L257.57,474.75 L257.48,475.21 L257.39,475.67 L257.29,476.13 L257.18,476.59 L257.06,477.04 L256.94,477.50 L256.81,477.96 L256.68,478.42 L256.55,478.88 L256.41,479.34 L256.28,479.80 L256.15,480.26 L256.03,480.72 L255.91,481.18 L255.81,481.64 L255.72,482.10 L255.64,482.56 L255.57,483.02 L255.53,483.48 L255.50,483.94 L255.49,484.40 Z" fill="#dc1a1f" stroke="#000" stroke-width="0.95" stroke-linejoin="round"/>
<line x1="258.09" y1="484.40" x2="258.09" y2="456.82" stroke="#000" stroke-width="0.8" />
<circle cx="258.09" cy="484.40" r="1.9" fill="#fff"/>
<line x1="252.19" y1="401.70" x2="257.29" y2="401.70" stroke="#111" stroke-width="0.9" />
<text x="254.70" y="397.65" font-size="6.0" text-anchor="middle" fill="#111" stroke="#111" stroke-width="0.14" font-family='"Liberation Sans", sans-serif' font-weight="normal" >p=0.067</text>
<path d="M272.63,484.40 L275.23,484.40 L275.22,483.78 L275.18,483.15 L275.13,482.53 L275.05,481.90 L274.95,481.28 L274.84,480.65 L274.72,480.03 L274.58,479.40 L274.44,478.78 L274.29,478.15 L274.14,477.53 L273.99,476.90 L273.85,476.28 L273.71,475.66 L273.58,475.03 L273.46,474.41 L273.34,473.78 L273.24,473.16 L273.15,472.53 L273.06,471.91 L272.99,471.28 L272.93,470.66 L272.87,470.03 L272.83,469.41 L272.81,468.79 L272.81,468.16 L272.81,467.54 L272.81,466.91 L272.81,466.29 L272.81,465.66 L272.81,465.04 L272.81,464.41 L272.81,463.79 L272.81,463.16 L272.81,462.54 L272.81,461.91 L272.81,461.29 L272.81,460.67 L272.81,460.04 L272.81,459.42 L272.81,458.79 L272.81,458.17 L272.81,457.54 L272.81,456.92 L272.81,456.29 L272.81,455.67 L272.81,455.04 L272.81,454.42 L272.81,453.80 L272.81,453.17 L272.81,452.55 L272.81,451.92 L272.81,451.30 L272.81,450.67 L272.81,450.05 L272.81,449.42 L272.81,448.80 L272.81,448.17 L272.81,447.55 L272.63,446.92 L272.63,446.92 L272.45,447.55 L272.45,448.17 L272.45,448.80 L272.45,449.42 L272.45,450.05 L272.45,450.67 L272.45,451.30 L272.45,451.92 L272.45,452.55 L272.45,453.17 L272.45,453.80 L272.45,454.42 L272.45,455.04 L272.45,455.67 L272.45,456.29 L272.45,456.92 L272.45,457.54 L272.45,458.17 L272.45,458.79 L272.45,459.42 L272.45,460.04 L272.45,460.67 L272.45,461.29 L272.45,461.91 L272.45,462.54 L272.45,463.16 L272.45,463.79 L272.45,464.41 L272.45,465.04 L272.45,465.66 L272.45,466.29 L272.45,466.91 L272.45,467.54 L272.45,468.16 L272.45,468.79 L272.43,469.41 L272.39,470.03 L272.33,470.66 L272.27,471.28 L272.20,471.91 L272.11,472.53 L272.02,473.16 L271.92,473.78 L271.80,474.41 L271.68,475.03 L271.55,475.66 L271.41,476.28 L271.27,476.90 L271.12,477.53 L270.97,478.15 L270.82,478.78 L270.68,479.40 L270.54,480.03 L270.42,480.65 L270.31,481.28 L270.21,481.90 L270.13,482.53 L270.08,483.15 L270.04,483.78 L270.03,484.40 Z" fill="#2b78b9" stroke="#000" stroke-width="0.95" stroke-linejoin="round"/>
<line x1="272.63" y1="484.40" x2="272.63" y2="446.92" stroke="#000" stroke-width="0.8" />
<circle cx="272.63" cy="484.40" r="1.9" fill="#fff"/>
<path d="M279.83,484.40 L282.43,484.40 L282.43,484.21 L282.41,484.01 L282.40,483.82 L282.37,483.62 L282.34,483.43 L282.30,483.23 L282.25,483.04 L282.20,482.84 L282.14,482.65 L282.08,482.45 L282.01,482.26 L281.93,482.06 L281.86,481.87 L281.78,481.67 L281.70,481.48 L281.62,481.28 L281.53,481.09 L281.45,480.89 L281.36,480.70 L281.28,480.50 L281.19,480.31 L281.11,480.11 L281.03,479.92 L280.95,479.72 L280.87,479.53 L280.79,479.33 L280.72,479.14 L280.65,478.94 L280.59,478.75 L280.52,478.55 L280.46,478.36 L280.41,478.16 L280.36,477.97 L280.31,477.77 L280.26,477.58 L280.22,477.38 L280.18,477.19 L280.14,476.99 L280.11,476.80 L280.08,476.61 L280.05,476.41 L280.03,476.22 L280.01,476.02 L280.01,475.83 L280.01,475.63 L280.01,475.44 L280.01,475.24 L280.01,475.05 L280.01,474.85 L280.01,474.66 L280.01,474.46 L280.01,474.27 L280.01,474.07 L280.01,473.88 L280.01,473.68 L280.01,473.49 L280.01,473.29 L280.01,473.10 L280.01,472.90 L279.83,472.71 L279.83,472.71 L279.65,472.90 L279.65,473.10 L279.65,473.29 L279.65,473.49 L279.65,473.68 L279.65,473.88 L279.65,474.07 L279.65,474.27 L279.65,474.46 L279.65,474.66 L279.65,474.85 L279.65,475.05 L279.65,475.24 L279.65,475.44 L279.65,475.63 L279.65,475.83 L279.65,476.02 L279.63,476.22 L279.61,476.41 L279.58,476.61 L279.55,476.80 L279.52,476.99 L279.48,477.19 L279.44,477.38 L279.40,477.58 L279.35,477.77 L279.30,477.97 L279.25,478.16 L279.20,478.36 L279.14,478.55 L279.07,478.75 L279.01,478.94 L278.94,479.14 L278.87,479.33 L278.79,479.53 L278.71,479.72 L278.63,479.92 L278.55,480.11 L278.47,480.31 L278.38,480.50 L278.30,480.70 L278.21,480.89 L278.13,481.09 L278.04,481.28 L277.96,481.48 L277.88,481.67 L277.80,481.87 L277.73,482.06 L277.65,482.26 L277.58,482.45 L277.52,482.65 L277.46,482.84 L277.41,483.04 L277.36,483.23 L277.32,483.43 L277.29,483.62 L277.26,483.82 L277.25,484.01 L277.23,484.21 L277.23,484.40 Z" fill="#dc1a1f" stroke="#000" stroke-width="0.95" stroke-linejoin="round"/>
<line x1="279.83" y1="484.40" x2="279.83" y2="472.71" stroke="#000" stroke-width="0.8" />
<circle cx="279.83" cy="484.40" r="1.9" fill="#fff"/>
<line x1="273.93" y1="446.60" x2="279.03" y2="446.60" stroke="#111" stroke-width="0.9" />
<text x="276.20" y="442.55" font-size="6.0" text-anchor="middle" fill="#111" stroke="#111" stroke-width="0.14" font-family='"Liberation Sans", sans-serif' font-weight="normal" >p=0.303</text>
<path d="M294.37,484.40 L296.97,484.40 L296.90,484.26 L296.70,484.12 L296.41,483.98 L296.05,483.84 L295.69,483.70 L295.35,483.56 L295.05,483.42 L294.83,483.28 L294.66,483.14 L294.55,483.00 L294.55,482.86 L294.55,482.72 L294.55,482.58 L294.55,482.44 L294.55,482.30 L294.55,482.16 L294.55,482.02 L294.55,481.88 L294.55,481.74 L294.55,481.60 L294.55,481.46 L294.55,481.32 L294.55,481.18 L294.55,481.04 L294.55,480.90 L294.55,480.76 L294.55,480.62 L294.55,480.48 L294.55,480.34 L294.55,480.20 L294.55,480.06 L294.55,479.92 L294.55,479.78 L294.55,479.64 L294.55,479.50 L294.55,479.36 L294.55,479.22 L294.55,479.08 L294.55,478.94 L294.55,478.80 L294.55,478.66 L294.55,478.52 L294.55,478.38 L294.55,478.24 L294.55,478.10 L294.55,477.96 L294.55,477.82 L294.55,477.68 L294.55,477.54 L294.55,477.40 L294.55,477.26 L294.55,477.12 L294.55,476.98 L294.55,476.85 L294.55,476.71 L294.55,476.57 L294.55,476.43 L294.55,476.29 L294.55,476.15 L294.37,476.01 L294.37,476.01 L294.19,476.15 L294.19,476.29 L294.19,476.43 L294.19,476.57 L294.19,476.71 L294.19,476.85 L294.19,476.98 L294.19,477.12 L294.19,477.26 L294.19,477.40 L294.19,477.54 L294.19,477.68 L294.19,477.82 L294.19,477.96 L294.19,478.10 L294.19,478.24 L294.19,478.38 L294.19,478.52 L294.19,478.66 L294.19,478.80 L294.19,478.94 L294.19,479.08 L294.19,479.22 L294.19,479.36 L294.19,479.50 L294.19,479.64 L294.19,479.78 L294.19,479.92 L294.19,480.06 L294.19,480.20 L294.19,480.34 L294.19,480.48 L294.19,480.62 L294.19,480.76 L294.19,480.90 L294.19,481.04 L294.19,481.18 L294.19,481.32 L294.19,481.46 L294.19,481.60 L294.19,481.74 L294.19,481.88 L294.19,482.02 L294.19,482.16 L294.19,482.30 L294.19,482.44 L294.19,482.58 L294.19,482.72 L294.19,482.86 L294.19,483.00 L294.08,483.14 L293.91,483.28 L293.69,483.42 L293.39,483.56 L293.05,483.70 L292.69,483.84 L292.33,483.98 L292.04,484.12 L291.84,484.26 L291.77,484.40 Z" fill="#2b78b9" stroke="#000" stroke-width="0.95" stroke-linejoin="round"/>
<line x1="294.37" y1="484.40" x2="294.37" y2="476.01" stroke="#000" stroke-width="0.8" />
<circle cx="294.37" cy="484.40" r="1.9" fill="#fff"/>
<path d="M301.57,484.40 L304.17,484.40 L304.13,484.30 L304.03,484.20 L303.86,484.10 L303.65,484.00 L303.41,483.90 L303.15,483.80 L302.89,483.70 L302.64,483.60 L302.41,483.50 L302.22,483.40 L302.05,483.30 L301.92,483.20 L301.82,483.10 L301.75,483.00 L301.75,482.90 L301.75,482.80 L301.75,482.70 L301.75,482.60 L301.75,482.50 L301.75,482.40 L301.75,482.30 L301.75,482.20 L301.75,482.10 L301.75,482.00 L301.75,481.90 L301.75,481.80 L301.75,481.70 L301.75,481.60 L301.75,481.50 L301.75,481.40 L301.75,481.30 L301.75,481.20 L301.75,481.10 L301.75,481.00 L301.75,480.90 L301.75,480.80 L301.75,480.70 L301.75,480.60 L301.75,480.50 L301.75,480.40 L301.75,480.30 L301.75,480.20 L301.75,480.10 L301.75,480.00 L301.75,479.90 L301.75,479.80 L301.75,479.70 L301.75,479.60 L301.75,479.50 L301.75,479.40 L301.75,479.30 L301.75,479.20 L301.75,479.10 L301.75,479.00 L301.75,478.90 L301.75,478.80 L301.75,478.70 L301.75,478.60 L301.75,478.50 L301.57,478.40 L301.57,478.40 L301.39,478.50 L301.39,478.60 L301.39,478.70 L301.39,478.80 L301.39,478.90 L301.39,479.00 L301.39,479.10 L301.39,479.20 L301.39,479.30 L301.39,479.40 L301.39,479.50 L301.39,479.60 L301.39,479.70 L301.39,479.80 L301.39,479.90 L301.39,480.00 L301.39,480.10 L301.39,480.20 L301.39,480.30 L301.39,480.40 L301.39,480.50 L301.39,480.60 L301.39,480.70 L301.39,480.80 L301.39,480.90 L301.39,481.00 L301.39,481.10 L301.39,481.20 L301.39,481.30 L301.39,481.40 L301.39,481.50 L301.39,481.60 L301.39,481.70 L301.39,481.80 L301.39,481.90 L301.39,482.00 L301.39,482.10 L301.39,482.20 L301.39,482.30 L301.39,482.40 L301.39,482.50 L301.39,482.60 L301.39,482.70 L301.39,482.80 L301.39,482.90 L301.39,483.00 L301.32,483.10 L301.22,483.20 L301.09,483.30 L300.92,483.40 L300.73,483.50 L300.50,483.60 L300.25,483.70 L299.99,483.80 L299.73,483.90 L299.49,484.00 L299.28,484.10 L299.11,484.20 L299.01,484.30 L298.97,484.40 Z" fill="#dc1a1f" stroke="#000" stroke-width="0.95" stroke-linejoin="round"/>
<line x1="301.57" y1="484.40" x2="301.57" y2="478.40" stroke="#000" stroke-width="0.8" />
<circle cx="301.57" cy="484.40" r="1.9" fill="#fff"/>
<line x1="295.67" y1="475.60" x2="300.77" y2="475.60" stroke="#111" stroke-width="0.9" />
<text x="298.00" y="471.65" font-size="6.0" text-anchor="middle" fill="#111" stroke="#111" stroke-width="0.14" font-family='"Liberation Sans", sans-serif' font-weight="normal" >p=0.376</text>
<path d="M316.11,484.40 L318.71,484.40 L318.60,484.22 L318.28,484.04 L317.84,483.86 L317.38,483.68 L316.95,483.50 L316.62,483.32 L316.40,483.14 L316.29,482.96 L316.29,482.78 L316.29,482.60 L316.29,482.42 L316.29,482.24 L316.29,482.06 L316.29,481.88 L316.29,481.70 L316.29,481.52 L316.29,481.34 L316.29,481.16 L316.29,480.98 L316.29,480.80 L316.29,480.62 L316.29,480.44 L316.29,480.26 L316.29,480.08 L316.29,479.90 L316.29,479.72 L316.29,479.54 L316.29,479.36 L316.29,479.18 L316.29,479.00 L316.29,478.82 L316.29,478.64 L316.29,478.46 L316.29,478.28 L316.29,478.10 L316.29,477.92 L316.29,477.74 L316.29,477.56 L316.29,477.38 L316.29,477.20 L316.29,477.02 L316.29,476.85 L316.29,476.67 L316.29,476.49 L316.29,476.31 L316.29,476.13 L316.29,475.95 L316.29,475.77 L316.29,475.59 L316.29,475.41 L316.29,475.23 L316.29,475.05 L316.29,474.87 L316.29,474.69 L316.29,474.51 L316.29,474.33 L316.29,474.15 L316.29,473.97 L316.29,473.79 L316.11,473.61 L316.11,473.61 L315.93,473.79 L315.93,473.97 L315.93,474.15 L315.93,474.33 L315.93,474.51 L315.93,474.69 L315.93,474.87 L315.93,475.05 L315.93,475.23 L315.93,475.41 L315.93,475.59 L315.93,475.77 L315.93,475.95 L315.93,476.13 L315.93,476.31 L315.93,476.49 L315.93,476.67 L315.93,476.85 L315.93,477.02 L315.93,477.20 L315.93,477.38 L315.93,477.56 L315.93,477.74 L315.93,477.92 L315.93,478.10 L315.93,478.28 L315.93,478.46 L315.93,478.64 L315.93,478.82 L315.93,479.00 L315.93,479.18 L315.93,479.36 L315.93,479.54 L315.93,479.72 L315.93,479.90 L315.93,480.08 L315.93,480.26 L315.93,480.44 L315.93,480.62 L315.93,480.80 L315.93,480.98 L315.93,481.16 L315.93,481.34 L315.93,481.52 L315.93,481.70 L315.93,481.88 L315.93,482.06 L315.93,482.24 L315.93,482.42 L315.93,482.60 L315.93,482.78 L315.93,482.96 L315.82,483.14 L315.60,483.32 L315.27,483.50 L314.84,483.68 L314.38,483.86 L313.94,484.04 L313.62,484.22 L313.51,484.40 Z" fill="#2b78b9" stroke="#000" stroke-width="0.95" stroke-linejoin="round"/>
<line x1="316.11" y1="484.40" x2="316.11" y2="473.61" stroke="#000" stroke-width="0.8" />
<circle cx="316.11" cy="484.40" r="1.9" fill="#fff"/>
<path d="M323.31,484.40 L325.91,484.40 L325.87,484.30 L325.77,484.20 L325.60,484.10 L325.39,484.00 L325.15,483.90 L324.89,483.80 L324.63,483.70 L324.38,483.60 L324.15,483.50 L323.96,483.40 L323.79,483.30 L323.66,483.20 L323.56,483.10 L323.49,483.00 L323.49,482.90 L323.49,482.80 L323.49,482.70 L323.49,482.60 L323.49,482.50 L323.49,482.40 L323.49,482.30 L323.49,482.20 L323.49,482.10 L323.49,482.00 L323.49,481.90 L323.49,481.80 L323.49,481.70 L323.49,481.60 L323.49,481.50 L323.49,481.40 L323.49,481.30 L323.49,481.20 L323.49,481.10 L323.49,481.00 L323.49,480.90 L323.49,480.80 L323.49,480.70 L323.49,480.60 L323.49,480.50 L323.49,480.40 L323.49,480.30 L323.49,480.20 L323.49,480.10 L323.49,480.00 L323.49,479.90 L323.49,479.80 L323.49,479.70 L323.49,479.60 L323.49,479.50 L323.49,479.40 L323.49,479.30 L323.49,479.20 L323.49,479.10 L323.49,479.00 L323.49,478.90 L323.49,478.80 L323.49,478.70 L323.49,478.60 L323.49,478.50 L323.31,478.40 L323.31,478.40 L323.13,478.50 L323.13,478.60 L323.13,478.70 L323.13,478.80 L323.13,478.90 L323.13,479.00 L323.13,479.10 L323.13,479.20 L323.13,479.30 L323.13,479.40 L323.13,479.50 L323.13,479.60 L323.13,479.70 L323.13,479.80 L323.13,479.90 L323.13,480.00 L323.13,480.10 L323.13,480.20 L323.13,480.30 L323.13,480.40 L323.13,480.50 L323.13,480.60 L323.13,480.70 L323.13,480.80 L323.13,480.90 L323.13,481.00 L323.13,481.10 L323.13,481.20 L323.13,481.30 L323.13,481.40 L323.13,481.50 L323.13,481.60 L323.13,481.70 L323.13,481.80 L323.13,481.90 L323.13,482.00 L323.13,482.10 L323.13,482.20 L323.13,482.30 L323.13,482.40 L323.13,482.50 L323.13,482.60 L323.13,482.70 L323.13,482.80 L323.13,482.90 L323.13,483.00 L323.06,483.10 L322.96,483.20 L322.83,483.30 L322.66,483.40 L322.47,483.50 L322.24,483.60 L321.99,483.70 L321.73,483.80 L321.47,483.90 L321.23,484.00 L321.02,484.10 L320.85,484.20 L320.75,484.30 L320.71,484.40 Z" fill="#dc1a1f" stroke="#000" stroke-width="0.95" stroke-linejoin="round"/>
<line x1="323.31" y1="484.40" x2="323.31" y2="478.40" stroke="#000" stroke-width="0.8" />
<circle cx="323.31" cy="484.40" r="1.9" fill="#fff"/>
<line x1="317.41" y1="473.20" x2="322.51" y2="473.20" stroke="#111" stroke-width="0.9" />
<text x="319.00" y="465.55" font-size="6.0" text-anchor="middle" fill="#111" stroke="#111" stroke-width="0.14" font-family='"Liberation Sans", sans-serif' font-weight="normal" >p=0.676</text>
<line x1="334.95" y1="484.40" x2="340.75" y2="484.40" stroke="#000" stroke-width="1.0" />
<circle cx="337.85" cy="484.40" r="1.9" fill="#fff"/>
<path d="M345.05,484.40 L347.65,484.40 L347.64,484.17 L347.60,483.94 L347.54,483.71 L347.47,483.48 L347.37,483.25 L347.25,483.02 L347.13,482.79 L346.99,482.56 L346.84,482.33 L346.69,482.10 L346.54,481.87 L346.39,481.64 L346.25,481.41 L346.11,481.18 L345.98,480.95 L345.85,480.72 L345.74,480.49 L345.64,480.26 L345.55,480.03 L345.46,479.80 L345.39,479.57 L345.33,479.34 L345.28,479.11 L345.23,478.88 L345.23,478.65 L345.23,478.42 L345.23,478.19 L345.23,477.96 L345.23,477.73 L345.23,477.50 L345.23,477.27 L345.23,477.04 L345.23,476.82 L345.23,476.59 L345.23,476.36 L345.23,476.13 L345.23,475.90 L345.23,475.67 L345.23,475.44 L345.23,475.21 L345.23,474.98 L345.23,474.75 L345.23,474.52 L345.23,474.29 L345.23,474.06 L345.23,473.83 L345.23,473.60 L345.23,473.37 L345.23,473.14 L345.23,472.91 L345.23,472.68 L345.23,472.45 L345.23,472.22 L345.23,471.99 L345.23,471.76 L345.23,471.53 L345.23,471.30 L345.23,471.07 L345.23,470.84 L345.05,470.61 L345.05,470.61 L344.87,470.84 L344.87,471.07 L344.87,471.30 L344.87,471.53 L344.87,471.76 L344.87,471.99 L344.87,472.22 L344.87,472.45 L344.87,472.68 L344.87,472.91 L344.87,473.14 L344.87,473.37 L344.87,473.60 L344.87,473.83 L344.87,474.06 L344.87,474.29 L344.87,474.52 L344.87,474.75 L344.87,474.98 L344.87,475.21 L344.87,475.44 L344.87,475.67 L344.87,475.90 L344.87,476.13 L344.87,476.36 L344.87,476.59 L344.87,476.82 L344.87,477.04 L344.87,477.27 L344.87,477.50 L344.87,477.73 L344.87,477.96 L344.87,478.19 L344.87,478.42 L344.87,478.65 L344.87,478.88 L344.82,479.11 L344.77,479.34 L344.71,479.57 L344.64,479.80 L344.55,480.03 L344.46,480.26 L344.36,480.49 L344.25,480.72 L344.12,480.95 L343.99,481.18 L343.85,481.41 L343.71,481.64 L343.56,481.87 L343.41,482.10 L343.26,482.33 L343.11,482.56 L342.97,482.79 L342.85,483.02 L342.73,483.25 L342.63,483.48 L342.56,483.71 L342.50,483.94 L342.46,484.17 L342.45,484.40 Z" fill="#dc1a1f" stroke="#000" stroke-width="0.95" stroke-linejoin="round"/>
<line x1="345.05" y1="484.40" x2="345.05" y2="470.61" stroke="#000" stroke-width="0.8" />
<circle cx="345.05" cy="484.40" r="1.9" fill="#fff"/>
<line x1="339.15" y1="470.30" x2="344.25" y2="470.30" stroke="#111" stroke-width="0.9" />
<text x="343.20" y="462.85" font-size="6.0" text-anchor="middle" fill="#111" stroke="#111" stroke-width="0.14" font-family='"Liberation Sans", sans-serif' font-weight="normal" >p=0.460</text>
<path d="M359.59,484.40 L359.77,484.40 L359.77,483.33 L359.77,482.25 L359.77,481.18 L359.78,480.10 L359.81,479.03 L359.85,477.95 L359.88,476.88 L359.93,475.81 L359.97,474.73 L360.02,473.66 L360.08,472.58 L360.14,471.51 L360.20,470.43 L360.27,469.36 L360.35,468.29 L360.43,467.21 L360.51,466.14 L360.60,465.06 L360.70,463.99 L360.79,462.91 L360.89,461.84 L360.99,460.77 L361.09,459.69 L361.20,458.62 L361.30,457.54 L361.40,456.47 L361.50,455.39 L361.59,454.32 L361.69,453.25 L361.77,452.17 L361.85,451.10 L361.93,450.02 L361.99,448.95 L362.05,447.87 L362.10,446.80 L362.14,445.73 L362.17,444.65 L362.18,443.58 L362.19,442.50 L362.18,441.43 L362.14,440.35 L362.08,439.28 L361.99,438.21 L361.88,437.13 L361.75,436.06 L361.61,434.98 L361.46,433.91 L361.30,432.83 L361.14,431.76 L360.98,430.69 L360.82,429.61 L360.67,428.54 L360.53,427.46 L360.40,426.39 L360.28,425.31 L360.17,424.24 L360.07,423.17 L359.99,422.09 L359.91,421.02 L359.59,419.94 L359.59,419.94 L359.27,421.02 L359.19,422.09 L359.11,423.17 L359.01,424.24 L358.90,425.31 L358.78,426.39 L358.65,427.46 L358.51,428.54 L358.36,429.61 L358.20,430.69 L358.04,431.76 L357.88,432.83 L357.72,433.91 L357.57,434.98 L357.43,436.06 L357.30,437.13 L357.19,438.21 L357.10,439.28 L357.04,440.35 L357.00,441.43 L356.99,442.50 L357.00,443.58 L357.01,444.65 L357.04,445.73 L357.08,446.80 L357.13,447.87 L357.19,448.95 L357.25,450.02 L357.33,451.10 L357.41,452.17 L357.49,453.25 L357.59,454.32 L357.68,455.39 L357.78,456.47 L357.88,457.54 L357.98,458.62 L358.09,459.69 L358.19,460.77 L358.29,461.84 L358.39,462.91 L358.48,463.99 L358.58,465.06 L358.67,466.14 L358.75,467.21 L358.83,468.29 L358.91,469.36 L358.98,470.43 L359.04,471.51 L359.10,472.58 L359.16,473.66 L359.21,474.73 L359.25,475.81 L359.30,476.88 L359.33,477.95 L359.37,479.03 L359.40,480.10 L359.41,481.18 L359.41,482.25 L359.41,483.33 L359.41,484.40 Z" fill="#2b78b9" stroke="#000" stroke-width="0.95" stroke-linejoin="round"/>
<line x1="359.59" y1="484.40" x2="359.59" y2="419.94" stroke="#000" stroke-width="0.8" />
<circle cx="359.59" cy="447.22" r="1.9" fill="#fff"/>
<path d="M366.79,484.40 L367.06,484.40 L367.12,483.35 L367.18,482.29 L367.25,481.24 L367.33,480.18 L367.42,479.13 L367.52,478.07 L367.62,477.02 L367.74,475.97 L367.86,474.91 L367.99,473.86 L368.12,472.80 L368.26,471.75 L368.40,470.69 L368.53,469.64 L368.67,468.59 L368.80,467.53 L368.92,466.48 L369.03,465.42 L369.13,464.37 L369.22,463.31 L369.29,462.26 L369.34,461.21 L369.38,460.15 L369.39,459.10 L369.39,458.04 L369.37,456.99 L369.35,455.93 L369.31,454.88 L369.27,453.83 L369.22,452.77 L369.15,451.72 L369.08,450.66 L369.01,449.61 L368.92,448.55 L368.84,447.50 L368.74,446.45 L368.65,445.39 L368.55,444.34 L368.45,443.28 L368.35,442.23 L368.25,441.17 L368.15,440.12 L368.05,439.07 L367.95,438.01 L367.86,436.96 L367.77,435.90 L367.69,434.85 L367.60,433.79 L367.53,432.74 L367.45,431.69 L367.39,430.63 L367.32,429.58 L367.27,428.52 L367.21,427.47 L367.16,426.41 L367.12,425.36 L367.08,424.31 L367.04,423.25 L367.01,422.20 L366.79,421.14 L366.79,421.14 L366.57,422.20 L366.54,423.25 L366.50,424.31 L366.46,425.36 L366.42,426.41 L366.37,427.47 L366.31,428.52 L366.26,429.58 L366.19,430.63 L366.13,431.69 L366.05,432.74 L365.98,433.79 L365.89,434.85 L365.81,435.90 L365.72,436.96 L365.63,438.01 L365.53,439.07 L365.43,440.12 L365.33,441.17 L365.23,442.23 L365.13,443.28 L365.03,444.34 L364.93,445.39 L364.84,446.45 L364.74,447.50 L364.66,448.55 L364.57,449.61 L364.50,450.66 L364.43,451.72 L364.36,452.77 L364.31,453.83 L364.27,454.88 L364.23,455.93 L364.21,456.99 L364.19,458.04 L364.19,459.10 L364.20,460.15 L364.24,461.21 L364.29,462.26 L364.36,463.31 L364.45,464.37 L364.55,465.42 L364.66,466.48 L364.78,467.53 L364.91,468.59 L365.05,469.64 L365.18,470.69 L365.32,471.75 L365.46,472.80 L365.59,473.86 L365.72,474.91 L365.84,475.97 L365.96,477.02 L366.06,478.07 L366.16,479.13 L366.25,480.18 L366.33,481.24 L366.40,482.29 L366.46,483.35 L366.52,484.40 Z" fill="#dc1a1f" stroke="#000" stroke-width="0.95" stroke-linejoin="round"/>
<line x1="366.79" y1="484.40" x2="366.79" y2="421.14" stroke="#000" stroke-width="0.8" />
<circle cx="366.79" cy="457.72" r="1.9" fill="#fff"/>
<line x1="360.89" y1="419.40" x2="365.99" y2="419.40" stroke="#111" stroke-width="0.9" />
<text x="363.30" y="415.25" font-size="6.0" text-anchor="middle" fill="#111" stroke="#111" stroke-width="0.14" font-family='"Liberation Sans", sans-serif' font-weight="normal" >p=0.043</text>
<path d="M381.33,484.40 L382.13,484.40 L382.18,480.98 L382.24,477.56 L382.30,474.15 L382.36,470.73 L382.42,467.31 L382.48,463.89 L382.55,460.48 L382.61,457.06 L382.68,453.64 L382.75,450.22 L382.82,446.81 L382.89,443.39 L382.96,439.97 L383.03,436.55 L383.09,433.13 L383.16,429.72 L383.23,426.30 L383.29,422.88 L383.36,419.46 L383.42,416.05 L383.48,412.63 L383.54,409.21 L383.59,405.79 L383.64,402.37 L383.69,398.96 L383.73,395.54 L383.77,392.12 L383.81,388.70 L383.84,385.29 L383.87,381.87 L383.89,378.45 L383.91,375.03 L383.92,371.62 L383.93,368.20 L383.93,364.78 L383.92,361.36 L383.89,357.94 L383.85,354.53 L383.78,351.11 L383.70,347.69 L383.60,344.27 L383.49,340.86 L383.37,337.44 L383.25,334.02 L383.11,330.60 L382.97,327.18 L382.84,323.77 L382.70,320.35 L382.57,316.93 L382.44,313.51 L382.31,310.10 L382.20,306.68 L382.09,303.26 L381.99,299.84 L381.90,296.43 L381.81,293.01 L381.74,289.59 L381.68,286.17 L381.62,282.75 L381.33,279.34 L381.33,279.34 L381.04,282.75 L380.98,286.17 L380.92,289.59 L380.85,293.01 L380.76,296.43 L380.67,299.84 L380.57,303.26 L380.46,306.68 L380.35,310.10 L380.22,313.51 L380.09,316.93 L379.96,320.35 L379.82,323.77 L379.69,327.18 L379.55,330.60 L379.41,334.02 L379.29,337.44 L379.17,340.86 L379.06,344.27 L378.96,347.69 L378.88,351.11 L378.81,354.53 L378.77,357.94 L378.74,361.36 L378.73,364.78 L378.73,368.20 L378.74,371.62 L378.75,375.03 L378.77,378.45 L378.79,381.87 L378.82,385.29 L378.85,388.70 L378.89,392.12 L378.93,395.54 L378.97,398.96 L379.02,402.37 L379.07,405.79 L379.12,409.21 L379.18,412.63 L379.24,416.05 L379.30,419.46 L379.37,422.88 L379.43,426.30 L379.50,429.72 L379.57,433.13 L379.63,436.55 L379.70,439.97 L379.77,443.39 L379.84,446.81 L379.91,450.22 L379.98,453.64 L380.05,457.06 L380.11,460.48 L380.18,463.89 L380.24,467.31 L380.30,470.73 L380.36,474.15 L380.42,477.56 L380.48,480.98 L380.53,484.40 Z" fill="#2b78b9" stroke="#000" stroke-width="0.95" stroke-linejoin="round"/>
<line x1="381.33" y1="484.40" x2="381.33" y2="279.34" stroke="#000" stroke-width="0.8" />
<circle cx="381.33" cy="369.58" r="1.9" fill="#fff"/>
<path d="M388.53,484.40 L389.60,484.40 L389.67,481.14 L389.75,477.87 L389.83,474.61 L389.91,471.35 L389.99,468.09 L390.07,464.82 L390.15,461.56 L390.23,458.30 L390.32,455.03 L390.40,451.77 L390.47,448.51 L390.55,445.25 L390.62,441.98 L390.69,438.72 L390.76,435.46 L390.82,432.19 L390.88,428.93 L390.93,425.67 L390.98,422.41 L391.02,419.14 L391.05,415.88 L391.08,412.62 L391.10,409.36 L391.12,406.09 L391.13,402.83 L391.13,399.57 L391.12,396.30 L391.09,393.04 L391.06,389.78 L391.01,386.52 L390.95,383.25 L390.87,379.99 L390.79,376.73 L390.70,373.46 L390.60,370.20 L390.50,366.94 L390.39,363.68 L390.28,360.41 L390.17,357.15 L390.05,353.89 L389.94,350.62 L389.83,347.36 L389.72,344.10 L389.61,340.84 L389.51,337.57 L389.41,334.31 L389.32,331.05 L389.23,327.78 L389.15,324.52 L389.08,321.26 L389.01,318.00 L388.95,314.73 L388.90,311.47 L388.85,308.21 L388.80,304.94 L388.76,301.68 L388.73,298.42 L388.71,295.16 L388.71,291.89 L388.53,288.63 L388.53,288.63 L388.35,291.89 L388.35,295.16 L388.33,298.42 L388.30,301.68 L388.26,304.94 L388.21,308.21 L388.16,311.47 L388.11,314.73 L388.05,318.00 L387.98,321.26 L387.91,324.52 L387.83,327.78 L387.74,331.05 L387.65,334.31 L387.55,337.57 L387.45,340.84 L387.34,344.10 L387.23,347.36 L387.12,350.62 L387.01,353.89 L386.89,357.15 L386.78,360.41 L386.67,363.68 L386.56,366.94 L386.46,370.20 L386.36,373.46 L386.27,376.73 L386.19,379.99 L386.11,383.25 L386.05,386.52 L386.00,389.78 L385.97,393.04 L385.94,396.30 L385.93,399.57 L385.93,402.83 L385.94,406.09 L385.96,409.36 L385.98,412.62 L386.01,415.88 L386.04,419.14 L386.08,422.41 L386.13,425.67 L386.18,428.93 L386.24,432.19 L386.30,435.46 L386.37,438.72 L386.44,441.98 L386.51,445.25 L386.59,448.51 L386.66,451.77 L386.74,455.03 L386.83,458.30 L386.91,461.56 L386.99,464.82 L387.07,468.09 L387.15,471.35 L387.23,474.61 L387.31,477.87 L387.39,481.14 L387.46,484.40 Z" fill="#dc1a1f" stroke="#000" stroke-width="0.95" stroke-linejoin="round"/>
<line x1="388.53" y1="484.40" x2="388.53" y2="288.63" stroke="#000" stroke-width="0.8" />
<circle cx="388.53" cy="401.95" r="1.9" fill="#fff"/>
<line x1="382.63" y1="278.80" x2="387.73" y2="278.80" stroke="#111" stroke-width="0.9" />
<text x="385.40" y="274.95" font-size="6.0" text-anchor="middle" fill="#111" stroke="#111" stroke-width="0.14" font-family='"Liberation Sans", sans-serif' font-weight="normal" >p=0.041</text>
<path d="M403.07,484.40 L405.67,484.40 L405.65,483.97 L405.60,483.54 L405.51,483.11 L405.39,482.68 L405.25,482.25 L405.08,481.82 L404.90,481.39 L404.72,480.96 L404.53,480.53 L404.34,480.10 L404.17,479.67 L404.00,479.24 L403.85,478.81 L403.71,478.38 L403.59,477.95 L403.49,477.52 L403.40,477.09 L403.33,476.67 L403.27,476.24 L403.25,475.81 L403.25,475.38 L403.25,474.95 L403.25,474.52 L403.25,474.09 L403.25,473.66 L403.25,473.23 L403.25,472.80 L403.25,472.37 L403.25,471.94 L403.25,471.51 L403.25,471.08 L403.25,470.65 L403.25,470.22 L403.25,469.79 L403.25,469.36 L403.25,468.93 L403.25,468.50 L403.25,468.07 L403.25,467.64 L403.25,467.21 L403.25,466.78 L403.25,466.35 L403.25,465.92 L403.25,465.49 L403.25,465.06 L403.25,464.63 L403.25,464.20 L403.25,463.77 L403.25,463.34 L403.25,462.91 L403.25,462.48 L403.25,462.05 L403.25,461.63 L403.25,461.20 L403.25,460.77 L403.25,460.34 L403.25,459.91 L403.25,459.48 L403.25,459.05 L403.07,458.62 L403.07,458.62 L402.89,459.05 L402.89,459.48 L402.89,459.91 L402.89,460.34 L402.89,460.77 L402.89,461.20 L402.89,461.63 L402.89,462.05 L402.89,462.48 L402.89,462.91 L402.89,463.34 L402.89,463.77 L402.89,464.20 L402.89,464.63 L402.89,465.06 L402.89,465.49 L402.89,465.92 L402.89,466.35 L402.89,466.78 L402.89,467.21 L402.89,467.64 L402.89,468.07 L402.89,468.50 L402.89,468.93 L402.89,469.36 L402.89,469.79 L402.89,470.22 L402.89,470.65 L402.89,471.08 L402.89,471.51 L402.89,471.94 L402.89,472.37 L402.89,472.80 L402.89,473.23 L402.89,473.66 L402.89,474.09 L402.89,474.52 L402.89,474.95 L402.89,475.38 L402.89,475.81 L402.87,476.24 L402.81,476.67 L402.74,477.09 L402.65,477.52 L402.55,477.95 L402.43,478.38 L402.29,478.81 L402.14,479.24 L401.97,479.67 L401.80,480.10 L401.61,480.53 L401.42,480.96 L401.24,481.39 L401.06,481.82 L400.89,482.25 L400.75,482.68 L400.63,483.11 L400.54,483.54 L400.49,483.97 L400.47,484.40 Z" fill="#2b78b9" stroke="#000" stroke-width="0.95" stroke-linejoin="round"/>
<line x1="403.07" y1="484.40" x2="403.07" y2="458.62" stroke="#000" stroke-width="0.8" />
<circle cx="403.07" cy="484.40" r="1.9" fill="#fff"/>
<path d="M410.27,484.40 L412.87,484.40 L412.86,484.08 L412.83,483.75 L412.78,483.43 L412.71,483.10 L412.62,482.78 L412.52,482.45 L412.40,482.13 L412.27,481.80 L412.14,481.48 L412.00,481.15 L411.86,480.83 L411.72,480.50 L411.58,480.18 L411.44,479.85 L411.31,479.53 L411.19,479.20 L411.07,478.88 L410.96,478.55 L410.87,478.23 L410.78,477.90 L410.70,477.58 L410.63,477.25 L410.57,476.93 L410.52,476.61 L410.47,476.28 L410.45,475.96 L410.45,475.63 L410.45,475.31 L410.45,474.98 L410.45,474.66 L410.45,474.33 L410.45,474.01 L410.45,473.68 L410.45,473.36 L410.45,473.03 L410.45,472.71 L410.45,472.38 L410.45,472.06 L410.45,471.73 L410.45,471.41 L410.45,471.08 L410.45,470.76 L410.45,470.43 L410.45,470.11 L410.45,469.78 L410.45,469.46 L410.45,469.14 L410.45,468.81 L410.45,468.49 L410.45,468.16 L410.45,467.84 L410.45,467.51 L410.45,467.19 L410.45,466.86 L410.45,466.54 L410.45,466.21 L410.45,465.89 L410.45,465.56 L410.45,465.24 L410.27,464.91 L410.27,464.91 L410.09,465.24 L410.09,465.56 L410.09,465.89 L410.09,466.21 L410.09,466.54 L410.09,466.86 L410.09,467.19 L410.09,467.51 L410.09,467.84 L410.09,468.16 L410.09,468.49 L410.09,468.81 L410.09,469.14 L410.09,469.46 L410.09,469.78 L410.09,470.11 L410.09,470.43 L410.09,470.76 L410.09,471.08 L410.09,471.41 L410.09,471.73 L410.09,472.06 L410.09,472.38 L410.09,472.71 L410.09,473.03 L410.09,473.36 L410.09,473.68 L410.09,474.01 L410.09,474.33 L410.09,474.66 L410.09,474.98 L410.09,475.31 L410.09,475.63 L410.09,475.96 L410.07,476.28 L410.02,476.61 L409.97,476.93 L409.91,477.25 L409.84,477.58 L409.76,477.90 L409.67,478.23 L409.58,478.55 L409.47,478.88 L409.35,479.20 L409.23,479.53 L409.10,479.85 L408.96,480.18 L408.82,480.50 L408.68,480.83 L408.54,481.15 L408.40,481.48 L408.27,481.80 L408.14,482.13 L408.02,482.45 L407.92,482.78 L407.83,483.10 L407.76,483.43 L407.71,483.75 L407.68,484.08 L407.67,484.40 Z" fill="#dc1a1f" stroke="#000" stroke-width="0.95" stroke-linejoin="round"/>
<line x1="410.27" y1="484.40" x2="410.27" y2="464.91" stroke="#000" stroke-width="0.8" />
<circle cx="410.27" cy="484.40" r="1.9" fill="#fff"/>
<line x1="404.37" y1="458.30" x2="409.47" y2="458.30" stroke="#111" stroke-width="0.9" />
<text x="406.80" y="453.85" font-size="6.0" text-anchor="middle" fill="#111" stroke="#111" stroke-width="0.14" font-family='"Liberation Sans", sans-serif' font-weight="normal" >p=0.381</text>
<path d="M424.81,484.40 L427.41,484.40 L427.39,483.68 L427.34,482.95 L427.24,482.23 L427.12,481.50 L426.98,480.78 L426.81,480.05 L426.63,479.33 L426.44,478.60 L426.25,477.88 L426.06,477.15 L425.88,476.43 L425.72,475.71 L425.57,474.98 L425.43,474.26 L425.31,473.53 L425.21,472.81 L425.13,472.08 L425.05,471.36 L425.00,470.63 L424.99,469.91 L424.99,469.19 L424.99,468.46 L424.99,467.74 L424.99,467.01 L424.99,466.29 L424.99,465.56 L424.99,464.84 L424.99,464.11 L424.99,463.39 L424.99,462.66 L424.99,461.94 L424.99,461.22 L424.99,460.49 L424.99,459.77 L424.99,459.04 L424.99,458.32 L424.99,457.59 L424.99,456.87 L424.99,456.14 L424.99,455.42 L424.99,454.69 L424.99,453.97 L424.99,453.25 L424.99,452.52 L424.99,451.80 L424.99,451.07 L424.99,450.35 L424.99,449.62 L424.99,448.90 L424.99,448.17 L424.99,447.45 L424.99,446.73 L424.99,446.00 L424.99,445.28 L424.99,444.55 L424.99,443.83 L424.99,443.10 L424.99,442.38 L424.99,441.65 L424.81,440.93 L424.81,440.93 L424.63,441.65 L424.63,442.38 L424.63,443.10 L424.63,443.83 L424.63,444.55 L424.63,445.28 L424.63,446.00 L424.63,446.73 L424.63,447.45 L424.63,448.17 L424.63,448.90 L424.63,449.62 L424.63,450.35 L424.63,451.07 L424.63,451.80 L424.63,452.52 L424.63,453.25 L424.63,453.97 L424.63,454.69 L424.63,455.42 L424.63,456.14 L424.63,456.87 L424.63,457.59 L424.63,458.32 L424.63,459.04 L424.63,459.77 L424.63,460.49 L424.63,461.22 L424.63,461.94 L424.63,462.66 L424.63,463.39 L424.63,464.11 L424.63,464.84 L424.63,465.56 L424.63,466.29 L424.63,467.01 L424.63,467.74 L424.63,468.46 L424.63,469.19 L424.63,469.91 L424.62,470.63 L424.57,471.36 L424.49,472.08 L424.41,472.81 L424.31,473.53 L424.19,474.26 L424.05,474.98 L423.90,475.71 L423.74,476.43 L423.56,477.15 L423.37,477.88 L423.18,478.60 L422.99,479.33 L422.81,480.05 L422.64,480.78 L422.50,481.50 L422.38,482.23 L422.28,482.95 L422.23,483.68 L422.21,484.40 Z" fill="#2b78b9" stroke="#000" stroke-width="0.95" stroke-linejoin="round"/>
<line x1="424.81" y1="484.40" x2="424.81" y2="440.93" stroke="#000" stroke-width="0.8" />
<circle cx="424.81" cy="484.40" r="1.9" fill="#fff"/>
<path d="M432.01,484.40 L434.61,484.40 L434.61,484.04 L434.59,483.68 L434.57,483.32 L434.54,482.96 L434.50,482.60 L434.45,482.24 L434.39,481.88 L434.33,481.52 L434.26,481.16 L434.18,480.80 L434.10,480.44 L434.02,480.08 L433.93,479.72 L433.84,479.36 L433.74,479.00 L433.65,478.64 L433.56,478.28 L433.46,477.92 L433.37,477.56 L433.28,477.20 L433.19,476.85 L433.10,476.49 L433.01,476.13 L432.93,475.77 L432.85,475.41 L432.78,475.05 L432.71,474.69 L432.64,474.33 L432.58,473.97 L432.52,473.61 L432.47,473.25 L432.42,472.89 L432.38,472.53 L432.33,472.17 L432.30,471.81 L432.26,471.45 L432.23,471.09 L432.20,470.73 L432.19,470.37 L432.19,470.01 L432.19,469.65 L432.19,469.29 L432.19,468.93 L432.19,468.57 L432.19,468.21 L432.19,467.85 L432.19,467.49 L432.19,467.13 L432.19,466.77 L432.19,466.41 L432.19,466.05 L432.19,465.69 L432.19,465.33 L432.19,464.97 L432.19,464.61 L432.19,464.25 L432.19,463.89 L432.19,463.53 L432.19,463.17 L432.01,462.81 L432.01,462.81 L431.83,463.17 L431.83,463.53 L431.83,463.89 L431.83,464.25 L431.83,464.61 L431.83,464.97 L431.83,465.33 L431.83,465.69 L431.83,466.05 L431.83,466.41 L431.83,466.77 L431.83,467.13 L431.83,467.49 L431.83,467.85 L431.83,468.21 L431.83,468.57 L431.83,468.93 L431.83,469.29 L431.83,469.65 L431.83,470.01 L431.83,470.37 L431.82,470.73 L431.79,471.09 L431.76,471.45 L431.72,471.81 L431.69,472.17 L431.64,472.53 L431.60,472.89 L431.55,473.25 L431.50,473.61 L431.44,473.97 L431.38,474.33 L431.31,474.69 L431.24,475.05 L431.17,475.41 L431.09,475.77 L431.01,476.13 L430.92,476.49 L430.83,476.85 L430.74,477.20 L430.65,477.56 L430.56,477.92 L430.46,478.28 L430.37,478.64 L430.28,479.00 L430.18,479.36 L430.09,479.72 L430.00,480.08 L429.92,480.44 L429.84,480.80 L429.76,481.16 L429.69,481.52 L429.63,481.88 L429.57,482.24 L429.52,482.60 L429.48,482.96 L429.45,483.32 L429.43,483.68 L429.41,484.04 L429.41,484.40 Z" fill="#dc1a1f" stroke="#000" stroke-width="0.95" stroke-linejoin="round"/>
<line x1="432.01" y1="484.40" x2="432.01" y2="462.81" stroke="#000" stroke-width="0.8" />
<circle cx="432.01" cy="481.40" r="1.9" fill="#fff"/>
<line x1="426.11" y1="440.60" x2="431.21" y2="440.60" stroke="#111" stroke-width="0.9" />
<text x="428.90" y="436.15" font-size="6.0" text-anchor="middle" fill="#111" stroke="#111" stroke-width="0.14" font-family='"Liberation Sans", sans-serif' font-weight="normal" >p=0.605</text>
<path d="M446.55,484.40 L449.04,484.40 L449.05,482.03 L449.07,479.66 L449.09,477.29 L449.10,474.93 L449.11,472.56 L449.12,470.19 L449.13,467.82 L449.14,465.45 L449.14,463.08 L449.15,460.72 L449.15,458.35 L449.15,455.98 L449.14,453.61 L449.11,451.24 L449.08,448.87 L449.04,446.51 L448.99,444.14 L448.93,441.77 L448.87,439.40 L448.79,437.03 L448.71,434.66 L448.63,432.29 L448.54,429.93 L448.44,427.56 L448.35,425.19 L448.25,422.82 L448.15,420.45 L448.05,418.08 L447.95,415.72 L447.85,413.35 L447.76,410.98 L447.66,408.61 L447.57,406.24 L447.49,403.87 L447.40,401.51 L447.33,399.14 L447.25,396.77 L447.18,394.40 L447.12,392.03 L447.06,389.66 L447.00,387.29 L446.95,384.93 L446.90,382.56 L446.86,380.19 L446.82,377.82 L446.79,375.45 L446.76,373.08 L446.73,370.72 L446.73,368.35 L446.73,365.98 L446.73,363.61 L446.73,361.24 L446.73,358.87 L446.73,356.51 L446.73,354.14 L446.73,351.77 L446.73,349.40 L446.73,347.03 L446.73,344.66 L446.55,342.29 L446.55,342.29 L446.37,344.66 L446.37,347.03 L446.37,349.40 L446.37,351.77 L446.37,354.14 L446.37,356.51 L446.37,358.87 L446.37,361.24 L446.37,363.61 L446.37,365.98 L446.37,368.35 L446.37,370.72 L446.34,373.08 L446.31,375.45 L446.28,377.82 L446.24,380.19 L446.20,382.56 L446.15,384.93 L446.10,387.29 L446.04,389.66 L445.98,392.03 L445.92,394.40 L445.85,396.77 L445.77,399.14 L445.70,401.51 L445.61,403.87 L445.53,406.24 L445.44,408.61 L445.34,410.98 L445.25,413.35 L445.15,415.72 L445.05,418.08 L444.95,420.45 L444.85,422.82 L444.75,425.19 L444.66,427.56 L444.56,429.93 L444.47,432.29 L444.39,434.66 L444.31,437.03 L444.23,439.40 L444.17,441.77 L444.11,444.14 L444.06,446.51 L444.02,448.87 L443.99,451.24 L443.96,453.61 L443.95,455.98 L443.95,458.35 L443.95,460.72 L443.96,463.08 L443.96,465.45 L443.97,467.82 L443.98,470.19 L443.99,472.56 L444.00,474.93 L444.01,477.29 L444.03,479.66 L444.05,482.03 L444.06,484.40 Z" fill="#2b78b9" stroke="#000" stroke-width="0.95" stroke-linejoin="round"/>
<line x1="446.55" y1="484.40" x2="446.55" y2="342.29" stroke="#000" stroke-width="0.8" />
<circle cx="446.55" cy="451.72" r="1.9" fill="#fff"/>
<path d="M453.75,484.40 L456.18,484.40 L456.21,481.64 L456.23,478.87 L456.25,476.11 L456.27,473.35 L456.29,470.58 L456.31,467.82 L456.32,465.06 L456.33,462.29 L456.34,459.53 L456.35,456.77 L456.35,454.01 L456.35,451.24 L456.34,448.48 L456.33,445.72 L456.30,442.95 L456.27,440.19 L456.23,437.43 L456.18,434.66 L456.12,431.90 L456.05,429.14 L455.98,426.37 L455.90,423.61 L455.81,420.85 L455.73,418.08 L455.63,415.32 L455.54,412.56 L455.44,409.79 L455.35,407.03 L455.25,404.27 L455.15,401.51 L455.06,398.74 L454.97,395.98 L454.88,393.22 L454.79,390.45 L454.70,387.69 L454.62,384.93 L454.54,382.16 L454.47,379.40 L454.40,376.64 L454.34,373.87 L454.28,371.11 L454.22,368.35 L454.17,365.58 L454.12,362.82 L454.08,360.06 L454.04,357.29 L454.01,354.53 L453.97,351.77 L453.94,349.01 L453.93,346.24 L453.93,343.48 L453.93,340.72 L453.93,337.95 L453.93,335.19 L453.93,332.43 L453.93,329.66 L453.93,326.90 L453.93,324.14 L453.93,321.37 L453.75,318.61 L453.75,318.61 L453.57,321.37 L453.57,324.14 L453.57,326.90 L453.57,329.66 L453.57,332.43 L453.57,335.19 L453.57,337.95 L453.57,340.72 L453.57,343.48 L453.57,346.24 L453.56,349.01 L453.53,351.77 L453.49,354.53 L453.46,357.29 L453.42,360.06 L453.38,362.82 L453.33,365.58 L453.28,368.35 L453.22,371.11 L453.16,373.87 L453.10,376.64 L453.03,379.40 L452.96,382.16 L452.88,384.93 L452.80,387.69 L452.71,390.45 L452.62,393.22 L452.53,395.98 L452.44,398.74 L452.35,401.51 L452.25,404.27 L452.15,407.03 L452.06,409.79 L451.96,412.56 L451.87,415.32 L451.77,418.08 L451.69,420.85 L451.60,423.61 L451.52,426.37 L451.45,429.14 L451.38,431.90 L451.32,434.66 L451.27,437.43 L451.23,440.19 L451.20,442.95 L451.17,445.72 L451.16,448.48 L451.15,451.24 L451.15,454.01 L451.15,456.77 L451.16,459.53 L451.17,462.29 L451.18,465.06 L451.19,467.82 L451.21,470.58 L451.23,473.35 L451.25,476.11 L451.27,478.87 L451.29,481.64 L451.32,484.40 Z" fill="#dc1a1f" stroke="#000" stroke-width="0.95" stroke-linejoin="round"/>
<line x1="453.75" y1="484.40" x2="453.75" y2="318.61" stroke="#000" stroke-width="0.8" />
<circle cx="453.75" cy="442.13" r="1.9" fill="#fff"/>
<line x1="447.85" y1="318.50" x2="452.95" y2="318.50" stroke="#111" stroke-width="0.9" />
<text x="450.50" y="314.35" font-size="6.0" text-anchor="middle" fill="#111" stroke="#111" stroke-width="0.14" font-family='"Liberation Sans", sans-serif' font-weight="normal" >p=0.370</text>
<path d="M468.29,484.40 L470.89,484.40 L470.66,484.14 L470.08,483.88 L469.41,483.62 L468.87,483.36 L468.54,483.10 L468.47,482.84 L468.47,482.58 L468.47,482.32 L468.47,482.06 L468.47,481.80 L468.47,481.54 L468.47,481.28 L468.47,481.02 L468.47,480.76 L468.47,480.50 L468.47,480.24 L468.47,479.98 L468.47,479.72 L468.47,479.46 L468.47,479.20 L468.47,478.94 L468.47,478.68 L468.47,478.42 L468.47,478.16 L468.47,477.90 L468.47,477.64 L468.47,477.38 L468.47,477.12 L468.47,476.87 L468.47,476.61 L468.47,476.35 L468.47,476.09 L468.47,475.83 L468.47,475.57 L468.47,475.31 L468.47,475.05 L468.47,474.79 L468.47,474.53 L468.47,474.27 L468.47,474.01 L468.47,473.75 L468.47,473.49 L468.47,473.23 L468.47,472.97 L468.47,472.71 L468.47,472.45 L468.47,472.19 L468.47,471.93 L468.47,471.67 L468.47,471.41 L468.47,471.15 L468.47,470.89 L468.47,470.63 L468.47,470.37 L468.47,470.11 L468.47,469.85 L468.47,469.59 L468.47,469.33 L468.47,469.07 L468.29,468.81 L468.29,468.81 L468.11,469.07 L468.11,469.33 L468.11,469.59 L468.11,469.85 L468.11,470.11 L468.11,470.37 L468.11,470.63 L468.11,470.89 L468.11,471.15 L468.11,471.41 L468.11,471.67 L468.11,471.93 L468.11,472.19 L468.11,472.45 L468.11,472.71 L468.11,472.97 L468.11,473.23 L468.11,473.49 L468.11,473.75 L468.11,474.01 L468.11,474.27 L468.11,474.53 L468.11,474.79 L468.11,475.05 L468.11,475.31 L468.11,475.57 L468.11,475.83 L468.11,476.09 L468.11,476.35 L468.11,476.61 L468.11,476.87 L468.11,477.12 L468.11,477.38 L468.11,477.64 L468.11,477.90 L468.11,478.16 L468.11,478.42 L468.11,478.68 L468.11,478.94 L468.11,479.20 L468.11,479.46 L468.11,479.72 L468.11,479.98 L468.11,480.24 L468.11,480.50 L468.11,480.76 L468.11,481.02 L468.11,481.28 L468.11,481.54 L468.11,481.80 L468.11,482.06 L468.11,482.32 L468.11,482.58 L468.11,482.84 L468.04,483.10 L467.71,483.36 L467.17,483.62 L466.50,483.88 L465.92,484.14 L465.69,484.40 Z" fill="#2b78b9" stroke="#000" stroke-width="0.95" stroke-linejoin="round"/>
<line x1="468.29" y1="484.40" x2="468.29" y2="468.81" stroke="#000" stroke-width="0.8" />
<circle cx="468.29" cy="484.40" r="1.9" fill="#fff"/>
<path d="M475.49,484.40 L478.09,484.40 L478.08,484.18 L478.04,483.95 L477.99,483.73 L477.91,483.50 L477.82,483.28 L477.71,483.05 L477.59,482.83 L477.45,482.60 L477.31,482.38 L477.17,482.15 L477.02,481.93 L476.87,481.70 L476.73,481.48 L476.59,481.25 L476.46,481.03 L476.33,480.80 L476.22,480.58 L476.12,480.35 L476.02,480.13 L475.94,479.90 L475.86,479.68 L475.80,479.45 L475.74,479.23 L475.70,479.00 L475.67,478.78 L475.67,478.55 L475.67,478.33 L475.67,478.10 L475.67,477.88 L475.67,477.65 L475.67,477.43 L475.67,477.20 L475.67,476.98 L475.67,476.76 L475.67,476.53 L475.67,476.31 L475.67,476.08 L475.67,475.86 L475.67,475.63 L475.67,475.41 L475.67,475.18 L475.67,474.96 L475.67,474.73 L475.67,474.51 L475.67,474.28 L475.67,474.06 L475.67,473.83 L475.67,473.61 L475.67,473.38 L475.67,473.16 L475.67,472.93 L475.67,472.71 L475.67,472.48 L475.67,472.26 L475.67,472.03 L475.67,471.81 L475.67,471.58 L475.67,471.36 L475.67,471.13 L475.49,470.91 L475.49,470.91 L475.31,471.13 L475.31,471.36 L475.31,471.58 L475.31,471.81 L475.31,472.03 L475.31,472.26 L475.31,472.48 L475.31,472.71 L475.31,472.93 L475.31,473.16 L475.31,473.38 L475.31,473.61 L475.31,473.83 L475.31,474.06 L475.31,474.28 L475.31,474.51 L475.31,474.73 L475.31,474.96 L475.31,475.18 L475.31,475.41 L475.31,475.63 L475.31,475.86 L475.31,476.08 L475.31,476.31 L475.31,476.53 L475.31,476.76 L475.31,476.98 L475.31,477.20 L475.31,477.43 L475.31,477.65 L475.31,477.88 L475.31,478.10 L475.31,478.33 L475.31,478.55 L475.31,478.78 L475.28,479.00 L475.24,479.23 L475.18,479.45 L475.12,479.68 L475.04,479.90 L474.96,480.13 L474.86,480.35 L474.76,480.58 L474.65,480.80 L474.52,481.03 L474.39,481.25 L474.25,481.48 L474.11,481.70 L473.96,481.93 L473.81,482.15 L473.67,482.38 L473.53,482.60 L473.39,482.83 L473.27,483.05 L473.16,483.28 L473.07,483.50 L472.99,483.73 L472.94,483.95 L472.90,484.18 L472.89,484.40 Z" fill="#dc1a1f" stroke="#000" stroke-width="0.95" stroke-linejoin="round"/>
<line x1="475.49" y1="484.40" x2="475.49" y2="470.91" stroke="#000" stroke-width="0.8" />
<circle cx="475.49" cy="484.40" r="1.9" fill="#fff"/>
<line x1="469.59" y1="468.40" x2="474.69" y2="468.40" stroke="#111" stroke-width="0.9" />
<text x="472.30" y="464.35" font-size="6.0" text-anchor="middle" fill="#111" stroke="#111" stroke-width="0.14" font-family='"Liberation Sans", sans-serif' font-weight="normal" >p=0.314</text>
<path d="M490.03,484.40 L490.38,484.40 L490.47,483.35 L490.58,482.30 L490.70,481.25 L490.83,480.20 L490.98,479.15 L491.15,478.10 L491.32,477.05 L491.50,476.01 L491.69,474.96 L491.87,473.91 L492.04,472.86 L492.20,471.81 L492.34,470.76 L492.46,469.71 L492.55,468.66 L492.61,467.61 L492.63,466.56 L492.62,465.51 L492.60,464.46 L492.55,463.41 L492.49,462.36 L492.41,461.32 L492.31,460.27 L492.20,459.22 L492.08,458.17 L491.96,457.12 L491.82,456.07 L491.69,455.02 L491.55,453.97 L491.41,452.92 L491.28,451.87 L491.15,450.82 L491.02,449.77 L490.91,448.72 L490.80,447.67 L490.70,446.63 L490.60,445.58 L490.52,444.53 L490.45,443.48 L490.38,442.43 L490.32,441.38 L490.27,440.33 L490.23,439.28 L490.21,438.23 L490.21,437.18 L490.21,436.13 L490.21,435.08 L490.21,434.03 L490.21,432.98 L490.21,431.94 L490.21,430.89 L490.21,429.84 L490.21,428.79 L490.21,427.74 L490.21,426.69 L490.21,425.64 L490.21,424.59 L490.21,423.54 L490.21,422.49 L490.03,421.44 L490.03,421.44 L489.85,422.49 L489.85,423.54 L489.85,424.59 L489.85,425.64 L489.85,426.69 L489.85,427.74 L489.85,428.79 L489.85,429.84 L489.85,430.89 L489.85,431.94 L489.85,432.98 L489.85,434.03 L489.85,435.08 L489.85,436.13 L489.85,437.18 L489.85,438.23 L489.83,439.28 L489.79,440.33 L489.74,441.38 L489.68,442.43 L489.61,443.48 L489.54,444.53 L489.46,445.58 L489.36,446.63 L489.26,447.67 L489.15,448.72 L489.04,449.77 L488.91,450.82 L488.78,451.87 L488.65,452.92 L488.51,453.97 L488.37,455.02 L488.24,456.07 L488.10,457.12 L487.98,458.17 L487.86,459.22 L487.75,460.27 L487.65,461.32 L487.57,462.36 L487.51,463.41 L487.46,464.46 L487.44,465.51 L487.43,466.56 L487.45,467.61 L487.51,468.66 L487.60,469.71 L487.72,470.76 L487.86,471.81 L488.02,472.86 L488.19,473.91 L488.37,474.96 L488.56,476.01 L488.74,477.05 L488.91,478.10 L489.08,479.15 L489.23,480.20 L489.36,481.25 L489.48,482.30 L489.59,483.35 L489.68,484.40 Z" fill="#2b78b9" stroke="#000" stroke-width="0.95" stroke-linejoin="round"/>
<line x1="490.03" y1="484.40" x2="490.03" y2="421.44" stroke="#000" stroke-width="0.8" />
<circle cx="490.03" cy="466.71" r="1.9" fill="#fff"/>
<path d="M497.23,484.40 L497.71,484.40 L497.79,483.66 L497.88,482.91 L497.97,482.17 L498.07,481.42 L498.18,480.68 L498.29,479.93 L498.41,479.19 L498.54,478.44 L498.67,477.70 L498.80,476.95 L498.93,476.21 L499.06,475.47 L499.18,474.72 L499.30,473.98 L499.41,473.23 L499.51,472.49 L499.60,471.74 L499.68,471.00 L499.74,470.25 L499.79,469.51 L499.82,468.77 L499.83,468.02 L499.83,467.28 L499.81,466.53 L499.78,465.79 L499.73,465.04 L499.68,464.30 L499.62,463.55 L499.54,462.81 L499.46,462.06 L499.36,461.32 L499.27,460.58 L499.16,459.83 L499.06,459.09 L498.95,458.34 L498.83,457.60 L498.72,456.85 L498.61,456.11 L498.50,455.36 L498.40,454.62 L498.29,453.88 L498.19,453.13 L498.10,452.39 L498.01,451.64 L497.93,450.90 L497.85,450.15 L497.78,449.41 L497.71,448.66 L497.65,447.92 L497.60,447.17 L497.55,446.43 L497.51,445.69 L497.47,444.94 L497.43,444.20 L497.41,443.45 L497.41,442.71 L497.41,441.96 L497.41,441.22 L497.41,440.47 L497.23,439.73 L497.23,439.73 L497.05,440.47 L497.05,441.22 L497.05,441.96 L497.05,442.71 L497.05,443.45 L497.03,444.20 L496.99,444.94 L496.95,445.69 L496.91,446.43 L496.86,447.17 L496.81,447.92 L496.75,448.66 L496.68,449.41 L496.61,450.15 L496.53,450.90 L496.45,451.64 L496.36,452.39 L496.27,453.13 L496.17,453.88 L496.06,454.62 L495.96,455.36 L495.85,456.11 L495.74,456.85 L495.63,457.60 L495.51,458.34 L495.40,459.09 L495.30,459.83 L495.19,460.58 L495.10,461.32 L495.00,462.06 L494.92,462.81 L494.84,463.55 L494.78,464.30 L494.73,465.04 L494.68,465.79 L494.65,466.53 L494.63,467.28 L494.63,468.02 L494.64,468.77 L494.67,469.51 L494.72,470.25 L494.78,471.00 L494.86,471.74 L494.95,472.49 L495.05,473.23 L495.16,473.98 L495.28,474.72 L495.40,475.47 L495.53,476.21 L495.66,476.95 L495.79,477.70 L495.92,478.44 L496.05,479.19 L496.17,479.93 L496.28,480.68 L496.39,481.42 L496.49,482.17 L496.58,482.91 L496.67,483.66 L496.75,484.40 Z" fill="#dc1a1f" stroke="#000" stroke-width="0.95" stroke-linejoin="round"/>
<line x1="497.23" y1="484.40" x2="497.23" y2="439.73" stroke="#000" stroke-width="0.8" />
<circle cx="497.23" cy="467.91" r="1.9" fill="#fff"/>
<line x1="491.33" y1="421.30" x2="496.43" y2="421.30" stroke="#111" stroke-width="0.9" />
<text x="494.00" y="417.05" font-size="6.0" text-anchor="middle" fill="#111" stroke="#111" stroke-width="0.14" font-family='"Liberation Sans", sans-serif' font-weight="normal" >p=0.389</text>
<path d="M511.77,484.40 L514.37,484.40 L514.34,483.50 L514.26,482.60 L514.12,481.70 L513.94,480.80 L513.73,479.90 L513.50,479.00 L513.27,478.10 L513.04,477.20 L512.82,476.31 L512.61,475.41 L512.44,474.51 L512.28,473.61 L512.16,472.71 L512.06,471.81 L511.98,470.91 L511.95,470.01 L511.95,469.11 L511.95,468.21 L511.95,467.31 L511.95,466.41 L511.95,465.51 L511.95,464.61 L511.95,463.71 L511.95,462.81 L511.95,461.91 L511.95,461.02 L511.95,460.12 L511.95,459.22 L511.95,458.32 L511.95,457.42 L511.95,456.52 L511.95,455.62 L511.95,454.72 L511.95,453.82 L511.95,452.92 L511.95,452.02 L511.95,451.12 L511.95,450.22 L511.95,449.32 L511.95,448.42 L511.95,447.52 L511.95,446.63 L511.95,445.73 L511.95,444.83 L511.95,443.93 L511.95,443.03 L511.95,442.13 L511.95,441.23 L511.95,440.33 L511.95,439.43 L511.95,438.53 L511.95,437.63 L511.95,436.73 L511.95,435.83 L511.95,434.93 L511.95,434.03 L511.95,433.13 L511.95,432.23 L511.95,431.34 L511.77,430.44 L511.77,430.44 L511.59,431.34 L511.59,432.23 L511.59,433.13 L511.59,434.03 L511.59,434.93 L511.59,435.83 L511.59,436.73 L511.59,437.63 L511.59,438.53 L511.59,439.43 L511.59,440.33 L511.59,441.23 L511.59,442.13 L511.59,443.03 L511.59,443.93 L511.59,444.83 L511.59,445.73 L511.59,446.63 L511.59,447.52 L511.59,448.42 L511.59,449.32 L511.59,450.22 L511.59,451.12 L511.59,452.02 L511.59,452.92 L511.59,453.82 L511.59,454.72 L511.59,455.62 L511.59,456.52 L511.59,457.42 L511.59,458.32 L511.59,459.22 L511.59,460.12 L511.59,461.02 L511.59,461.91 L511.59,462.81 L511.59,463.71 L511.59,464.61 L511.59,465.51 L511.59,466.41 L511.59,467.31 L511.59,468.21 L511.59,469.11 L511.59,470.01 L511.56,470.91 L511.48,471.81 L511.38,472.71 L511.26,473.61 L511.10,474.51 L510.93,475.41 L510.72,476.31 L510.50,477.20 L510.27,478.10 L510.04,479.00 L509.81,479.90 L509.60,480.80 L509.42,481.70 L509.28,482.60 L509.20,483.50 L509.17,484.40 Z" fill="#2b78b9" stroke="#000" stroke-width="0.95" stroke-linejoin="round"/>
<line x1="511.77" y1="484.40" x2="511.77" y2="430.44" stroke="#000" stroke-width="0.8" />
<circle cx="511.77" cy="484.40" r="1.9" fill="#fff"/>
<path d="M518.97,484.40 L521.53,484.40 L521.55,481.72 L521.56,479.03 L521.56,476.35 L521.57,473.67 L521.57,470.98 L521.57,468.30 L521.56,465.62 L521.54,462.93 L521.52,460.25 L521.48,457.57 L521.44,454.88 L521.39,452.20 L521.33,449.52 L521.26,446.84 L521.19,444.15 L521.11,441.47 L521.03,438.79 L520.95,436.10 L520.86,433.42 L520.77,430.74 L520.67,428.05 L520.58,425.37 L520.49,422.69 L520.39,420.00 L520.30,417.32 L520.21,414.64 L520.12,411.95 L520.03,409.27 L519.95,406.59 L519.87,403.90 L519.79,401.22 L519.72,398.54 L519.65,395.85 L519.59,393.17 L519.53,390.49 L519.47,387.80 L519.42,385.12 L519.37,382.44 L519.33,379.75 L519.29,377.07 L519.25,374.39 L519.22,371.71 L519.19,369.02 L519.16,366.34 L519.15,363.66 L519.15,360.97 L519.15,358.29 L519.15,355.61 L519.15,352.92 L519.15,350.24 L519.15,347.56 L519.15,344.87 L519.15,342.19 L519.15,339.51 L519.15,336.82 L519.15,334.14 L519.15,331.46 L519.15,328.77 L519.15,326.09 L518.97,323.41 L518.97,323.41 L518.79,326.09 L518.79,328.77 L518.79,331.46 L518.79,334.14 L518.79,336.82 L518.79,339.51 L518.79,342.19 L518.79,344.87 L518.79,347.56 L518.79,350.24 L518.79,352.92 L518.79,355.61 L518.79,358.29 L518.79,360.97 L518.79,363.66 L518.78,366.34 L518.75,369.02 L518.72,371.71 L518.69,374.39 L518.65,377.07 L518.61,379.75 L518.57,382.44 L518.52,385.12 L518.47,387.80 L518.41,390.49 L518.35,393.17 L518.29,395.85 L518.22,398.54 L518.15,401.22 L518.07,403.90 L517.99,406.59 L517.91,409.27 L517.82,411.95 L517.73,414.64 L517.64,417.32 L517.55,420.00 L517.45,422.69 L517.36,425.37 L517.27,428.05 L517.17,430.74 L517.08,433.42 L516.99,436.10 L516.91,438.79 L516.83,441.47 L516.75,444.15 L516.68,446.84 L516.61,449.52 L516.55,452.20 L516.50,454.88 L516.46,457.57 L516.42,460.25 L516.40,462.93 L516.38,465.62 L516.37,468.30 L516.37,470.98 L516.37,473.67 L516.38,476.35 L516.38,479.03 L516.39,481.72 L516.41,484.40 Z" fill="#dc1a1f" stroke="#000" stroke-width="0.95" stroke-linejoin="round"/>
<line x1="518.97" y1="484.40" x2="518.97" y2="323.41" stroke="#000" stroke-width="0.8" />
<circle cx="518.97" cy="471.81" r="1.9" fill="#fff"/>
<line x1="513.07" y1="323.30" x2="518.17" y2="323.30" stroke="#111" stroke-width="0.9" />
<text x="515.70" y="319.55" font-size="6.0" text-anchor="middle" fill="#111" stroke="#111" stroke-width="0.14" font-family='"Liberation Sans", sans-serif' font-weight="normal" >p<0.001</text>
<path d="M533.51,484.40 L536.11,484.40 L536.07,483.37 L535.96,482.33 L535.78,481.30 L535.56,480.26 L535.30,479.23 L535.03,478.19 L534.76,477.16 L534.51,476.13 L534.29,475.09 L534.10,474.06 L533.94,473.02 L533.82,471.99 L533.72,470.95 L533.69,469.92 L533.69,468.89 L533.69,467.85 L533.69,466.82 L533.69,465.78 L533.69,464.75 L533.69,463.71 L533.69,462.68 L533.69,461.65 L533.69,460.61 L533.69,459.58 L533.69,458.54 L533.69,457.51 L533.69,456.47 L533.69,455.44 L533.69,454.41 L533.69,453.37 L533.69,452.34 L533.69,451.30 L533.69,450.27 L533.69,449.23 L533.69,448.20 L533.69,447.16 L533.69,446.13 L533.69,445.10 L533.69,444.06 L533.69,443.03 L533.69,441.99 L533.69,440.96 L533.69,439.92 L533.69,438.89 L533.69,437.86 L533.69,436.82 L533.69,435.79 L533.69,434.75 L533.69,433.72 L533.69,432.68 L533.69,431.65 L533.69,430.62 L533.69,429.58 L533.69,428.55 L533.69,427.51 L533.69,426.48 L533.69,425.44 L533.69,424.41 L533.69,423.38 L533.51,422.34 L533.51,422.34 L533.33,423.38 L533.33,424.41 L533.33,425.44 L533.33,426.48 L533.33,427.51 L533.33,428.55 L533.33,429.58 L533.33,430.62 L533.33,431.65 L533.33,432.68 L533.33,433.72 L533.33,434.75 L533.33,435.79 L533.33,436.82 L533.33,437.86 L533.33,438.89 L533.33,439.92 L533.33,440.96 L533.33,441.99 L533.33,443.03 L533.33,444.06 L533.33,445.10 L533.33,446.13 L533.33,447.16 L533.33,448.20 L533.33,449.23 L533.33,450.27 L533.33,451.30 L533.33,452.34 L533.33,453.37 L533.33,454.41 L533.33,455.44 L533.33,456.47 L533.33,457.51 L533.33,458.54 L533.33,459.58 L533.33,460.61 L533.33,461.65 L533.33,462.68 L533.33,463.71 L533.33,464.75 L533.33,465.78 L533.33,466.82 L533.33,467.85 L533.33,468.89 L533.33,469.92 L533.30,470.95 L533.20,471.99 L533.08,473.02 L532.92,474.06 L532.73,475.09 L532.51,476.13 L532.26,477.16 L531.99,478.19 L531.72,479.23 L531.46,480.26 L531.24,481.30 L531.06,482.33 L530.95,483.37 L530.91,484.40 Z" fill="#2b78b9" stroke="#000" stroke-width="0.95" stroke-linejoin="round"/>
<line x1="533.51" y1="484.40" x2="533.51" y2="422.34" stroke="#000" stroke-width="0.8" />
<circle cx="533.51" cy="484.40" r="1.9" fill="#fff"/>
<line x1="537.81" y1="484.40" x2="543.61" y2="484.40" stroke="#000" stroke-width="1.0" />
<circle cx="540.71" cy="484.40" r="1.9" fill="#fff"/>
<line x1="534.81" y1="422.00" x2="539.91" y2="422.00" stroke="#111" stroke-width="0.9" />
<text x="537.40" y="417.95" font-size="6.0" text-anchor="middle" fill="#111" stroke="#111" stroke-width="0.14" font-family='"Liberation Sans", sans-serif' font-weight="normal" >p<0.001</text>
<line x1="552.35" y1="484.40" x2="558.15" y2="484.40" stroke="#000" stroke-width="1.0" />
<circle cx="555.25" cy="484.40" r="1.9" fill="#fff"/>
<path d="M562.45,484.40 L565.05,484.40 L565.03,484.04 L564.98,483.68 L564.89,483.32 L564.77,482.96 L564.62,482.60 L564.46,482.24 L564.28,481.88 L564.09,481.52 L563.90,481.16 L563.72,480.80 L563.54,480.44 L563.37,480.08 L563.22,479.72 L563.08,479.36 L562.96,479.00 L562.86,478.64 L562.77,478.28 L562.70,477.92 L562.64,477.56 L562.63,477.20 L562.63,476.85 L562.63,476.49 L562.63,476.13 L562.63,475.77 L562.63,475.41 L562.63,475.05 L562.63,474.69 L562.63,474.33 L562.63,473.97 L562.63,473.61 L562.63,473.25 L562.63,472.89 L562.63,472.53 L562.63,472.17 L562.63,471.81 L562.63,471.45 L562.63,471.09 L562.63,470.73 L562.63,470.37 L562.63,470.01 L562.63,469.65 L562.63,469.29 L562.63,468.93 L562.63,468.57 L562.63,468.21 L562.63,467.85 L562.63,467.49 L562.63,467.13 L562.63,466.77 L562.63,466.41 L562.63,466.05 L562.63,465.69 L562.63,465.33 L562.63,464.97 L562.63,464.61 L562.63,464.25 L562.63,463.89 L562.63,463.53 L562.63,463.17 L562.45,462.81 L562.45,462.81 L562.27,463.17 L562.27,463.53 L562.27,463.89 L562.27,464.25 L562.27,464.61 L562.27,464.97 L562.27,465.33 L562.27,465.69 L562.27,466.05 L562.27,466.41 L562.27,466.77 L562.27,467.13 L562.27,467.49 L562.27,467.85 L562.27,468.21 L562.27,468.57 L562.27,468.93 L562.27,469.29 L562.27,469.65 L562.27,470.01 L562.27,470.37 L562.27,470.73 L562.27,471.09 L562.27,471.45 L562.27,471.81 L562.27,472.17 L562.27,472.53 L562.27,472.89 L562.27,473.25 L562.27,473.61 L562.27,473.97 L562.27,474.33 L562.27,474.69 L562.27,475.05 L562.27,475.41 L562.27,475.77 L562.27,476.13 L562.27,476.49 L562.27,476.85 L562.27,477.20 L562.26,477.56 L562.20,477.92 L562.13,478.28 L562.04,478.64 L561.94,479.00 L561.82,479.36 L561.68,479.72 L561.53,480.08 L561.36,480.44 L561.18,480.80 L561.00,481.16 L560.81,481.52 L560.62,481.88 L560.44,482.24 L560.28,482.60 L560.13,482.96 L560.01,483.32 L559.92,483.68 L559.87,484.04 L559.85,484.40 Z" fill="#dc1a1f" stroke="#000" stroke-width="0.95" stroke-linejoin="round"/>
<line x1="562.45" y1="484.40" x2="562.45" y2="462.81" stroke="#000" stroke-width="0.8" />
<circle cx="562.45" cy="484.40" r="1.9" fill="#fff"/>
<line x1="556.55" y1="462.40" x2="561.65" y2="462.40" stroke="#111" stroke-width="0.9" />
<text x="559.40" y="458.35" font-size="6.0" text-anchor="middle" fill="#111" stroke="#111" stroke-width="0.14" font-family='"Liberation Sans", sans-serif' font-weight="normal" >p=0.115</text>
<path d="M576.99,484.40 L579.59,484.40 L579.58,484.15 L579.55,483.89 L579.51,483.64 L579.44,483.38 L579.37,483.13 L579.27,482.87 L579.17,482.62 L579.05,482.36 L578.93,482.11 L578.80,481.85 L578.67,481.60 L578.54,481.34 L578.40,481.09 L578.27,480.83 L578.14,480.58 L578.02,480.32 L577.91,480.07 L577.80,479.81 L577.70,479.56 L577.60,479.30 L577.52,479.05 L577.44,478.79 L577.37,478.54 L577.31,478.28 L577.26,478.03 L577.22,477.77 L577.18,477.52 L577.17,477.26 L577.17,477.01 L577.17,476.76 L577.17,476.50 L577.17,476.25 L577.17,475.99 L577.17,475.74 L577.17,475.48 L577.17,475.23 L577.17,474.97 L577.17,474.72 L577.17,474.46 L577.17,474.21 L577.17,473.95 L577.17,473.70 L577.17,473.44 L577.17,473.19 L577.17,472.93 L577.17,472.68 L577.17,472.42 L577.17,472.17 L577.17,471.91 L577.17,471.66 L577.17,471.40 L577.17,471.15 L577.17,470.89 L577.17,470.64 L577.17,470.38 L577.17,470.13 L577.17,469.87 L577.17,469.62 L577.17,469.37 L576.99,469.11 L576.99,469.11 L576.81,469.37 L576.81,469.62 L576.81,469.87 L576.81,470.13 L576.81,470.38 L576.81,470.64 L576.81,470.89 L576.81,471.15 L576.81,471.40 L576.81,471.66 L576.81,471.91 L576.81,472.17 L576.81,472.42 L576.81,472.68 L576.81,472.93 L576.81,473.19 L576.81,473.44 L576.81,473.70 L576.81,473.95 L576.81,474.21 L576.81,474.46 L576.81,474.72 L576.81,474.97 L576.81,475.23 L576.81,475.48 L576.81,475.74 L576.81,475.99 L576.81,476.25 L576.81,476.50 L576.81,476.76 L576.81,477.01 L576.81,477.26 L576.80,477.52 L576.76,477.77 L576.72,478.03 L576.67,478.28 L576.61,478.54 L576.54,478.79 L576.46,479.05 L576.38,479.30 L576.28,479.56 L576.18,479.81 L576.07,480.07 L575.96,480.32 L575.84,480.58 L575.71,480.83 L575.58,481.09 L575.44,481.34 L575.31,481.60 L575.18,481.85 L575.05,482.11 L574.93,482.36 L574.81,482.62 L574.71,482.87 L574.61,483.13 L574.54,483.38 L574.47,483.64 L574.43,483.89 L574.40,484.15 L574.39,484.40 Z" fill="#2b78b9" stroke="#000" stroke-width="0.95" stroke-linejoin="round"/>
<line x1="576.99" y1="484.40" x2="576.99" y2="469.11" stroke="#000" stroke-width="0.8" />
<circle cx="576.99" cy="484.40" r="1.9" fill="#fff"/>
<path d="M584.19,484.40 L586.79,484.40 L586.77,483.71 L586.72,483.01 L586.64,482.32 L586.53,481.62 L586.39,480.93 L586.23,480.23 L586.06,479.54 L585.88,478.84 L585.70,478.15 L585.52,477.45 L585.34,476.76 L585.18,476.07 L585.03,475.37 L584.89,474.68 L584.76,473.98 L584.66,473.29 L584.56,472.59 L584.49,471.90 L584.42,471.20 L584.37,470.51 L584.37,469.81 L584.37,469.12 L584.37,468.43 L584.37,467.73 L584.37,467.04 L584.37,466.34 L584.37,465.65 L584.37,464.95 L584.37,464.26 L584.37,463.56 L584.37,462.87 L584.37,462.17 L584.37,461.48 L584.37,460.79 L584.37,460.09 L584.37,459.40 L584.37,458.70 L584.37,458.01 L584.37,457.31 L584.37,456.62 L584.37,455.92 L584.37,455.23 L584.37,454.53 L584.37,453.84 L584.37,453.15 L584.37,452.45 L584.37,451.76 L584.37,451.06 L584.37,450.37 L584.37,449.67 L584.37,448.98 L584.37,448.28 L584.37,447.59 L584.37,446.90 L584.37,446.20 L584.37,445.51 L584.37,444.81 L584.37,444.12 L584.37,443.42 L584.19,442.73 L584.19,442.73 L584.01,443.42 L584.01,444.12 L584.01,444.81 L584.01,445.51 L584.01,446.20 L584.01,446.90 L584.01,447.59 L584.01,448.28 L584.01,448.98 L584.01,449.67 L584.01,450.37 L584.01,451.06 L584.01,451.76 L584.01,452.45 L584.01,453.15 L584.01,453.84 L584.01,454.53 L584.01,455.23 L584.01,455.92 L584.01,456.62 L584.01,457.31 L584.01,458.01 L584.01,458.70 L584.01,459.40 L584.01,460.09 L584.01,460.79 L584.01,461.48 L584.01,462.17 L584.01,462.87 L584.01,463.56 L584.01,464.26 L584.01,464.95 L584.01,465.65 L584.01,466.34 L584.01,467.04 L584.01,467.73 L584.01,468.43 L584.01,469.12 L584.01,469.81 L584.01,470.51 L583.96,471.20 L583.89,471.90 L583.82,472.59 L583.72,473.29 L583.62,473.98 L583.49,474.68 L583.35,475.37 L583.20,476.07 L583.04,476.76 L582.86,477.45 L582.68,478.15 L582.50,478.84 L582.32,479.54 L582.15,480.23 L581.99,480.93 L581.85,481.62 L581.74,482.32 L581.66,483.01 L581.61,483.71 L581.59,484.40 Z" fill="#dc1a1f" stroke="#000" stroke-width="0.95" stroke-linejoin="round"/>
<line x1="584.19" y1="484.40" x2="584.19" y2="442.73" stroke="#000" stroke-width="0.8" />
<circle cx="584.19" cy="484.40" r="1.9" fill="#fff"/>
<line x1="578.29" y1="442.70" x2="583.39" y2="442.70" stroke="#111" stroke-width="0.9" />
<text x="581.20" y="438.45" font-size="6.0" text-anchor="middle" fill="#111" stroke="#111" stroke-width="0.14" font-family='"Liberation Sans", sans-serif' font-weight="normal" >p=0.046</text>
<rect x="102.55" y="255.50" width="492.95" height="237.50" fill="none" stroke="#111" stroke-width="1.15"/>
<line x1="97.40" y1="484.40" x2="102.55" y2="484.40" stroke="#111" stroke-width="0.9" />
<text x="93.40" y="486.95" font-size="7.2" text-anchor="end" fill="#111" stroke="#111" stroke-width="0.14" font-family='"Liberation Sans", sans-serif' font-weight="normal" >0.0</text>
<line x1="97.40" y1="424.44" x2="102.55" y2="424.44" stroke="#111" stroke-width="0.9" />
<text x="93.40" y="426.99" font-size="7.2" text-anchor="end" fill="#111" stroke="#111" stroke-width="0.14" font-family='"Liberation Sans", sans-serif' font-weight="normal" >0.2</text>
<line x1="97.40" y1="364.48" x2="102.55" y2="364.48" stroke="#111" stroke-width="0.9" />
<text x="93.40" y="367.03" font-size="7.2" text-anchor="end" fill="#111" stroke="#111" stroke-width="0.14" font-family='"Liberation Sans", sans-serif' font-weight="normal" >0.4</text>
<line x1="97.40" y1="304.52" x2="102.55" y2="304.52" stroke="#111" stroke-width="0.9" />
<text x="93.40" y="307.07" font-size="7.2" text-anchor="end" fill="#111" stroke="#111" stroke-width="0.14" font-family='"Liberation Sans", sans-serif' font-weight="normal" >0.6</text>
<text x="74.30" y="374.20" font-size="7.1" text-anchor="middle" fill="#111" stroke="#111" stroke-width="0.14" font-family='"Liberation Sans", sans-serif' font-weight="normal" transform="rotate(-90 74.3 374.2)">Fraction</text>
<line x1="562.50" y1="264.20" x2="577.20" y2="264.20" stroke="#2b78b9" stroke-width="3.0" stroke-linecap="round"/>
<line x1="562.50" y1="273.10" x2="577.20" y2="273.10" stroke="#dc1a1f" stroke-width="3.0" stroke-linecap="round"/>
<text x="582.60" y="266.80" font-size="7.3" text-anchor="start" fill="#111" stroke="#111" stroke-width="0.14" font-family='"Liberation Sans", sans-serif' font-weight="normal" >C1</text>
<text x="582.60" y="275.70" font-size="7.3" text-anchor="start" fill="#111" stroke="#111" stroke-width="0.14" font-family='"Liberation Sans", sans-serif' font-weight="normal" >C2</text>
<text x="124.35" y="494.60" font-size="7.25" text-anchor="end" fill="#111" stroke="#111" stroke-width="0.14" font-family='"Liberation Sans", sans-serif' font-weight="normal" transform="rotate(-45 124.35 494.60)">B.cells.naive</text>
<text x="146.09" y="494.60" font-size="7.25" text-anchor="end" fill="#111" stroke="#111" stroke-width="0.14" font-family='"Liberation Sans", sans-serif' font-weight="normal" transform="rotate(-45 146.09 494.60)">B.cells.memory</text>
<text x="167.83" y="494.60" font-size="7.25" text-anchor="end" fill="#111" stroke="#111" stroke-width="0.14" font-family='"Liberation Sans", sans-serif' font-weight="normal" transform="rotate(-45 167.83 494.60)">Plasma.cells</text>
<text x="189.57" y="494.60" font-size="7.25" text-anchor="end" fill="#e8252a" stroke="#e8252a" stroke-width="0.14" font-family='"Liberation Sans", sans-serif' font-weight="normal" transform="rotate(-45 189.57 494.60)">T.cells.CD8</text>
<text x="211.31" y="494.60" font-size="7.25" text-anchor="end" fill="#111" stroke="#111" stroke-width="0.14" font-family='"Liberation Sans", sans-serif' font-weight="normal" transform="rotate(-45 211.31 494.60)">T.cells.CD4.naive</text>
<text x="233.05" y="494.60" font-size="7.25" text-anchor="end" fill="#111" stroke="#111" stroke-width="0.14" font-family='"Liberation Sans", sans-serif' font-weight="normal" transform="rotate(-45 233.05 494.60)">T.cells.CD4.memory.resting</text>
<text x="254.79" y="494.60" font-size="7.25" text-anchor="end" fill="#111" stroke="#111" stroke-width="0.14" font-family='"Liberation Sans", sans-serif' font-weight="normal" transform="rotate(-45 254.79 494.60)">T.cells.CD4.memory.activated</text>
<text x="276.53" y="494.60" font-size="7.25" text-anchor="end" fill="#111" stroke="#111" stroke-width="0.14" font-family='"Liberation Sans", sans-serif' font-weight="normal" transform="rotate(-45 276.53 494.60)">T.cells.follicular.helper</text>
<text x="298.27" y="494.60" font-size="7.25" text-anchor="end" fill="#111" stroke="#111" stroke-width="0.14" font-family='"Liberation Sans", sans-serif' font-weight="normal" transform="rotate(-45 298.27 494.60)">T.cells.regulatory..Tregs.</text>
<text x="320.01" y="494.60" font-size="7.25" text-anchor="end" fill="#111" stroke="#111" stroke-width="0.14" font-family='"Liberation Sans", sans-serif' font-weight="normal" transform="rotate(-45 320.01 494.60)">T.cells.gamma.delta</text>
<text x="341.75" y="494.60" font-size="7.25" text-anchor="end" fill="#111" stroke="#111" stroke-width="0.14" font-family='"Liberation Sans", sans-serif' font-weight="normal" transform="rotate(-45 341.75 494.60)">NK.cells.resting</text>
<text x="363.49" y="494.60" font-size="7.25" text-anchor="end" fill="#e8252a" stroke="#e8252a" stroke-width="0.14" font-family='"Liberation Sans", sans-serif' font-weight="normal" transform="rotate(-45 363.49 494.60)">NK.cells.activated</text>
<text x="385.23" y="494.60" font-size="7.25" text-anchor="end" fill="#e8252a" stroke="#e8252a" stroke-width="0.14" font-family='"Liberation Sans", sans-serif' font-weight="normal" transform="rotate(-45 385.23 494.60)">Monocytes</text>
<text x="406.97" y="494.60" font-size="7.25" text-anchor="end" fill="#111" stroke="#111" stroke-width="0.14" font-family='"Liberation Sans", sans-serif' font-weight="normal" transform="rotate(-45 406.97 494.60)">Macrophages.M0</text>
<text x="428.71" y="494.60" font-size="7.25" text-anchor="end" fill="#111" stroke="#111" stroke-width="0.14" font-family='"Liberation Sans", sans-serif' font-weight="normal" transform="rotate(-45 428.71 494.60)">Macrophages.M1</text>
<text x="450.45" y="494.60" font-size="7.25" text-anchor="end" fill="#111" stroke="#111" stroke-width="0.14" font-family='"Liberation Sans", sans-serif' font-weight="normal" transform="rotate(-45 450.45 494.60)">Macrophages.M2</text>
<text x="472.19" y="494.60" font-size="7.25" text-anchor="end" fill="#111" stroke="#111" stroke-width="0.14" font-family='"Liberation Sans", sans-serif' font-weight="normal" transform="rotate(-45 472.19 494.60)">Dendritic.cells.resting</text>
<text x="493.93" y="494.60" font-size="7.25" text-anchor="end" fill="#111" stroke="#111" stroke-width="0.14" font-family='"Liberation Sans", sans-serif' font-weight="normal" transform="rotate(-45 493.93 494.60)">Dendritic.cells.activated</text>
<text x="515.67" y="494.60" font-size="7.25" text-anchor="end" fill="#e8252a" stroke="#e8252a" stroke-width="0.14" font-family='"Liberation Sans", sans-serif' font-weight="normal" transform="rotate(-45 515.67 494.60)">Mast.cells.resting</text>
<text x="537.41" y="494.60" font-size="7.25" text-anchor="end" fill="#e8252a" stroke="#e8252a" stroke-width="0.14" font-family='"Liberation Sans", sans-serif' font-weight="normal" transform="rotate(-45 537.41 494.60)">Mast.cells.activated</text>
<text x="559.15" y="494.60" font-size="7.25" text-anchor="end" fill="#111" stroke="#111" stroke-width="0.14" font-family='"Liberation Sans", sans-serif' font-weight="normal" transform="rotate(-45 559.15 494.60)">Eosinophils</text>
<text x="580.89" y="494.60" font-size="7.25" text-anchor="end" fill="#e8252a" stroke="#e8252a" stroke-width="0.14" font-family='"Liberation Sans", sans-serif' font-weight="normal" transform="rotate(-45 580.89 494.60)">Neutrophils</text>
<path d="M62.5,605.0h9v9h-9zM62.5,614.0h9v9h-9zM71.5,614.0h9v9h-9zM62.5,623.0h9v9h-9zM71.5,623.0h9v9h-9zM80.5,623.0h9v9h-9zM62.5,632.0h9v9h-9zM71.5,632.0h9v9h-9zM80.5,632.0h9v9h-9zM89.5,632.0h9v9h-9zM62.5,641.0h9v9h-9zM71.5,641.0h9v9h-9zM80.5,641.0h9v9h-9zM89.5,641.0h9v9h-9zM98.5,641.0h9v9h-9zM62.5,650.0h9v9h-9zM71.5,650.0h9v9h-9zM80.5,650.0h9v9h-9zM89.5,650.0h9v9h-9zM98.5,650.0h9v9h-9zM107.5,650.0h9v9h-9zM62.5,659.0h9v9h-9zM71.5,659.0h9v9h-9zM80.5,659.0h9v9h-9zM89.5,659.0h9v9h-9zM98.5,659.0h9v9h-9zM107.5,659.0h9v9h-9zM116.5,659.0h9v9h-9zM62.5,668.0h9v9h-9zM71.5,668.0h9v9h-9zM80.5,668.0h9v9h-9zM89.5,668.0h9v9h-9zM98.5,668.0h9v9h-9zM107.5,668.0h9v9h-9zM116.5,668.0h9v9h-9zM125.5,668.0h9v9h-9zM62.5,677.0h9v9h-9zM71.5,677.0h9v9h-9zM80.5,677.0h9v9h-9zM89.5,677.0h9v9h-9zM98.5,677.0h9v9h-9zM107.5,677.0h9v9h-9zM116.5,677.0h9v9h-9zM125.5,677.0h9v9h-9zM134.5,677.0h9v9h-9zM62.5,686.0h9v9h-9zM71.5,686.0h9v9h-9zM80.5,686.0h9v9h-9zM89.5,686.0h9v9h-9zM98.5,686.0h9v9h-9zM107.5,686.0h9v9h-9zM116.5,686.0h9v9h-9zM125.5,686.0h9v9h-9zM134.5,686.0h9v9h-9zM143.5,686.0h9v9h-9zM62.5,695.0h9v9h-9zM71.5,695.0h9v9h-9zM80.5,695.0h9v9h-9zM89.5,695.0h9v9h-9zM98.5,695.0h9v9h-9zM107.5,695.0h9v9h-9zM116.5,695.0h9v9h-9zM125.5,695.0h9v9h-9zM134.5,695.0h9v9h-9zM143.5,695.0h9v9h-9zM152.5,695.0h9v9h-9zM62.5,704.0h9v9h-9zM71.5,704.0h9v9h-9zM80.5,704.0h9v9h-9zM89.5,704.0h9v9h-9zM98.5,704.0h9v9h-9zM107.5,704.0h9v9h-9zM116.5,704.0h9v9h-9zM125.5,704.0h9v9h-9zM134.5,704.0h9v9h-9zM143.5,704.0h9v9h-9zM152.5,704.0h9v9h-9zM161.5,704.0h9v9h-9zM62.5,713.0h9v9h-9zM71.5,713.0h9v9h-9zM80.5,713.0h9v9h-9zM89.5,713.0h9v9h-9zM98.5,713.0h9v9h-9zM107.5,713.0h9v9h-9zM116.5,713.0h9v9h-9zM125.5,713.0h9v9h-9zM134.5,713.0h9v9h-9zM143.5,713.0h9v9h-9zM152.5,713.0h9v9h-9zM161.5,713.0h9v9h-9zM170.5,713.0h9v9h-9zM62.5,722.0h9v9h-9zM71.5,722.0h9v9h-9zM80.5,722.0h9v9h-9zM89.5,722.0h9v9h-9zM98.5,722.0h9v9h-9zM107.5,722.0h9v9h-9zM116.5,722.0h9v9h-9zM125.5,722.0h9v9h-9zM134.5,722.0h9v9h-9zM143.5,722.0h9v9h-9zM152.5,722.0h9v9h-9zM161.5,722.0h9v9h-9zM170.5,722.0h9v9h-9zM179.5,722.0h9v9h-9zM62.5,731.0h9v9h-9zM71.5,731.0h9v9h-9zM80.5,731.0h9v9h-9zM89.5,731.0h9v9h-9zM98.5,731.0h9v9h-9zM107.5,731.0h9v9h-9zM116.5,731.0h9v9h-9zM125.5,731.0h9v9h-9zM134.5,731.0h9v9h-9zM143.5,731.0h9v9h-9zM152.5,731.0h9v9h-9zM161.5,731.0h9v9h-9zM170.5,731.0h9v9h-9zM179.5,731.0h9v9h-9zM188.5,731.0h9v9h-9zM62.5,740.0h9v9h-9zM71.5,740.0h9v9h-9zM80.5,740.0h9v9h-9zM89.5,740.0h9v9h-9zM98.5,740.0h9v9h-9zM107.5,740.0h9v9h-9zM116.5,740.0h9v9h-9zM125.5,740.0h9v9h-9zM134.5,740.0h9v9h-9zM143.5,740.0h9v9h-9zM152.5,740.0h9v9h-9zM161.5,740.0h9v9h-9zM170.5,740.0h9v9h-9zM179.5,740.0h9v9h-9zM188.5,740.0h9v9h-9zM197.5,740.0h9v9h-9zM62.5,749.0h9v9h-9zM71.5,749.0h9v9h-9zM80.5,749.0h9v9h-9zM89.5,749.0h9v9h-9zM98.5,749.0h9v9h-9zM107.5,749.0h9v9h-9zM116.5,749.0h9v9h-9zM125.5,749.0h9v9h-9zM134.5,749.0h9v9h-9zM143.5,749.0h9v9h-9zM152.5,749.0h9v9h-9zM161.5,749.0h9v9h-9zM170.5,749.0h9v9h-9zM179.5,749.0h9v9h-9zM188.5,749.0h9v9h-9zM197.5,749.0h9v9h-9zM206.5,749.0h9v9h-9zM62.5,758.0h9v9h-9zM71.5,758.0h9v9h-9zM80.5,758.0h9v9h-9zM89.5,758.0h9v9h-9zM98.5,758.0h9v9h-9zM107.5,758.0h9v9h-9zM116.5,758.0h9v9h-9zM125.5,758.0h9v9h-9zM134.5,758.0h9v9h-9zM143.5,758.0h9v9h-9zM152.5,758.0h9v9h-9zM161.5,758.0h9v9h-9zM170.5,758.0h9v9h-9zM179.5,758.0h9v9h-9zM188.5,758.0h9v9h-9zM197.5,758.0h9v9h-9zM206.5,758.0h9v9h-9zM215.5,758.0h9v9h-9zM62.5,767.0h9v9h-9zM71.5,767.0h9v9h-9zM80.5,767.0h9v9h-9zM89.5,767.0h9v9h-9zM98.5,767.0h9v9h-9zM107.5,767.0h9v9h-9zM116.5,767.0h9v9h-9zM125.5,767.0h9v9h-9zM134.5,767.0h9v9h-9zM143.5,767.0h9v9h-9zM152.5,767.0h9v9h-9zM161.5,767.0h9v9h-9zM170.5,767.0h9v9h-9zM179.5,767.0h9v9h-9zM188.5,767.0h9v9h-9zM197.5,767.0h9v9h-9zM206.5,767.0h9v9h-9zM215.5,767.0h9v9h-9zM224.5,767.0h9v9h-9zM62.5,776.0h9v9h-9zM71.5,776.0h9v9h-9zM80.5,776.0h9v9h-9zM89.5,776.0h9v9h-9zM98.5,776.0h9v9h-9zM107.5,776.0h9v9h-9zM116.5,776.0h9v9h-9zM125.5,776.0h9v9h-9zM134.5,776.0h9v9h-9zM143.5,776.0h9v9h-9zM152.5,776.0h9v9h-9zM161.5,776.0h9v9h-9zM170.5,776.0h9v9h-9zM179.5,776.0h9v9h-9zM188.5,776.0h9v9h-9zM197.5,776.0h9v9h-9zM206.5,776.0h9v9h-9zM215.5,776.0h9v9h-9zM224.5,776.0h9v9h-9zM233.5,776.0h9v9h-9zM62.5,785.0h9v9h-9zM71.5,785.0h9v9h-9zM80.5,785.0h9v9h-9zM89.5,785.0h9v9h-9zM98.5,785.0h9v9h-9zM107.5,785.0h9v9h-9zM116.5,785.0h9v9h-9zM125.5,785.0h9v9h-9zM134.5,785.0h9v9h-9zM143.5,785.0h9v9h-9zM152.5,785.0h9v9h-9zM161.5,785.0h9v9h-9zM170.5,785.0h9v9h-9zM179.5,785.0h9v9h-9zM188.5,785.0h9v9h-9zM197.5,785.0h9v9h-9zM206.5,785.0h9v9h-9zM215.5,785.0h9v9h-9zM224.5,785.0h9v9h-9zM233.5,785.0h9v9h-9zM242.5,785.0h9v9h-9z" fill="#fff" stroke="#cccccc" stroke-width="0.6"/>
<rect x="64.85" y="607.35" width="4.30" height="4.30" fill="#80a9b6" stroke="#648e9c" stroke-width="0.35"/>
<rect x="65.45" y="616.95" width="3.10" height="3.10" fill="#c48a7c" stroke="#a87060" stroke-width="0.35"/>
<rect x="74.45" y="616.95" width="3.10" height="3.10" fill="#8e9496" stroke="#6e7476" stroke-width="0.35"/>
<rect x="65.45" y="625.95" width="3.10" height="3.10" fill="#c48a7c" stroke="#a87060" stroke-width="0.35"/>
<rect x="74.90" y="626.40" width="2.20" height="2.20" fill="#6e7476" />
<rect x="84.35" y="626.85" width="1.30" height="1.30" fill="#6e7476" />
<rect x="65.90" y="635.40" width="2.20" height="2.20" fill="#a87060" />
<rect x="75.35" y="635.85" width="1.30" height="1.30" fill="#6e7476" />
<rect x="83.90" y="635.40" width="2.20" height="2.20" fill="#6e7476" />
<rect x="92.45" y="634.95" width="3.10" height="3.10" fill="#80a9b6" stroke="#648e9c" stroke-width="0.35"/>
<rect x="66.35" y="644.85" width="1.30" height="1.30" fill="#6e7476" />
<rect x="74.90" y="644.40" width="2.20" height="2.20" fill="#a87060" />
<rect x="82.85" y="643.35" width="4.30" height="4.30" fill="#80a9b6" stroke="#648e9c" stroke-width="0.35"/>
<rect x="92.90" y="644.40" width="2.20" height="2.20" fill="#648e9c" />
<rect x="102.35" y="644.85" width="1.30" height="1.30" fill="#6e7476" />
<rect x="65.90" y="653.40" width="2.20" height="2.20" fill="#a87060" />
<rect x="74.45" y="652.95" width="3.10" height="3.10" fill="#c48a7c" stroke="#a87060" stroke-width="0.35"/>
<rect x="84.35" y="653.85" width="1.30" height="1.30" fill="#6e7476" />
<rect x="92.45" y="652.95" width="3.10" height="3.10" fill="#c48a7c" stroke="#a87060" stroke-width="0.35"/>
<rect x="101.90" y="653.40" width="2.20" height="2.20" fill="#a87060" />
<rect x="110.45" y="652.95" width="3.10" height="3.10" fill="#c48a7c" stroke="#a87060" stroke-width="0.35"/>
<rect x="66.35" y="662.85" width="1.30" height="1.30" fill="#6e7476" />
<rect x="74.90" y="662.40" width="2.20" height="2.20" fill="#6e7476" />
<rect x="83.90" y="662.40" width="2.20" height="2.20" fill="#a87060" />
<rect x="93.35" y="662.85" width="1.30" height="1.30" fill="#6e7476" />
<rect x="100.20" y="660.70" width="5.60" height="5.60" fill="#80a9b6" stroke="#648e9c" stroke-width="0.35"/>
<rect x="110.90" y="662.40" width="2.20" height="2.20" fill="#648e9c" />
<rect x="118.85" y="661.35" width="4.30" height="4.30" fill="#80a9b6" stroke="#648e9c" stroke-width="0.35"/>
<rect x="64.85" y="670.35" width="4.30" height="4.30" fill="#80a9b6" stroke="#648e9c" stroke-width="0.35"/>
<rect x="74.90" y="671.40" width="2.20" height="2.20" fill="#a87060" />
<rect x="83.90" y="671.40" width="2.20" height="2.20" fill="#a87060" />
<rect x="92.90" y="671.40" width="2.20" height="2.20" fill="#6e7476" />
<rect x="100.85" y="670.35" width="4.30" height="4.30" fill="#80a9b6" stroke="#648e9c" stroke-width="0.35"/>
<rect x="109.20" y="669.70" width="5.60" height="5.60" fill="#80a9b6" stroke="#648e9c" stroke-width="0.35"/>
<rect x="118.20" y="669.70" width="5.60" height="5.60" fill="#80a9b6" stroke="#648e9c" stroke-width="0.35"/>
<rect x="128.90" y="671.40" width="2.20" height="2.20" fill="#a87060" />
<rect x="65.90" y="680.40" width="2.20" height="2.20" fill="#6e7476" />
<rect x="74.90" y="680.40" width="2.20" height="2.20" fill="#a87060" />
<rect x="83.90" y="680.40" width="2.20" height="2.20" fill="#6e7476" />
<rect x="93.35" y="680.85" width="1.30" height="1.30" fill="#6e7476" />
<rect x="102.35" y="680.85" width="1.30" height="1.30" fill="#6e7476" />
<rect x="110.90" y="680.40" width="2.20" height="2.20" fill="#6e7476" />
<rect x="120.35" y="680.85" width="1.30" height="1.30" fill="#6e7476" />
<rect x="129.35" y="680.85" width="1.30" height="1.30" fill="#6e7476" />
<rect x="137.90" y="680.40" width="2.20" height="2.20" fill="#a87060" />
<rect x="65.45" y="688.95" width="3.10" height="3.10" fill="#c48a7c" stroke="#a87060" stroke-width="0.35"/>
<rect x="73.85" y="688.35" width="4.30" height="4.30" fill="#dc5e44" stroke="#b84a34" stroke-width="0.35"/>
<rect x="83.90" y="689.40" width="2.20" height="2.20" fill="#6e7476" />
<rect x="92.45" y="688.95" width="3.10" height="3.10" fill="#80a9b6" stroke="#648e9c" stroke-width="0.35"/>
<rect x="101.45" y="688.95" width="3.10" height="3.10" fill="#c48a7c" stroke="#a87060" stroke-width="0.35"/>
<rect x="110.90" y="689.40" width="2.20" height="2.20" fill="#a87060" />
<rect x="119.45" y="688.95" width="3.10" height="3.10" fill="#c48a7c" stroke="#a87060" stroke-width="0.35"/>
<rect x="129.35" y="689.85" width="1.30" height="1.30" fill="#6e7476" />
<rect x="138.35" y="689.85" width="1.30" height="1.30" fill="#6e7476" />
<rect x="145.85" y="688.35" width="4.30" height="4.30" fill="#c48a7c" stroke="#a87060" stroke-width="0.35"/>
<rect x="65.45" y="697.95" width="3.10" height="3.10" fill="#80a9b6" stroke="#648e9c" stroke-width="0.35"/>
<rect x="74.45" y="697.95" width="3.10" height="3.10" fill="#80a9b6" stroke="#648e9c" stroke-width="0.35"/>
<rect x="83.90" y="698.40" width="2.20" height="2.20" fill="#a87060" />
<rect x="92.90" y="698.40" width="2.20" height="2.20" fill="#6e7476" />
<rect x="100.20" y="696.70" width="5.60" height="5.60" fill="#5cb6d0" stroke="#4898b2" stroke-width="0.35"/>
<rect x="109.20" y="696.70" width="5.60" height="5.60" fill="#80a9b6" stroke="#648e9c" stroke-width="0.35"/>
<rect x="118.85" y="697.35" width="4.30" height="4.30" fill="#80a9b6" stroke="#648e9c" stroke-width="0.35"/>
<rect x="128.45" y="697.95" width="3.10" height="3.10" fill="#c48a7c" stroke="#a87060" stroke-width="0.35"/>
<rect x="136.20" y="696.70" width="5.60" height="5.60" fill="#dc5e44" stroke="#b84a34" stroke-width="0.35"/>
<rect x="147.35" y="698.85" width="1.30" height="1.30" fill="#6e7476" />
<rect x="154.85" y="697.35" width="4.30" height="4.30" fill="#80a9b6" stroke="#648e9c" stroke-width="0.35"/>
<rect x="64.85" y="706.35" width="4.30" height="4.30" fill="#80a9b6" stroke="#648e9c" stroke-width="0.35"/>
<rect x="75.35" y="707.85" width="1.30" height="1.30" fill="#6e7476" />
<rect x="83.45" y="706.95" width="3.10" height="3.10" fill="#c48a7c" stroke="#a87060" stroke-width="0.35"/>
<rect x="91.20" y="705.70" width="5.60" height="5.60" fill="#80a9b6" stroke="#648e9c" stroke-width="0.35"/>
<rect x="100.20" y="705.70" width="5.60" height="5.60" fill="#5cb6d0" stroke="#4898b2" stroke-width="0.35"/>
<rect x="109.85" y="706.35" width="4.30" height="4.30" fill="#80a9b6" stroke="#648e9c" stroke-width="0.35"/>
<rect x="119.90" y="707.40" width="2.20" height="2.20" fill="#6e7476" />
<rect x="128.45" y="706.95" width="3.10" height="3.10" fill="#c48a7c" stroke="#a87060" stroke-width="0.35"/>
<rect x="136.20" y="705.70" width="5.60" height="5.60" fill="#dc5e44" stroke="#b84a34" stroke-width="0.35"/>
<rect x="146.90" y="707.40" width="2.20" height="2.20" fill="#6e7476" />
<rect x="156.35" y="707.85" width="1.30" height="1.30" fill="#6e7476" />
<rect x="162.50" y="705.00" width="7.00" height="7.00" fill="#dc5e44" stroke="#b84a34" stroke-width="0.35"/>
<rect x="65.90" y="716.40" width="2.20" height="2.20" fill="#a87060" />
<rect x="74.90" y="716.40" width="2.20" height="2.20" fill="#a87060" />
<rect x="83.45" y="715.95" width="3.10" height="3.10" fill="#c48a7c" stroke="#a87060" stroke-width="0.35"/>
<rect x="92.90" y="716.40" width="2.20" height="2.20" fill="#a87060" />
<rect x="101.90" y="716.40" width="2.20" height="2.20" fill="#6e7476" />
<rect x="110.90" y="716.40" width="2.20" height="2.20" fill="#6e7476" />
<rect x="119.90" y="716.40" width="2.20" height="2.20" fill="#a87060" />
<rect x="128.90" y="716.40" width="2.20" height="2.20" fill="#6e7476" />
<rect x="137.90" y="716.40" width="2.20" height="2.20" fill="#a87060" />
<rect x="146.45" y="715.95" width="3.10" height="3.10" fill="#80a9b6" stroke="#648e9c" stroke-width="0.35"/>
<rect x="155.90" y="716.40" width="2.20" height="2.20" fill="#a87060" />
<rect x="164.90" y="716.40" width="2.20" height="2.20" fill="#a87060" />
<rect x="173.45" y="715.95" width="3.10" height="3.10" fill="#c48a7c" stroke="#a87060" stroke-width="0.35"/>
<rect x="66.35" y="725.85" width="1.30" height="1.30" fill="#6e7476" />
<rect x="74.45" y="724.95" width="3.10" height="3.10" fill="#80a9b6" stroke="#648e9c" stroke-width="0.35"/>
<rect x="83.90" y="725.40" width="2.20" height="2.20" fill="#6e7476" />
<rect x="93.35" y="725.85" width="1.30" height="1.30" fill="#6e7476" />
<rect x="100.85" y="724.35" width="4.30" height="4.30" fill="#c48a7c" stroke="#a87060" stroke-width="0.35"/>
<rect x="110.45" y="724.95" width="3.10" height="3.10" fill="#c48a7c" stroke="#a87060" stroke-width="0.35"/>
<rect x="119.45" y="724.95" width="3.10" height="3.10" fill="#c48a7c" stroke="#a87060" stroke-width="0.35"/>
<rect x="129.35" y="725.85" width="1.30" height="1.30" fill="#6e7476" />
<rect x="136.85" y="724.35" width="4.30" height="4.30" fill="#80a9b6" stroke="#648e9c" stroke-width="0.35"/>
<rect x="146.90" y="725.40" width="2.20" height="2.20" fill="#a87060" />
<rect x="155.90" y="725.40" width="2.20" height="2.20" fill="#648e9c" />
<rect x="164.90" y="725.40" width="2.20" height="2.20" fill="#6e7476" />
<rect x="172.85" y="724.35" width="4.30" height="4.30" fill="#80a9b6" stroke="#648e9c" stroke-width="0.35"/>
<rect x="183.35" y="725.85" width="1.30" height="1.30" fill="#6e7476" />
<rect x="65.45" y="733.95" width="3.10" height="3.10" fill="#80a9b6" stroke="#648e9c" stroke-width="0.35"/>
<rect x="75.35" y="734.85" width="1.30" height="1.30" fill="#6e7476" />
<rect x="82.85" y="733.35" width="4.30" height="4.30" fill="#80a9b6" stroke="#648e9c" stroke-width="0.35"/>
<rect x="93.35" y="734.85" width="1.30" height="1.30" fill="#6e7476" />
<rect x="100.20" y="732.70" width="5.60" height="5.60" fill="#dc5e44" stroke="#b84a34" stroke-width="0.35"/>
<rect x="110.45" y="733.95" width="3.10" height="3.10" fill="#c48a7c" stroke="#a87060" stroke-width="0.35"/>
<rect x="119.45" y="733.95" width="3.10" height="3.10" fill="#80a9b6" stroke="#648e9c" stroke-width="0.35"/>
<rect x="128.90" y="734.40" width="2.20" height="2.20" fill="#6e7476" />
<rect x="137.45" y="733.95" width="3.10" height="3.10" fill="#80a9b6" stroke="#648e9c" stroke-width="0.35"/>
<rect x="146.45" y="733.95" width="3.10" height="3.10" fill="#c48a7c" stroke="#a87060" stroke-width="0.35"/>
<rect x="155.90" y="734.40" width="2.20" height="2.20" fill="#6e7476" />
<rect x="163.20" y="732.70" width="5.60" height="5.60" fill="#5cb6d0" stroke="#4898b2" stroke-width="0.35"/>
<rect x="171.50" y="732.00" width="7.00" height="7.00" fill="#5cb6d0" stroke="#4898b2" stroke-width="0.35"/>
<rect x="180.50" y="732.00" width="7.00" height="7.00" fill="#5cb6d0" stroke="#4898b2" stroke-width="0.35"/>
<rect x="191.90" y="734.40" width="2.20" height="2.20" fill="#a87060" />
<rect x="66.35" y="743.85" width="1.30" height="1.30" fill="#6e7476" />
<rect x="74.90" y="743.40" width="2.20" height="2.20" fill="#6e7476" />
<rect x="84.35" y="743.85" width="1.30" height="1.30" fill="#6e7476" />
<rect x="93.35" y="743.85" width="1.30" height="1.30" fill="#6e7476" />
<rect x="100.85" y="742.35" width="4.30" height="4.30" fill="#c48a7c" stroke="#a87060" stroke-width="0.35"/>
<rect x="110.90" y="743.40" width="2.20" height="2.20" fill="#a87060" />
<rect x="119.45" y="742.95" width="3.10" height="3.10" fill="#c48a7c" stroke="#a87060" stroke-width="0.35"/>
<rect x="128.45" y="742.95" width="3.10" height="3.10" fill="#80a9b6" stroke="#648e9c" stroke-width="0.35"/>
<rect x="137.45" y="742.95" width="3.10" height="3.10" fill="#80a9b6" stroke="#648e9c" stroke-width="0.35"/>
<rect x="146.90" y="743.40" width="2.20" height="2.20" fill="#a87060" />
<rect x="156.35" y="743.85" width="1.30" height="1.30" fill="#6e7476" />
<rect x="163.85" y="742.35" width="4.30" height="4.30" fill="#80a9b6" stroke="#648e9c" stroke-width="0.35"/>
<rect x="172.85" y="742.35" width="4.30" height="4.30" fill="#80a9b6" stroke="#648e9c" stroke-width="0.35"/>
<rect x="182.45" y="742.95" width="3.10" height="3.10" fill="#8e9496" stroke="#6e7476" stroke-width="0.35"/>
<rect x="191.90" y="743.40" width="2.20" height="2.20" fill="#a87060" />
<rect x="199.85" y="742.35" width="4.30" height="4.30" fill="#c48a7c" stroke="#a87060" stroke-width="0.35"/>
<rect x="64.85" y="751.35" width="4.30" height="4.30" fill="#80a9b6" stroke="#648e9c" stroke-width="0.35"/>
<rect x="74.90" y="752.40" width="2.20" height="2.20" fill="#a87060" />
<rect x="83.90" y="752.40" width="2.20" height="2.20" fill="#6e7476" />
<rect x="93.35" y="752.85" width="1.30" height="1.30" fill="#6e7476" />
<rect x="100.20" y="750.70" width="5.60" height="5.60" fill="#dc5e44" stroke="#b84a34" stroke-width="0.35"/>
<rect x="111.35" y="752.85" width="1.30" height="1.30" fill="#6e7476" />
<rect x="119.45" y="751.95" width="3.10" height="3.10" fill="#80a9b6" stroke="#648e9c" stroke-width="0.35"/>
<rect x="129.35" y="752.85" width="1.30" height="1.30" fill="#6e7476" />
<rect x="138.35" y="752.85" width="1.30" height="1.30" fill="#6e7476" />
<rect x="146.90" y="752.40" width="2.20" height="2.20" fill="#a87060" />
<rect x="156.35" y="752.85" width="1.30" height="1.30" fill="#6e7476" />
<rect x="164.45" y="751.95" width="3.10" height="3.10" fill="#80a9b6" stroke="#648e9c" stroke-width="0.35"/>
<rect x="173.90" y="752.40" width="2.20" height="2.20" fill="#6e7476" />
<rect x="181.85" y="751.35" width="4.30" height="4.30" fill="#80a9b6" stroke="#648e9c" stroke-width="0.35"/>
<rect x="191.45" y="751.95" width="3.10" height="3.10" fill="#80a9b6" stroke="#648e9c" stroke-width="0.35"/>
<rect x="199.85" y="751.35" width="4.30" height="4.30" fill="#c48a7c" stroke="#a87060" stroke-width="0.35"/>
<rect x="209.90" y="752.40" width="2.20" height="2.20" fill="#a87060" />
<rect x="65.45" y="760.95" width="3.10" height="3.10" fill="#c48a7c" stroke="#a87060" stroke-width="0.35"/>
<rect x="75.35" y="761.85" width="1.30" height="1.30" fill="#6e7476" />
<rect x="83.90" y="761.40" width="2.20" height="2.20" fill="#a87060" />
<rect x="91.20" y="759.70" width="5.60" height="5.60" fill="#dc5e44" stroke="#b84a34" stroke-width="0.35"/>
<rect x="102.35" y="761.85" width="1.30" height="1.30" fill="#6e7476" />
<rect x="111.35" y="761.85" width="1.30" height="1.30" fill="#6e7476" />
<rect x="120.35" y="761.85" width="1.30" height="1.30" fill="#6e7476" />
<rect x="127.85" y="760.35" width="4.30" height="4.30" fill="#80a9b6" stroke="#648e9c" stroke-width="0.35"/>
<rect x="137.90" y="761.40" width="2.20" height="2.20" fill="#6e7476" />
<rect x="147.35" y="761.85" width="1.30" height="1.30" fill="#6e7476" />
<rect x="155.90" y="761.40" width="2.20" height="2.20" fill="#a87060" />
<rect x="163.85" y="760.35" width="4.30" height="4.30" fill="#80a9b6" stroke="#648e9c" stroke-width="0.35"/>
<rect x="172.85" y="760.35" width="4.30" height="4.30" fill="#80a9b6" stroke="#648e9c" stroke-width="0.35"/>
<rect x="182.45" y="760.95" width="3.10" height="3.10" fill="#c48a7c" stroke="#a87060" stroke-width="0.35"/>
<rect x="192.35" y="761.85" width="1.30" height="1.30" fill="#6e7476" />
<rect x="200.90" y="761.40" width="2.20" height="2.20" fill="#6e7476" />
<rect x="209.90" y="761.40" width="2.20" height="2.20" fill="#a87060" />
<rect x="219.35" y="761.85" width="1.30" height="1.30" fill="#6e7476" />
<rect x="65.90" y="770.40" width="2.20" height="2.20" fill="#6e7476" />
<rect x="74.90" y="770.40" width="2.20" height="2.20" fill="#a87060" />
<rect x="83.90" y="770.40" width="2.20" height="2.20" fill="#6e7476" />
<rect x="93.35" y="770.85" width="1.30" height="1.30" fill="#6e7476" />
<rect x="102.35" y="770.85" width="1.30" height="1.30" fill="#6e7476" />
<rect x="111.35" y="770.85" width="1.30" height="1.30" fill="#6e7476" />
<rect x="118.20" y="768.70" width="5.60" height="5.60" fill="#dc5e44" stroke="#b84a34" stroke-width="0.35"/>
<rect x="128.90" y="770.40" width="2.20" height="2.20" fill="#a87060" />
<rect x="137.90" y="770.40" width="2.20" height="2.20" fill="#6e7476" />
<rect x="147.35" y="770.85" width="1.30" height="1.30" fill="#6e7476" />
<rect x="155.90" y="770.40" width="2.20" height="2.20" fill="#6e7476" />
<rect x="164.90" y="770.40" width="2.20" height="2.20" fill="#6e7476" />
<rect x="173.90" y="770.40" width="2.20" height="2.20" fill="#6e7476" />
<rect x="182.90" y="770.40" width="2.20" height="2.20" fill="#6e7476" />
<rect x="191.90" y="770.40" width="2.20" height="2.20" fill="#a87060" />
<rect x="200.90" y="770.40" width="2.20" height="2.20" fill="#a87060" />
<rect x="209.90" y="770.40" width="2.20" height="2.20" fill="#6e7476" />
<rect x="218.45" y="769.95" width="3.10" height="3.10" fill="#80a9b6" stroke="#648e9c" stroke-width="0.35"/>
<rect x="226.20" y="768.70" width="5.60" height="5.60" fill="#5cb6d0" stroke="#4898b2" stroke-width="0.35"/>
<rect x="65.90" y="779.40" width="2.20" height="2.20" fill="#a87060" />
<rect x="75.35" y="779.85" width="1.30" height="1.30" fill="#6e7476" />
<rect x="84.35" y="779.85" width="1.30" height="1.30" fill="#6e7476" />
<rect x="92.45" y="778.95" width="3.10" height="3.10" fill="#c48a7c" stroke="#a87060" stroke-width="0.35"/>
<rect x="101.90" y="779.40" width="2.20" height="2.20" fill="#a87060" />
<rect x="110.90" y="779.40" width="2.20" height="2.20" fill="#6e7476" />
<rect x="119.45" y="778.95" width="3.10" height="3.10" fill="#80a9b6" stroke="#648e9c" stroke-width="0.35"/>
<rect x="128.45" y="778.95" width="3.10" height="3.10" fill="#80a9b6" stroke="#648e9c" stroke-width="0.35"/>
<rect x="137.90" y="779.40" width="2.20" height="2.20" fill="#6e7476" />
<rect x="147.35" y="779.85" width="1.30" height="1.30" fill="#6e7476" />
<rect x="156.35" y="779.85" width="1.30" height="1.30" fill="#6e7476" />
<rect x="164.90" y="779.40" width="2.20" height="2.20" fill="#6e7476" />
<rect x="173.45" y="778.95" width="3.10" height="3.10" fill="#80a9b6" stroke="#648e9c" stroke-width="0.35"/>
<rect x="182.45" y="778.95" width="3.10" height="3.10" fill="#c48a7c" stroke="#a87060" stroke-width="0.35"/>
<rect x="192.35" y="779.85" width="1.30" height="1.30" fill="#6e7476" />
<rect x="201.35" y="779.85" width="1.30" height="1.30" fill="#6e7476" />
<rect x="210.35" y="779.85" width="1.30" height="1.30" fill="#6e7476" />
<rect x="219.35" y="779.85" width="1.30" height="1.30" fill="#6e7476" />
<rect x="227.45" y="778.95" width="3.10" height="3.10" fill="#c48a7c" stroke="#a87060" stroke-width="0.35"/>
<rect x="236.90" y="779.40" width="2.20" height="2.20" fill="#6e7476" />
<rect x="64.85" y="787.35" width="4.30" height="4.30" fill="#80a9b6" stroke="#648e9c" stroke-width="0.35"/>
<rect x="74.90" y="788.40" width="2.20" height="2.20" fill="#a87060" />
<rect x="82.85" y="787.35" width="4.30" height="4.30" fill="#80a9b6" stroke="#648e9c" stroke-width="0.35"/>
<rect x="91.85" y="787.35" width="4.30" height="4.30" fill="#c48a7c" stroke="#a87060" stroke-width="0.35"/>
<rect x="102.35" y="788.85" width="1.30" height="1.30" fill="#6e7476" />
<rect x="110.90" y="788.40" width="2.20" height="2.20" fill="#a87060" />
<rect x="120.35" y="788.85" width="1.30" height="1.30" fill="#6e7476" />
<rect x="128.90" y="788.40" width="2.20" height="2.20" fill="#6e7476" />
<rect x="137.45" y="787.95" width="3.10" height="3.10" fill="#80a9b6" stroke="#648e9c" stroke-width="0.35"/>
<rect x="146.90" y="788.40" width="2.20" height="2.20" fill="#6e7476" />
<rect x="155.90" y="788.40" width="2.20" height="2.20" fill="#6e7476" />
<rect x="164.45" y="787.95" width="3.10" height="3.10" fill="#80a9b6" stroke="#648e9c" stroke-width="0.35"/>
<rect x="172.20" y="786.70" width="5.60" height="5.60" fill="#5cb6d0" stroke="#4898b2" stroke-width="0.35"/>
<rect x="182.45" y="787.95" width="3.10" height="3.10" fill="#8e9496" stroke="#6e7476" stroke-width="0.35"/>
<rect x="191.90" y="788.40" width="2.20" height="2.20" fill="#a87060" />
<rect x="199.85" y="787.35" width="4.30" height="4.30" fill="#dc5e44" stroke="#b84a34" stroke-width="0.35"/>
<rect x="209.90" y="788.40" width="2.20" height="2.20" fill="#a87060" />
<rect x="218.90" y="788.40" width="2.20" height="2.20" fill="#a87060" />
<rect x="227.90" y="788.40" width="2.20" height="2.20" fill="#a87060" />
<rect x="236.90" y="788.40" width="2.20" height="2.20" fill="#a87060" />
<rect x="245.90" y="788.40" width="2.20" height="2.20" fill="#6e7476" />
<rect x="61.20" y="595.20" width="299.10" height="199.30" fill="none" stroke="#a8a8a8" stroke-width="0.8"/>
<path d="M67.0,600.5Q137.2,625.5 211.1,615.9M67.0,600.5Q141.2,632.7 222.0,627.8M67.0,600.5Q145.3,640.0 232.9,639.6M67.0,600.5Q149.3,647.2 243.8,651.5M67.0,600.5Q153.3,654.4 254.7,663.3M67.0,600.5Q157.4,661.7 265.6,675.2M67.0,600.5Q161.4,668.9 276.6,687.1M67.0,600.5Q165.4,676.2 287.5,698.9M67.0,600.5Q169.5,683.4 298.4,710.8M67.0,600.5Q173.5,690.6 309.3,722.6M76.0,609.5Q142.8,628.9 211.1,615.9M76.0,609.5Q146.8,636.2 222.0,627.8M76.0,609.5Q158.9,657.9 254.7,663.3M76.0,609.5Q162.9,665.1 265.6,675.2M76.0,609.5Q167.0,672.3 276.6,687.1M76.0,609.5Q171.0,679.6 287.5,698.9M76.0,609.5Q175.0,686.8 298.4,710.8M76.0,609.5Q179.1,694.1 309.3,722.6M76.0,609.5Q183.1,701.3 320.2,734.5M85.0,618.5Q147.8,603.3 211.1,615.9M85.0,618.5Q152.4,639.6 222.0,627.8M85.0,618.5Q156.4,646.8 232.9,639.6M85.0,618.5Q160.5,654.0 243.8,651.5M85.0,618.5Q164.5,661.3 254.7,663.3M85.0,618.5Q168.5,668.5 265.6,675.2M85.0,618.5Q172.6,675.8 276.6,687.1M85.0,618.5Q176.6,683.0 287.5,698.9M85.0,618.5Q180.6,690.2 298.4,710.8M85.0,618.5Q184.6,697.5 309.3,722.6M85.0,618.5Q188.7,704.7 320.2,734.5M94.0,627.5Q151.3,608.8 211.1,615.9M94.0,627.5Q158.0,643.0 222.0,627.8M94.0,627.5Q162.0,650.2 232.9,639.6M94.0,627.5Q166.0,657.5 243.8,651.5M94.0,627.5Q174.1,671.9 265.6,675.2M94.0,627.5Q178.1,679.2 276.6,687.1M94.0,627.5Q182.2,686.4 287.5,698.9M94.0,627.5Q186.2,693.7 298.4,710.8M94.0,627.5Q194.3,708.1 320.2,734.5M103.0,636.5Q154.8,614.3 211.1,615.9M103.0,636.5Q161.5,619.0 222.0,627.8M103.0,636.5Q167.6,653.7 232.9,639.6M103.0,636.5Q171.6,660.9 243.8,651.5M103.0,636.5Q175.6,668.1 254.7,663.3M103.0,636.5Q179.7,675.4 265.6,675.2M103.0,636.5Q183.7,682.6 276.6,687.1M103.0,636.5Q187.7,689.8 287.5,698.9M103.0,636.5Q191.8,697.1 298.4,710.8M103.0,636.5Q195.8,704.3 309.3,722.6M103.0,636.5Q199.8,711.6 320.2,734.5M112.0,645.5Q158.3,619.8 211.1,615.9M112.0,645.5Q165.1,624.5 222.0,627.8M112.0,645.5Q171.8,629.3 232.9,639.6M112.0,645.5Q181.2,671.5 254.7,663.3M112.0,645.5Q185.3,678.8 265.6,675.2M112.0,645.5Q193.3,693.3 287.5,698.9M112.0,645.5Q197.4,700.5 298.4,710.8M112.0,645.5Q201.4,707.7 309.3,722.6M112.0,645.5Q205.4,715.0 320.2,734.5M121.0,654.5Q175.3,634.7 232.9,639.6M121.0,654.5Q186.8,675.0 254.7,663.3M121.0,654.5Q190.8,682.2 265.6,675.2M121.0,654.5Q202.9,703.9 298.4,710.8M121.0,654.5Q207.0,711.2 309.3,722.6M121.0,654.5Q211.0,718.4 320.2,734.5M130.0,663.5Q178.8,640.2 232.9,639.6M130.0,663.5Q185.6,645.0 243.8,651.5M130.0,663.5Q192.4,649.7 254.7,663.3M130.0,663.5Q204.5,700.1 287.5,698.9M130.0,663.5Q208.5,707.3 298.4,710.8M130.0,663.5Q212.5,714.6 309.3,722.6M130.0,663.5Q216.6,721.8 320.2,734.5M139.0,672.5Q168.8,636.3 211.1,615.9M139.0,672.5Q175.6,641.0 222.0,627.8M139.0,672.5Q182.3,645.7 232.9,639.6M139.0,672.5Q189.1,650.5 243.8,651.5M139.0,672.5Q195.9,655.2 254.7,663.3M139.0,672.5Q202.0,689.0 265.6,675.2M139.0,672.5Q206.0,696.3 276.6,687.1M139.0,672.5Q210.1,703.5 287.5,698.9M139.0,672.5Q214.1,710.8 298.4,710.8M139.0,672.5Q218.1,718.0 309.3,722.6M139.0,672.5Q222.2,725.2 320.2,734.5M148.0,681.5Q172.3,641.8 211.1,615.9M148.0,681.5Q179.1,646.5 222.0,627.8M148.0,681.5Q185.9,651.2 232.9,639.6M148.0,681.5Q192.6,655.9 243.8,651.5M148.0,681.5Q199.4,660.7 254.7,663.3M148.0,681.5Q206.1,665.4 265.6,675.2M148.0,681.5Q211.6,699.7 276.6,687.1M148.0,681.5Q215.6,706.9 287.5,698.9M148.0,681.5Q219.7,714.2 298.4,710.8M148.0,681.5Q223.7,721.4 309.3,722.6M148.0,681.5Q227.7,728.7 320.2,734.5M157.0,690.5Q175.8,647.2 211.1,615.9M157.0,690.5Q182.6,652.0 222.0,627.8M157.0,690.5Q189.4,656.7 232.9,639.6M157.0,690.5Q196.1,661.4 243.8,651.5M157.0,690.5Q202.9,666.2 254.7,663.3M157.0,690.5Q209.6,670.9 265.6,675.2M157.0,690.5Q216.4,675.6 276.6,687.1M157.0,690.5Q221.2,710.4 287.5,698.9M157.0,690.5Q225.3,717.6 298.4,710.8M157.0,690.5Q229.3,724.8 309.3,722.6M157.0,690.5Q233.3,732.1 320.2,734.5M166.0,699.5Q179.4,652.7 211.1,615.9M166.0,699.5Q192.9,662.2 232.9,639.6M166.0,699.5Q206.4,671.7 254.7,663.3M166.0,699.5Q213.2,676.4 265.6,675.2M166.0,699.5Q226.7,685.8 287.5,698.9M166.0,699.5Q230.8,721.0 298.4,710.8M166.0,699.5Q234.9,728.3 309.3,722.6M166.0,699.5Q238.9,735.5 320.2,734.5M175.0,708.5Q196.4,667.7 232.9,639.6M175.0,708.5Q209.9,677.1 254.7,663.3M175.0,708.5Q216.7,681.9 265.6,675.2M175.0,708.5Q223.4,686.6 276.6,687.1M175.0,708.5Q230.2,691.3 287.5,698.9M175.0,708.5Q240.4,731.7 309.3,722.6M175.0,708.5Q244.5,738.9 320.2,734.5M184.0,717.5Q186.4,663.7 211.1,615.9M184.0,717.5Q193.1,668.4 222.0,627.8M184.0,717.5Q199.9,673.2 232.9,639.6M184.0,717.5Q206.7,677.9 243.8,651.5M184.0,717.5Q213.4,682.6 254.7,663.3M184.0,717.5Q220.2,687.4 265.6,675.2M184.0,717.5Q226.9,692.1 276.6,687.1M184.0,717.5Q233.7,696.8 287.5,698.9M184.0,717.5Q240.5,701.6 298.4,710.8M184.0,717.5Q246.0,735.1 309.3,722.6M184.0,717.5Q250.1,742.3 320.2,734.5M193.0,726.5Q189.9,669.2 211.1,615.9M193.0,726.5Q196.6,673.9 222.0,627.8M193.0,726.5Q203.4,678.7 232.9,639.6M193.0,726.5Q210.2,683.4 243.8,651.5M193.0,726.5Q216.9,688.1 254.7,663.3M193.0,726.5Q223.7,692.9 265.6,675.2M193.0,726.5Q230.4,697.6 276.6,687.1M193.0,726.5Q237.2,702.3 287.5,698.9M193.0,726.5Q244.0,707.0 298.4,710.8M193.0,726.5Q250.7,711.8 309.3,722.6M193.0,726.5Q255.6,745.8 320.2,734.5M202.0,735.5Q193.4,674.7 211.1,615.9M202.0,735.5Q200.2,679.4 222.0,627.8M202.0,735.5Q206.9,684.2 232.9,639.6M202.0,735.5Q213.7,688.9 243.8,651.5M202.0,735.5Q220.4,693.6 254.7,663.3M202.0,735.5Q227.2,698.3 265.6,675.2M202.0,735.5Q234.0,703.1 276.6,687.1M202.0,735.5Q240.7,707.8 287.5,698.9M202.0,735.5Q247.5,712.5 298.4,710.8M211.0,744.5Q196.9,680.2 211.1,615.9M211.0,744.5Q203.7,684.9 222.0,627.8M211.0,744.5Q210.4,689.6 232.9,639.6M211.0,744.5Q217.2,694.4 243.8,651.5M211.0,744.5Q223.9,699.1 254.7,663.3M211.0,744.5Q230.7,703.8 265.6,675.2M211.0,744.5Q237.5,708.6 276.6,687.1M211.0,744.5Q244.2,713.3 287.5,698.9M211.0,744.5Q251.0,718.0 298.4,710.8M211.0,744.5Q257.7,722.8 309.3,722.6M220.0,753.5Q200.4,685.7 211.1,615.9M220.0,753.5Q207.2,690.4 222.0,627.8M220.0,753.5Q213.9,695.1 232.9,639.6M220.0,753.5Q220.7,699.9 243.8,651.5M220.0,753.5Q227.5,704.6 254.7,663.3M220.0,753.5Q234.2,709.3 265.6,675.2M220.0,753.5Q241.0,714.1 276.6,687.1M220.0,753.5Q247.7,718.8 287.5,698.9M220.0,753.5Q254.5,723.5 298.4,710.8M220.0,753.5Q261.3,728.2 309.3,722.6M247.0,780.5Q210.9,702.1 211.1,615.9M247.0,780.5Q217.7,706.9 222.0,627.8M247.0,780.5Q224.5,711.6 232.9,639.6M247.0,780.5Q231.2,716.3 243.8,651.5M247.0,780.5Q238.0,721.1 254.7,663.3M247.0,780.5Q244.7,725.8 265.6,675.2M247.0,780.5Q251.5,730.5 276.6,687.1M247.0,780.5Q258.3,735.3 287.5,698.9M247.0,780.5Q265.0,740.0 298.4,710.8M247.0,780.5Q271.8,744.7 309.3,722.6M256.0,789.5Q214.5,707.6 211.1,615.9M256.0,789.5Q221.2,712.4 222.0,627.8M256.0,789.5Q228.0,717.1 232.9,639.6M256.0,789.5Q234.7,721.8 243.8,651.5M256.0,789.5Q241.5,726.6 254.7,663.3M256.0,789.5Q248.3,731.3 265.6,675.2M256.0,789.5Q255.0,736.0 276.6,687.1" fill="none" stroke="#858585" stroke-width="0.55" stroke-opacity="0.85"/>
<path d="M211.0,744.5Q264.5,727.5 320.2,734.5" fill="none" stroke="#e4583b" stroke-width="0.5" stroke-opacity="0.95"/>
<path d="M220.0,753.5Q268.0,733.0 320.2,734.5" fill="none" stroke="#e4583b" stroke-width="0.5" stroke-opacity="0.95"/>
<path d="M247.0,780.5Q278.5,749.4 320.2,734.5" fill="none" stroke="#e4583b" stroke-width="0.5" stroke-opacity="0.95"/>
<path d="M238.0,771.5Q275.0,744.0 320.2,734.5" fill="none" stroke="#e4583b" stroke-width="0.6" stroke-opacity="0.95"/>
<path d="M67.0,600.5Q177.5,697.9 320.2,734.5" fill="none" stroke="#e4583b" stroke-width="0.7" stroke-opacity="0.95"/>
<path d="M94.0,627.5Q190.2,700.9 309.3,722.6" fill="none" stroke="#e4583b" stroke-width="0.7" stroke-opacity="0.95"/>
<path d="M166.0,699.5Q186.1,657.5 222.0,627.8" fill="none" stroke="#e4583b" stroke-width="1.05" stroke-opacity="0.95"/>
<path d="M166.0,699.5Q199.6,666.9 243.8,651.5" fill="none" stroke="#e4583b" stroke-width="1.05" stroke-opacity="0.95"/>
<path d="M166.0,699.5Q219.9,681.1 276.6,687.1" fill="none" stroke="#e4583b" stroke-width="1.05" stroke-opacity="0.95"/>
<path d="M175.0,708.5Q182.9,658.2 211.1,615.9" fill="none" stroke="#e4583b" stroke-width="1.15" stroke-opacity="0.95"/>
<path d="M175.0,708.5Q189.6,663.0 222.0,627.8" fill="none" stroke="#e4583b" stroke-width="1.15" stroke-opacity="0.95"/>
<path d="M175.0,708.5Q203.1,672.4 243.8,651.5" fill="none" stroke="#e4583b" stroke-width="1.15" stroke-opacity="0.95"/>
<path d="M175.0,708.5Q236.4,724.4 298.4,710.8" fill="none" stroke="#e4583b" stroke-width="1.15" stroke-opacity="0.95"/>
<path d="M121.0,654.5Q161.8,625.3 211.1,615.9" fill="none" stroke="#e4583b" stroke-width="1.25" stroke-opacity="0.95"/>
<path d="M121.0,654.5Q168.6,630.0 222.0,627.8" fill="none" stroke="#e4583b" stroke-width="1.25" stroke-opacity="0.95"/>
<path d="M121.0,654.5Q182.1,639.5 243.8,651.5" fill="none" stroke="#e4583b" stroke-width="1.25" stroke-opacity="0.95"/>
<path d="M121.0,654.5Q194.9,689.4 276.6,687.1" fill="none" stroke="#e4583b" stroke-width="1.25" stroke-opacity="0.95"/>
<path d="M121.0,654.5Q198.9,696.7 287.5,698.9" fill="none" stroke="#e4583b" stroke-width="1.25" stroke-opacity="0.95"/>
<path d="M130.0,663.5Q165.3,630.8 211.1,615.9" fill="none" stroke="#e4583b" stroke-width="1.25" stroke-opacity="0.95"/>
<path d="M130.0,663.5Q172.1,635.5 222.0,627.8" fill="none" stroke="#e4583b" stroke-width="1.25" stroke-opacity="0.95"/>
<path d="M130.0,663.5Q196.4,685.6 265.6,675.2" fill="none" stroke="#e4583b" stroke-width="1.25" stroke-opacity="0.95"/>
<path d="M130.0,663.5Q200.5,692.9 276.6,687.1" fill="none" stroke="#e4583b" stroke-width="1.25" stroke-opacity="0.95"/>
<path d="M238.0,771.5Q207.4,696.7 211.1,615.9" fill="none" stroke="#e4583b" stroke-width="1.4" stroke-opacity="0.95"/>
<path d="M238.0,771.5Q214.2,701.4 222.0,627.8" fill="none" stroke="#e4583b" stroke-width="1.4" stroke-opacity="0.95"/>
<path d="M238.0,771.5Q221.0,706.1 232.9,639.6" fill="none" stroke="#e4583b" stroke-width="1.4" stroke-opacity="0.95"/>
<path d="M238.0,771.5Q227.7,710.8 243.8,651.5" fill="none" stroke="#e4583b" stroke-width="1.4" stroke-opacity="0.95"/>
<path d="M238.0,771.5Q234.5,715.6 254.7,663.3" fill="none" stroke="#e4583b" stroke-width="1.4" stroke-opacity="0.95"/>
<path d="M238.0,771.5Q241.2,720.3 265.6,675.2" fill="none" stroke="#e4583b" stroke-width="1.4" stroke-opacity="0.95"/>
<path d="M238.0,771.5Q248.0,725.0 276.6,687.1" fill="none" stroke="#e4583b" stroke-width="1.4" stroke-opacity="0.95"/>
<path d="M238.0,771.5Q254.8,729.8 287.5,698.9" fill="none" stroke="#e4583b" stroke-width="1.4" stroke-opacity="0.95"/>
<path d="M238.0,771.5Q261.5,734.5 298.4,710.8" fill="none" stroke="#e4583b" stroke-width="1.4" stroke-opacity="0.95"/>
<path d="M238.0,771.5Q268.3,739.2 309.3,722.6" fill="none" stroke="#e4583b" stroke-width="1.4" stroke-opacity="0.95"/>
<path d="M256.0,789.5Q282.1,754.9 320.2,734.5" fill="none" stroke="#4fbfdc" stroke-width="0.7" stroke-opacity="0.95"/>
<path d="M202.0,735.5Q254.2,717.3 309.3,722.6" fill="none" stroke="#4fbfdc" stroke-width="0.8" stroke-opacity="0.95"/>
<path d="M202.0,735.5Q261.0,722.0 320.2,734.5" fill="none" stroke="#4fbfdc" stroke-width="0.8" stroke-opacity="0.95"/>
<path d="M94.0,627.5Q170.1,664.7 254.7,663.3" fill="none" stroke="#4fbfdc" stroke-width="0.9" stroke-opacity="0.95"/>
<path d="M112.0,645.5Q177.2,664.3 243.8,651.5" fill="none" stroke="#4fbfdc" stroke-width="0.9" stroke-opacity="0.95"/>
<path d="M112.0,645.5Q189.3,686.0 276.6,687.1" fill="none" stroke="#4fbfdc" stroke-width="0.9" stroke-opacity="0.95"/>
<path d="M229.0,762.5Q271.5,738.5 320.2,734.5" fill="none" stroke="#4fbfdc" stroke-width="0.9" stroke-opacity="0.95"/>
<path d="M76.0,609.5Q150.8,643.4 232.9,639.6" fill="none" stroke="#4fbfdc" stroke-width="1.0" stroke-opacity="0.95"/>
<path d="M76.0,609.5Q154.9,650.6 243.8,651.5" fill="none" stroke="#4fbfdc" stroke-width="1.0" stroke-opacity="0.95"/>
<path d="M256.0,789.5Q261.8,740.7 287.5,698.9" fill="none" stroke="#4fbfdc" stroke-width="1.0" stroke-opacity="0.95"/>
<path d="M256.0,789.5Q268.5,745.5 298.4,710.8" fill="none" stroke="#4fbfdc" stroke-width="1.0" stroke-opacity="0.95"/>
<path d="M256.0,789.5Q275.3,750.2 309.3,722.6" fill="none" stroke="#4fbfdc" stroke-width="1.0" stroke-opacity="0.95"/>
<path d="M229.0,762.5Q203.9,691.2 211.1,615.9" fill="none" stroke="#4fbfdc" stroke-width="1.4" stroke-opacity="0.95"/>
<path d="M229.0,762.5Q210.7,695.9 222.0,627.8" fill="none" stroke="#4fbfdc" stroke-width="1.4" stroke-opacity="0.95"/>
<path d="M229.0,762.5Q217.4,700.6 232.9,639.6" fill="none" stroke="#4fbfdc" stroke-width="1.4" stroke-opacity="0.95"/>
<path d="M229.0,762.5Q224.2,705.4 243.8,651.5" fill="none" stroke="#4fbfdc" stroke-width="1.4" stroke-opacity="0.95"/>
<path d="M229.0,762.5Q231.0,710.1 254.7,663.3" fill="none" stroke="#4fbfdc" stroke-width="1.4" stroke-opacity="0.95"/>
<path d="M229.0,762.5Q237.7,714.8 265.6,675.2" fill="none" stroke="#4fbfdc" stroke-width="1.4" stroke-opacity="0.95"/>
<path d="M229.0,762.5Q244.5,719.5 276.6,687.1" fill="none" stroke="#4fbfdc" stroke-width="1.4" stroke-opacity="0.95"/>
<path d="M229.0,762.5Q251.2,724.3 287.5,698.9" fill="none" stroke="#4fbfdc" stroke-width="1.4" stroke-opacity="0.95"/>
<path d="M229.0,762.5Q258.0,729.0 298.4,710.8" fill="none" stroke="#4fbfdc" stroke-width="1.4" stroke-opacity="0.95"/>
<path d="M229.0,762.5Q264.8,733.7 309.3,722.6" fill="none" stroke="#4fbfdc" stroke-width="1.4" stroke-opacity="0.95"/>
<circle cx="67.00" cy="600.50" r="1.25" fill="#ee0818" stroke="#6e52f8" stroke-width="0.5"/>
<circle cx="76.00" cy="609.50" r="1.25" fill="#ee0818" stroke="#6e52f8" stroke-width="0.5"/>
<circle cx="85.00" cy="618.50" r="1.25" fill="#ee0818" stroke="#6e52f8" stroke-width="0.5"/>
<circle cx="94.00" cy="627.50" r="1.25" fill="#ee0818" stroke="#6e52f8" stroke-width="0.5"/>
<circle cx="103.00" cy="636.50" r="1.25" fill="#ee0818" stroke="#6e52f8" stroke-width="0.5"/>
<circle cx="112.00" cy="645.50" r="1.25" fill="#ee0818" stroke="#6e52f8" stroke-width="0.5"/>
<circle cx="121.00" cy="654.50" r="1.25" fill="#ee0818" stroke="#6e52f8" stroke-width="0.5"/>
<circle cx="130.00" cy="663.50" r="1.25" fill="#ee0818" stroke="#6e52f8" stroke-width="0.5"/>
<circle cx="139.00" cy="672.50" r="1.25" fill="#ee0818" stroke="#6e52f8" stroke-width="0.5"/>
<circle cx="148.00" cy="681.50" r="1.25" fill="#ee0818" stroke="#6e52f8" stroke-width="0.5"/>
<circle cx="157.00" cy="690.50" r="1.25" fill="#ee0818" stroke="#6e52f8" stroke-width="0.5"/>
<circle cx="166.00" cy="699.50" r="1.25" fill="#ee0818" stroke="#6e52f8" stroke-width="0.5"/>
<circle cx="175.00" cy="708.50" r="1.25" fill="#ee0818" stroke="#6e52f8" stroke-width="0.5"/>
<circle cx="184.00" cy="717.50" r="1.25" fill="#ee0818" stroke="#6e52f8" stroke-width="0.5"/>
<circle cx="193.00" cy="726.50" r="1.25" fill="#ee0818" stroke="#6e52f8" stroke-width="0.5"/>
<circle cx="202.00" cy="735.50" r="1.25" fill="#ee0818" stroke="#6e52f8" stroke-width="0.5"/>
<circle cx="211.00" cy="744.50" r="1.25" fill="#ee0818" stroke="#6e52f8" stroke-width="0.5"/>
<circle cx="220.00" cy="753.50" r="1.25" fill="#ee0818" stroke="#6e52f8" stroke-width="0.5"/>
<circle cx="229.00" cy="762.50" r="1.25" fill="#ee0818" stroke="#6e52f8" stroke-width="0.5"/>
<circle cx="238.00" cy="771.50" r="1.25" fill="#ee0818" stroke="#6e52f8" stroke-width="0.5"/>
<circle cx="247.00" cy="780.50" r="1.25" fill="#ee0818" stroke="#6e52f8" stroke-width="0.5"/>
<circle cx="256.00" cy="789.50" r="1.25" fill="#ee0818" stroke="#6e52f8" stroke-width="0.5"/>
<circle cx="211.10" cy="615.90" r="1.25" fill="#ee0818" stroke="#6e52f8" stroke-width="0.5"/>
<text x="215.50" y="617.85" font-size="5.4" text-anchor="start" fill="#2a2a2a" stroke="#2a2a2a" stroke-width="0.05" font-family='"Liberation Sans", sans-serif' font-weight="normal" >WDR12</text>
<circle cx="222.01" cy="627.76" r="1.25" fill="#ee0818" stroke="#6e52f8" stroke-width="0.5"/>
<text x="226.41" y="629.71" font-size="5.4" text-anchor="start" fill="#2a2a2a" stroke="#2a2a2a" stroke-width="0.05" font-family='"Liberation Sans", sans-serif' font-weight="normal" >RPP40</text>
<circle cx="232.92" cy="639.62" r="1.25" fill="#ee0818" stroke="#6e52f8" stroke-width="0.5"/>
<text x="237.32" y="641.57" font-size="5.4" text-anchor="start" fill="#2a2a2a" stroke="#2a2a2a" stroke-width="0.05" font-family='"Liberation Sans", sans-serif' font-weight="normal" >PPAN</text>
<circle cx="243.83" cy="651.48" r="1.25" fill="#ee0818" stroke="#6e52f8" stroke-width="0.5"/>
<text x="248.23" y="653.43" font-size="5.4" text-anchor="start" fill="#2a2a2a" stroke="#2a2a2a" stroke-width="0.05" font-family='"Liberation Sans", sans-serif' font-weight="normal" >MPHOSPH6</text>
<circle cx="254.74" cy="663.34" r="1.25" fill="#ee0818" stroke="#6e52f8" stroke-width="0.5"/>
<text x="259.14" y="665.29" font-size="5.4" text-anchor="start" fill="#2a2a2a" stroke="#2a2a2a" stroke-width="0.05" font-family='"Liberation Sans", sans-serif' font-weight="normal" >ISG20L2</text>
<circle cx="265.65" cy="675.20" r="1.25" fill="#ee0818" stroke="#6e52f8" stroke-width="0.5"/>
<text x="270.05" y="677.15" font-size="5.4" text-anchor="start" fill="#2a2a2a" stroke="#2a2a2a" stroke-width="0.05" font-family='"Liberation Sans", sans-serif' font-weight="normal" >ISG20</text>
<circle cx="276.56" cy="687.06" r="1.25" fill="#ee0818" stroke="#6e52f8" stroke-width="0.5"/>
<text x="280.96" y="689.01" font-size="5.4" text-anchor="start" fill="#2a2a2a" stroke="#2a2a2a" stroke-width="0.05" font-family='"Liberation Sans", sans-serif' font-weight="normal" >HEATR3</text>
<circle cx="287.47" cy="698.92" r="1.25" fill="#ee0818" stroke="#6e52f8" stroke-width="0.5"/>
<text x="291.87" y="700.87" font-size="5.4" text-anchor="start" fill="#2a2a2a" stroke="#2a2a2a" stroke-width="0.05" font-family='"Liberation Sans", sans-serif' font-weight="normal" >EXOSC3</text>
<circle cx="298.38" cy="710.78" r="1.25" fill="#ee0818" stroke="#6e52f8" stroke-width="0.5"/>
<text x="302.78" y="712.73" font-size="5.4" text-anchor="start" fill="#2a2a2a" stroke="#2a2a2a" stroke-width="0.05" font-family='"Liberation Sans", sans-serif' font-weight="normal" >ERI1</text>
<circle cx="309.29" cy="722.64" r="1.25" fill="#ee0818" stroke="#6e52f8" stroke-width="0.5"/>
<text x="313.69" y="724.59" font-size="5.4" text-anchor="start" fill="#2a2a2a" stroke="#2a2a2a" stroke-width="0.05" font-family='"Liberation Sans", sans-serif' font-weight="normal" >BYSL</text>
<circle cx="320.20" cy="734.50" r="1.25" fill="#ee0818" stroke="#6e52f8" stroke-width="0.5"/>
<text x="324.60" y="736.45" font-size="5.4" text-anchor="start" fill="#2a2a2a" stroke="#2a2a2a" stroke-width="0.05" font-family='"Liberation Sans", sans-serif' font-weight="normal" >ANG</text>
<text x="59.60" y="602.00" font-size="4.34" text-anchor="end" fill="#4a4a4a" font-family='"Liberation Sans", sans-serif' font-weight="normal" >B cells naive</text>
<text x="59.60" y="611.00" font-size="4.34" text-anchor="end" fill="#4a4a4a" font-family='"Liberation Sans", sans-serif' font-weight="normal" >B cells memory</text>
<text x="59.60" y="620.00" font-size="4.34" text-anchor="end" fill="#4a4a4a" font-family='"Liberation Sans", sans-serif' font-weight="normal" >Plasma cells</text>
<text x="59.60" y="629.00" font-size="4.34" text-anchor="end" fill="#4a4a4a" font-family='"Liberation Sans", sans-serif' font-weight="normal" >T cells CD8</text>
<text x="59.60" y="638.00" font-size="4.34" text-anchor="end" fill="#4a4a4a" font-family='"Liberation Sans", sans-serif' font-weight="normal" >T cells CD4 naive</text>
<text x="59.60" y="647.00" font-size="4.34" text-anchor="end" fill="#4a4a4a" font-family='"Liberation Sans", sans-serif' font-weight="normal" >T cells CD4 memory resting</text>
<text x="59.60" y="656.00" font-size="4.34" text-anchor="end" fill="#4a4a4a" font-family='"Liberation Sans", sans-serif' font-weight="normal" >T cells CD4 memory activated</text>
<text x="59.60" y="665.00" font-size="4.34" text-anchor="end" fill="#4a4a4a" font-family='"Liberation Sans", sans-serif' font-weight="normal" >T cells follicular helper</text>
<text x="59.60" y="674.00" font-size="4.34" text-anchor="end" fill="#4a4a4a" font-family='"Liberation Sans", sans-serif' font-weight="normal" >T cells regulatory (Tregs)</text>
<text x="59.60" y="683.00" font-size="4.34" text-anchor="end" fill="#4a4a4a" font-family='"Liberation Sans", sans-serif' font-weight="normal" >T cells gamma delta</text>
<text x="59.60" y="692.00" font-size="4.34" text-anchor="end" fill="#4a4a4a" font-family='"Liberation Sans", sans-serif' font-weight="normal" >NK cells resting</text>
<text x="59.60" y="701.00" font-size="4.34" text-anchor="end" fill="#4a4a4a" font-family='"Liberation Sans", sans-serif' font-weight="normal" >NK cells activated</text>
<text x="59.60" y="710.00" font-size="4.34" text-anchor="end" fill="#4a4a4a" font-family='"Liberation Sans", sans-serif' font-weight="normal" >Monocytes</text>
<text x="59.60" y="719.00" font-size="4.34" text-anchor="end" fill="#4a4a4a" font-family='"Liberation Sans", sans-serif' font-weight="normal" >Macrophages M0</text>
<text x="59.60" y="728.00" font-size="4.34" text-anchor="end" fill="#4a4a4a" font-family='"Liberation Sans", sans-serif' font-weight="normal" >Macrophages M1</text>
<text x="59.60" y="737.00" font-size="4.34" text-anchor="end" fill="#4a4a4a" font-family='"Liberation Sans", sans-serif' font-weight="normal" >Macrophages M2</text>
<text x="59.60" y="746.00" font-size="4.34" text-anchor="end" fill="#4a4a4a" font-family='"Liberation Sans", sans-serif' font-weight="normal" >Dendritic cells resting</text>
<text x="59.60" y="755.00" font-size="4.34" text-anchor="end" fill="#4a4a4a" font-family='"Liberation Sans", sans-serif' font-weight="normal" >Dendritic cells activated</text>
<text x="59.60" y="764.00" font-size="4.34" text-anchor="end" fill="#4a4a4a" font-family='"Liberation Sans", sans-serif' font-weight="normal" >Mast cells resting</text>
<text x="59.60" y="773.00" font-size="4.34" text-anchor="end" fill="#4a4a4a" font-family='"Liberation Sans", sans-serif' font-weight="normal" >Mast cells activated</text>
<text x="59.60" y="782.00" font-size="4.34" text-anchor="end" fill="#4a4a4a" font-family='"Liberation Sans", sans-serif' font-weight="normal" >Eosinophils</text>
<text x="59.60" y="791.00" font-size="4.34" text-anchor="end" fill="#4a4a4a" font-family='"Liberation Sans", sans-serif' font-weight="normal" >Neutrophils</text>
<text x="68.20" y="797.60" font-size="4.34" text-anchor="end" fill="#4a4a4a" font-family='"Liberation Sans", sans-serif' font-weight="normal" transform="rotate(-45 68.20 797.60)">B cells naive</text>
<text x="77.20" y="797.60" font-size="4.34" text-anchor="end" fill="#4a4a4a" font-family='"Liberation Sans", sans-serif' font-weight="normal" transform="rotate(-45 77.20 797.60)">B cells memory</text>
<text x="86.20" y="797.60" font-size="4.34" text-anchor="end" fill="#4a4a4a" font-family='"Liberation Sans", sans-serif' font-weight="normal" transform="rotate(-45 86.20 797.60)">Plasma cells</text>
<text x="95.20" y="797.60" font-size="4.34" text-anchor="end" fill="#4a4a4a" font-family='"Liberation Sans", sans-serif' font-weight="normal" transform="rotate(-45 95.20 797.60)">T cells CD8</text>
<text x="104.20" y="797.60" font-size="4.34" text-anchor="end" fill="#4a4a4a" font-family='"Liberation Sans", sans-serif' font-weight="normal" transform="rotate(-45 104.20 797.60)">T cells CD4 naive</text>
<text x="113.20" y="797.60" font-size="4.34" text-anchor="end" fill="#4a4a4a" font-family='"Liberation Sans", sans-serif' font-weight="normal" transform="rotate(-45 113.20 797.60)">T cells CD4 memory resting</text>
<text x="122.20" y="797.60" font-size="4.34" text-anchor="end" fill="#4a4a4a" font-family='"Liberation Sans", sans-serif' font-weight="normal" transform="rotate(-45 122.20 797.60)">T cells CD4 memory activated</text>
<text x="131.20" y="797.60" font-size="4.34" text-anchor="end" fill="#4a4a4a" font-family='"Liberation Sans", sans-serif' font-weight="normal" transform="rotate(-45 131.20 797.60)">T cells follicular helper</text>
<text x="140.20" y="797.60" font-size="4.34" text-anchor="end" fill="#4a4a4a" font-family='"Liberation Sans", sans-serif' font-weight="normal" transform="rotate(-45 140.20 797.60)">T cells regulatory (Tregs)</text>
<text x="149.20" y="797.60" font-size="4.34" text-anchor="end" fill="#4a4a4a" font-family='"Liberation Sans", sans-serif' font-weight="normal" transform="rotate(-45 149.20 797.60)">T cells gamma delta</text>
<text x="158.20" y="797.60" font-size="4.34" text-anchor="end" fill="#4a4a4a" font-family='"Liberation Sans", sans-serif' font-weight="normal" transform="rotate(-45 158.20 797.60)">NK cells resting</text>
<text x="167.20" y="797.60" font-size="4.34" text-anchor="end" fill="#4a4a4a" font-family='"Liberation Sans", sans-serif' font-weight="normal" transform="rotate(-45 167.20 797.60)">NK cells activated</text>
<text x="176.20" y="797.60" font-size="4.34" text-anchor="end" fill="#4a4a4a" font-family='"Liberation Sans", sans-serif' font-weight="normal" transform="rotate(-45 176.20 797.60)">Monocytes</text>
<text x="185.20" y="797.60" font-size="4.34" text-anchor="end" fill="#4a4a4a" font-family='"Liberation Sans", sans-serif' font-weight="normal" transform="rotate(-45 185.20 797.60)">Macrophages M0</text>
<text x="194.20" y="797.60" font-size="4.34" text-anchor="end" fill="#4a4a4a" font-family='"Liberation Sans", sans-serif' font-weight="normal" transform="rotate(-45 194.20 797.60)">Macrophages M1</text>
<text x="203.20" y="797.60" font-size="4.34" text-anchor="end" fill="#4a4a4a" font-family='"Liberation Sans", sans-serif' font-weight="normal" transform="rotate(-45 203.20 797.60)">Macrophages M2</text>
<text x="212.20" y="797.60" font-size="4.34" text-anchor="end" fill="#4a4a4a" font-family='"Liberation Sans", sans-serif' font-weight="normal" transform="rotate(-45 212.20 797.60)">Dendritic cells resting</text>
<text x="221.20" y="797.60" font-size="4.34" text-anchor="end" fill="#4a4a4a" font-family='"Liberation Sans", sans-serif' font-weight="normal" transform="rotate(-45 221.20 797.60)">Dendritic cells activated</text>
<text x="230.20" y="797.60" font-size="4.34" text-anchor="end" fill="#4a4a4a" font-family='"Liberation Sans", sans-serif' font-weight="normal" transform="rotate(-45 230.20 797.60)">Mast cells resting</text>
<text x="239.20" y="797.60" font-size="4.34" text-anchor="end" fill="#4a4a4a" font-family='"Liberation Sans", sans-serif' font-weight="normal" transform="rotate(-45 239.20 797.60)">Mast cells activated</text>
<text x="248.20" y="797.60" font-size="4.34" text-anchor="end" fill="#4a4a4a" font-family='"Liberation Sans", sans-serif' font-weight="normal" transform="rotate(-45 248.20 797.60)">Eosinophils</text>
<text x="257.20" y="797.60" font-size="4.34" text-anchor="end" fill="#4a4a4a" font-family='"Liberation Sans", sans-serif' font-weight="normal" transform="rotate(-45 257.20 797.60)">Neutrophils</text>
<text x="368.10" y="630.70" font-size="5.3" text-anchor="start" fill="#222" font-family='"Liberation Sans", sans-serif' font-weight="normal" >Significance</text>
<line x1="368.30" y1="638.40" x2="375.20" y2="638.40" stroke="#58bcd6" stroke-width="0.6" />
<text x="378.70" y="639.90" font-size="4.4" text-anchor="start" fill="#333" font-family='"Liberation Sans", sans-serif' font-weight="normal" >Negative</text>
<line x1="368.30" y1="647.00" x2="375.20" y2="647.00" stroke="#c8c8c8" stroke-width="0.6" />
<text x="378.70" y="648.50" font-size="4.4" text-anchor="start" fill="#333" font-family='"Liberation Sans", sans-serif' font-weight="normal" >Not Significant</text>
<line x1="368.30" y1="655.10" x2="375.20" y2="655.10" stroke="#e4583b" stroke-width="0.6" />
<text x="378.70" y="656.60" font-size="4.4" text-anchor="start" fill="#333" font-family='"Liberation Sans", sans-serif' font-weight="normal" >Positive</text>
<text x="368.10" y="674.80" font-size="5.3" text-anchor="start" fill="#222" font-family='"Liberation Sans", sans-serif' font-weight="normal" >abs(Correlation)</text>
<line x1="368.30" y1="682.00" x2="375.20" y2="682.00" stroke="#c0c0c0" stroke-width="0.5" />
<text x="378.70" y="683.50" font-size="4.4" text-anchor="start" fill="#333" font-family='"Liberation Sans", sans-serif' font-weight="normal" >&lt; 0.2</text>
<line x1="368.30" y1="690.60" x2="375.20" y2="690.60" stroke="#555" stroke-width="0.9" />
<text x="378.70" y="692.10" font-size="4.4" text-anchor="start" fill="#333" font-family='"Liberation Sans", sans-serif' font-weight="normal" >0.2 - 0.4</text>
<line x1="368.30" y1="698.70" x2="375.20" y2="698.70" stroke="#555" stroke-width="1.4" />
<text x="378.70" y="700.20" font-size="4.4" text-anchor="start" fill="#333" font-family='"Liberation Sans", sans-serif' font-weight="normal" >0.4 - 0.6</text>
<text x="368.10" y="718.10" font-size="5.3" text-anchor="start" fill="#222" font-family='"Liberation Sans", sans-serif' font-weight="normal" >Cell−cell correlation</text>
<defs><linearGradient id="gD" x1="0" y1="0" x2="0" y2="1"><stop offset="0" stop-color="#e2553b"/><stop offset="0.5" stop-color="#8f9597"/><stop offset="1" stop-color="#55bbd8"/></linearGradient></defs>
<rect x="368.10" y="722.00" width="8.40" height="41.10" fill="url(#gD)" />
<text x="378.70" y="732.50" font-size="4.4" text-anchor="start" fill="#333" font-family='"Liberation Sans", sans-serif' font-weight="normal" >0.3</text>
<text x="378.70" y="743.10" font-size="4.4" text-anchor="start" fill="#333" font-family='"Liberation Sans", sans-serif' font-weight="normal" >0.0</text>
<text x="378.70" y="753.70" font-size="4.4" text-anchor="start" fill="#333" font-family='"Liberation Sans", sans-serif' font-weight="normal" >−0.3</text>
<text x="378.70" y="764.10" font-size="4.4" text-anchor="start" fill="#333" font-family='"Liberation Sans", sans-serif' font-weight="normal" >−0.6</text>
<rect x="420.60" y="557.30" width="260.30" height="268.40" fill="#fff" stroke="#9a9a9a" stroke-width="0.9"/>
<rect x="537.30" y="557.88" width="134.40" height="4.35" fill="#104d8c" />
<text x="535.40" y="561.80" font-size="4.12" text-anchor="end" fill="#1a1a1a" font-family='"Liberation Sans", sans-serif' font-weight="normal" >MTORC1_SIGNALING</text>
<rect x="537.30" y="563.23" width="124.80" height="4.35" fill="#104d8c" />
<text x="535.40" y="567.16" font-size="4.12" text-anchor="end" fill="#1a1a1a" font-family='"Liberation Sans", sans-serif' font-weight="normal" >E2F_TARGETS</text>
<rect x="537.30" y="568.59" width="100.70" height="4.35" fill="#104d8c" />
<text x="535.40" y="572.51" font-size="4.12" text-anchor="end" fill="#1a1a1a" font-family='"Liberation Sans", sans-serif' font-weight="normal" >MYC_TARGETS_V2</text>
<rect x="537.30" y="573.94" width="78.30" height="4.35" fill="#104d8c" />
<text x="535.40" y="577.87" font-size="4.12" text-anchor="end" fill="#1a1a1a" font-family='"Liberation Sans", sans-serif' font-weight="normal" >G2M_CHECKPOINT</text>
<rect x="537.30" y="579.30" width="77.80" height="4.35" fill="#104d8c" />
<text x="535.40" y="583.22" font-size="4.12" text-anchor="end" fill="#1a1a1a" font-family='"Liberation Sans", sans-serif' font-weight="normal" >GLYCOLYSIS</text>
<rect x="537.30" y="584.65" width="73.70" height="4.35" fill="#104d8c" />
<text x="535.40" y="588.58" font-size="4.12" text-anchor="end" fill="#1a1a1a" font-family='"Liberation Sans", sans-serif' font-weight="normal" >INFLAMMATORY_RESPONSE</text>
<rect x="537.30" y="590.01" width="65.10" height="4.35" fill="#104d8c" />
<text x="535.40" y="593.94" font-size="4.12" text-anchor="end" fill="#1a1a1a" font-family='"Liberation Sans", sans-serif' font-weight="normal" >P53_PATHWAY</text>
<rect x="537.30" y="595.37" width="58.60" height="4.35" fill="#104d8c" />
<text x="535.40" y="599.29" font-size="4.12" text-anchor="end" fill="#1a1a1a" font-family='"Liberation Sans", sans-serif' font-weight="normal" >TNFA_SIGNALING_VIA_NFKB</text>
<rect x="537.30" y="600.72" width="54.50" height="4.35" fill="#104d8c" />
<text x="535.40" y="604.65" font-size="4.12" text-anchor="end" fill="#1a1a1a" font-family='"Liberation Sans", sans-serif' font-weight="normal" >UNFOLDED_PROTEIN_RESPONSE</text>
<rect x="537.30" y="606.08" width="52.50" height="4.35" fill="#104d8c" />
<text x="535.40" y="610.00" font-size="4.12" text-anchor="end" fill="#1a1a1a" font-family='"Liberation Sans", sans-serif' font-weight="normal" >MYC_TARGETS_V1</text>
<rect x="537.30" y="611.43" width="50.60" height="4.35" fill="#104d8c" />
<text x="535.40" y="615.36" font-size="4.12" text-anchor="end" fill="#1a1a1a" font-family='"Liberation Sans", sans-serif' font-weight="normal" >INTERFERON_GAMMA_RESPONSE</text>
<rect x="537.30" y="616.79" width="42.90" height="4.35" fill="#104d8c" />
<text x="535.40" y="620.72" font-size="4.12" text-anchor="end" fill="#1a1a1a" font-family='"Liberation Sans", sans-serif' font-weight="normal" >OXIDATIVE_PHOSPHORYLATION</text>
<rect x="537.30" y="622.15" width="39.50" height="4.35" fill="#104d8c" />
<text x="535.40" y="626.07" font-size="4.12" text-anchor="end" fill="#1a1a1a" font-family='"Liberation Sans", sans-serif' font-weight="normal" >DNA_REPAIR</text>
<rect x="537.30" y="627.50" width="38.60" height="4.35" fill="#104d8c" />
<text x="535.40" y="631.43" font-size="4.12" text-anchor="end" fill="#1a1a1a" font-family='"Liberation Sans", sans-serif' font-weight="normal" >INTERFERON_ALPHA_RESPONSE</text>
<rect x="537.30" y="632.86" width="29.20" height="4.35" fill="#104d8c" />
<text x="535.40" y="636.78" font-size="4.12" text-anchor="end" fill="#1a1a1a" font-family='"Liberation Sans", sans-serif' font-weight="normal" >COMPLEMENT</text>
<rect x="537.30" y="638.22" width="25.30" height="4.35" fill="#104d8c" />
<text x="535.40" y="642.14" font-size="4.12" text-anchor="end" fill="#1a1a1a" font-family='"Liberation Sans", sans-serif' font-weight="normal" >ALLOGRAFT_REJECTION</text>
<rect x="537.30" y="643.57" width="23.20" height="4.35" fill="#104d8c" />
<text x="535.40" y="647.50" font-size="4.12" text-anchor="end" fill="#1a1a1a" font-family='"Liberation Sans", sans-serif' font-weight="normal" >REACTIVE_OXYGEN_SPECIES_PATHWAY</text>
<rect x="537.30" y="648.93" width="15.80" height="4.35" fill="#c8c4c4" />
<text x="535.40" y="652.85" font-size="4.12" text-anchor="end" fill="#c4c4c4" font-family='"Liberation Sans", sans-serif' font-weight="normal" >COAGULATION</text>
<rect x="537.30" y="654.28" width="10.70" height="4.35" fill="#c8c4c4" />
<text x="535.40" y="658.21" font-size="4.12" text-anchor="end" fill="#c4c4c4" font-family='"Liberation Sans", sans-serif' font-weight="normal" >BILE_ACID_METABOLISM</text>
<rect x="537.30" y="659.64" width="9.50" height="4.35" fill="#c8c4c4" />
<text x="535.40" y="663.56" font-size="4.12" text-anchor="end" fill="#c4c4c4" font-family='"Liberation Sans", sans-serif' font-weight="normal" >XENOBIOTIC_METABOLISM</text>
<rect x="537.30" y="665.00" width="8.90" height="4.35" fill="#c8c4c4" />
<text x="535.40" y="668.92" font-size="4.12" text-anchor="end" fill="#c4c4c4" font-family='"Liberation Sans", sans-serif' font-weight="normal" >HYPOXIA</text>
<rect x="537.30" y="670.35" width="8.70" height="4.35" fill="#c8c4c4" />
<text x="535.40" y="674.28" font-size="4.12" text-anchor="end" fill="#c4c4c4" font-family='"Liberation Sans", sans-serif' font-weight="normal" >APICAL_SURFACE</text>
<rect x="537.30" y="675.71" width="8.40" height="4.35" fill="#c8c4c4" />
<text x="535.40" y="679.63" font-size="4.12" text-anchor="end" fill="#c4c4c4" font-family='"Liberation Sans", sans-serif' font-weight="normal" >MITOTIC_SPINDLE</text>
<rect x="537.30" y="681.06" width="8.40" height="4.35" fill="#c8c4c4" />
<text x="535.40" y="684.99" font-size="4.12" text-anchor="end" fill="#c4c4c4" font-family='"Liberation Sans", sans-serif' font-weight="normal" >PROTEIN_SECRETION</text>
<rect x="537.30" y="686.42" width="2.50" height="4.35" fill="#c8c4c4" />
<text x="535.40" y="690.34" font-size="4.12" text-anchor="end" fill="#c4c4c4" font-family='"Liberation Sans", sans-serif' font-weight="normal" >PI3K_AKT_MTOR_SIGNALING</text>
<rect x="536.80" y="691.77" width="0.50" height="4.35" fill="#c8c4c4" />
<text x="541.00" y="695.70" font-size="4.12" text-anchor="start" fill="#c4c4c4" font-family='"Liberation Sans", sans-serif' font-weight="normal" >ANDROGEN_RESPONSE</text>
<rect x="533.80" y="697.13" width="3.50" height="4.35" fill="#c8c4c4" />
<text x="541.00" y="701.06" font-size="4.12" text-anchor="start" fill="#c4c4c4" font-family='"Liberation Sans", sans-serif' font-weight="normal" >ANGIOGENESIS</text>
<rect x="529.10" y="702.49" width="8.20" height="4.35" fill="#c8c4c4" />
<text x="541.00" y="706.41" font-size="4.12" text-anchor="start" fill="#c4c4c4" font-family='"Liberation Sans", sans-serif' font-weight="normal" >SPERMATOGENESIS</text>
<rect x="522.10" y="707.84" width="15.20" height="4.35" fill="#c8c4c4" />
<text x="541.00" y="711.77" font-size="4.12" text-anchor="start" fill="#c4c4c4" font-family='"Liberation Sans", sans-serif' font-weight="normal" >PANCREAS_BETA_CELLS</text>
<rect x="520.20" y="713.20" width="17.10" height="4.35" fill="#c8c4c4" />
<text x="541.00" y="717.12" font-size="4.12" text-anchor="start" fill="#c4c4c4" font-family='"Liberation Sans", sans-serif' font-weight="normal" >TGF_BETA_SIGNALING</text>
<rect x="519.30" y="718.56" width="18.00" height="4.35" fill="#c8c4c4" />
<text x="541.00" y="722.48" font-size="4.12" text-anchor="start" fill="#c4c4c4" font-family='"Liberation Sans", sans-serif' font-weight="normal" >UV_RESPONSE_UP</text>
<rect x="516.90" y="723.91" width="20.40" height="4.35" fill="#7dcd7d" />
<text x="541.00" y="727.84" font-size="4.12" text-anchor="start" fill="#1a1a1a" font-family='"Liberation Sans", sans-serif' font-weight="normal" >ADIPOGENESIS</text>
<rect x="516.70" y="729.27" width="20.60" height="4.35" fill="#7dcd7d" />
<text x="541.00" y="733.19" font-size="4.12" text-anchor="start" fill="#1a1a1a" font-family='"Liberation Sans", sans-serif' font-weight="normal" >IL6_JAK_STAT3_SIGNALING</text>
<rect x="515.30" y="734.62" width="22.00" height="4.35" fill="#7dcd7d" />
<text x="541.00" y="738.55" font-size="4.12" text-anchor="start" fill="#1a1a1a" font-family='"Liberation Sans", sans-serif' font-weight="normal" >KRAS_SIGNALING_DN</text>
<rect x="514.60" y="739.98" width="22.70" height="4.35" fill="#7dcd7d" />
<text x="541.00" y="743.90" font-size="4.12" text-anchor="start" fill="#1a1a1a" font-family='"Liberation Sans", sans-serif' font-weight="normal" >CHOLESTEROL_HOMEOSTASIS</text>
<rect x="514.40" y="745.34" width="22.90" height="4.35" fill="#7dcd7d" />
<text x="541.00" y="749.26" font-size="4.12" text-anchor="start" fill="#1a1a1a" font-family='"Liberation Sans", sans-serif' font-weight="normal" >IL2_STAT5_SIGNALING</text>
<rect x="509.90" y="750.69" width="27.40" height="4.35" fill="#7dcd7d" />
<text x="541.00" y="754.62" font-size="4.12" text-anchor="start" fill="#1a1a1a" font-family='"Liberation Sans", sans-serif' font-weight="normal" >PEROXISOME</text>
<rect x="507.90" y="756.05" width="29.40" height="4.35" fill="#7dcd7d" />
<text x="541.00" y="759.97" font-size="4.12" text-anchor="start" fill="#1a1a1a" font-family='"Liberation Sans", sans-serif' font-weight="normal" >WNT_BETA_CATENIN_SIGNALING</text>
<rect x="503.80" y="761.40" width="33.50" height="4.35" fill="#7dcd7d" />
<text x="541.00" y="765.33" font-size="4.12" text-anchor="start" fill="#1a1a1a" font-family='"Liberation Sans", sans-serif' font-weight="normal" >FATTY_ACID_METABOLISM</text>
<rect x="502.80" y="766.76" width="34.50" height="4.35" fill="#7dcd7d" />
<text x="541.00" y="770.68" font-size="4.12" text-anchor="start" fill="#1a1a1a" font-family='"Liberation Sans", sans-serif' font-weight="normal" >ESTROGEN_RESPONSE_LATE</text>
<rect x="491.90" y="772.12" width="45.40" height="4.35" fill="#7dcd7d" />
<text x="541.00" y="776.04" font-size="4.12" text-anchor="start" fill="#1a1a1a" font-family='"Liberation Sans", sans-serif' font-weight="normal" >HEDGEHOG_SIGNALING</text>
<rect x="487.40" y="777.47" width="49.90" height="4.35" fill="#7dcd7d" />
<text x="541.00" y="781.40" font-size="4.12" text-anchor="start" fill="#1a1a1a" font-family='"Liberation Sans", sans-serif' font-weight="normal" >UV_RESPONSE_DN</text>
<rect x="482.90" y="782.83" width="54.40" height="4.35" fill="#7dcd7d" />
<text x="541.00" y="786.75" font-size="4.12" text-anchor="start" fill="#1a1a1a" font-family='"Liberation Sans", sans-serif' font-weight="normal" >KRAS_SIGNALING_UP</text>
<rect x="477.20" y="788.18" width="60.10" height="4.35" fill="#7dcd7d" />
<text x="541.00" y="792.11" font-size="4.12" text-anchor="start" fill="#1a1a1a" font-family='"Liberation Sans", sans-serif' font-weight="normal" >ESTROGEN_RESPONSE_EARLY</text>
<rect x="468.40" y="793.54" width="68.90" height="4.35" fill="#7dcd7d" />
<text x="541.00" y="797.46" font-size="4.12" text-anchor="start" fill="#1a1a1a" font-family='"Liberation Sans", sans-serif' font-weight="normal" >APOPTOSIS</text>
<rect x="461.30" y="798.89" width="76.00" height="4.35" fill="#7dcd7d" />
<text x="541.00" y="802.82" font-size="4.12" text-anchor="start" fill="#1a1a1a" font-family='"Liberation Sans", sans-serif' font-weight="normal" >APICAL_JUNCTION</text>
<rect x="458.80" y="804.25" width="78.50" height="4.35" fill="#7dcd7d" />
<text x="541.00" y="808.18" font-size="4.12" text-anchor="start" fill="#1a1a1a" font-family='"Liberation Sans", sans-serif' font-weight="normal" >HEME_METABOLISM</text>
<rect x="447.20" y="809.61" width="90.10" height="4.35" fill="#7dcd7d" />
<text x="541.00" y="813.53" font-size="4.12" text-anchor="start" fill="#1a1a1a" font-family='"Liberation Sans", sans-serif' font-weight="normal" >EPITHELIAL_MESENCHYMAL_TRANSITION</text>
<rect x="444.10" y="814.96" width="93.20" height="4.35" fill="#7dcd7d" />
<text x="541.00" y="818.89" font-size="4.12" text-anchor="start" fill="#1a1a1a" font-family='"Liberation Sans", sans-serif' font-weight="normal" >NOTCH_SIGNALING</text>
<rect x="432.30" y="820.32" width="105.00" height="4.35" fill="#7dcd7d" />
<text x="541.00" y="824.24" font-size="4.12" text-anchor="start" fill="#1a1a1a" font-family='"Liberation Sans", sans-serif' font-weight="normal" >MYOGENESIS</text>
<line x1="555.60" y1="557.80" x2="555.60" y2="647.95" stroke="#ffffff" stroke-width="0.5" stroke-opacity="0.25"/>
<line x1="518.40" y1="723.89" x2="518.40" y2="825.20" stroke="#ffffff" stroke-width="0.5" stroke-opacity="0.25"/>
<line x1="463.10" y1="825.70" x2="463.10" y2="827.30" stroke="#888" stroke-width="0.5" />
<text x="463.10" y="831.80" font-size="3.9" text-anchor="middle" fill="#555" font-family='"Liberation Sans", sans-serif' font-weight="normal" >-4</text>
<line x1="537.30" y1="825.70" x2="537.30" y2="827.30" stroke="#888" stroke-width="0.5" />
<text x="537.30" y="831.80" font-size="3.9" text-anchor="middle" fill="#555" font-family='"Liberation Sans", sans-serif' font-weight="normal" >0</text>
<line x1="611.50" y1="825.70" x2="611.50" y2="827.30" stroke="#888" stroke-width="0.5" />
<text x="611.50" y="831.80" font-size="3.9" text-anchor="middle" fill="#555" font-family='"Liberation Sans", sans-serif' font-weight="normal" >4</text>
<text x="552.10" y="838.20" font-size="5.1" text-anchor="middle" fill="#222" font-family='"Liberation Sans", sans-serif' font-weight="normal" >t value of GSVA score,C1 vs C2</text>
</svg></body></html>
